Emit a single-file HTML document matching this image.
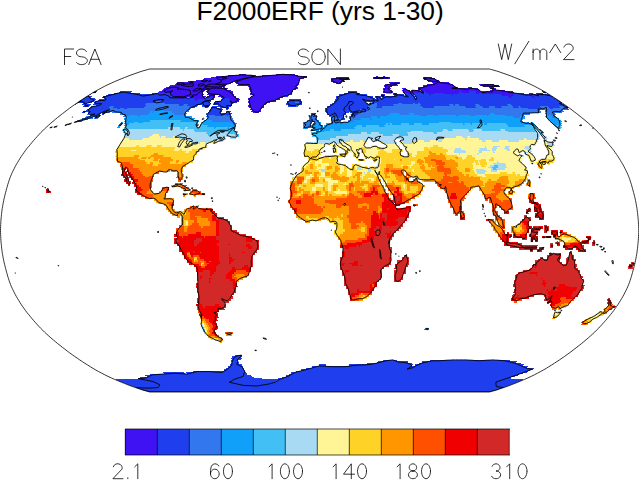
<!DOCTYPE html>
<html><head><meta charset="utf-8"><title>F2000ERF</title><style>html,body{margin:0;padding:0;background:#fff}body{width:639px;height:480px;overflow:hidden}svg{display:block}text{font-family:"Liberation Sans",sans-serif}</style></head><body>
<svg width="639" height="480" viewBox="0 0 639 480">
<rect width="639" height="480" fill="#fff"/>
<defs><clipPath id="g"><path d="M489.4,392L491.7,391.4L494.1,390.7L496.7,390L499.4,389.1L502.2,388.1L505.1,387.1L508.2,386L511.3,384.8L514.6,383.5L517.9,382.2L521.2,380.8L524.6,379.4L527.9,377.9L531.2,376.4L534.4,374.8L537.5,373.2L540.5,371.6L543.4,370L546.2,368.4L548.9,366.7L551.6,365L554.3,363.3L556.9,361.6L559.5,359.9L562,358.1L564.6,356.4L567.1,354.6L569.6,352.8L572,351L574.4,349.1L576.8,347.3L579.2,345.4L581.5,343.6L583.8,341.7L586,339.8L588.3,337.9L590.4,336L592.5,334.1L594.6,332.2L596.5,330.2L598.5,328.3L600.3,326.4L602.1,324.4L603.9,322.4L605.6,320.5L607.3,318.5L608.9,316.5L610.6,314.5L612.2,312.6L613.7,310.6L615.1,308.6L616.5,306.6L617.9,304.6L619.2,302.6L620.4,300.6L621.6,298.6L622.8,296.6L623.9,294.6L624.9,292.6L625.9,290.6L626.9,288.6L627.8,286.6L628.6,284.6L629.4,282.6L630.1,280.6L630.7,278.6L631.4,276.6L631.9,274.6L632.5,272.6L633,270.6L633.6,268.5L634.1,266.5L634.6,264.5L635.1,262.5L635.5,260.5L635.9,258.5L636.3,256.5L636.6,254.5L637,252.5L637.2,250.5L637.5,248.5L637.7,246.5L637.9,244.5L638.1,242.5L638.3,240.5L638.4,238.5L638.5,236.5L638.6,234.5L638.7,232.5L638.7,230.5L638.7,228.5L638.6,226.5L638.5,224.5L638.4,222.5L638.3,220.5L638.1,218.5L637.9,216.5L637.7,214.5L637.5,212.5L637.2,210.5L637,208.5L636.6,206.5L636.3,204.5L635.9,202.5L635.5,200.5L635.1,198.5L634.6,196.5L634.1,194.5L633.6,192.5L633,190.4L632.5,188.4L631.9,186.4L631.4,184.4L630.7,182.4L630.1,180.4L629.4,178.4L628.6,176.4L627.8,174.4L626.9,172.4L625.9,170.4L624.9,168.4L623.9,166.4L622.8,164.4L621.6,162.4L620.4,160.4L619.2,158.4L617.9,156.4L616.5,154.4L615.1,152.4L613.7,150.4L612.2,148.4L610.6,146.5L608.9,144.5L607.3,142.5L605.6,140.5L603.9,138.6L602.1,136.6L600.3,134.6L598.5,132.7L596.5,130.8L594.6,128.8L592.5,126.9L590.4,125L588.3,123.1L586,121.2L583.8,119.3L581.5,117.4L579.2,115.6L576.8,113.7L574.4,111.9L572,110L569.6,108.2L567.1,106.4L564.6,104.6L562,102.9L559.5,101.1L556.9,99.4L554.3,97.7L551.6,96L548.9,94.3L546.2,92.6L543.4,91L540.5,89.4L537.5,87.8L534.4,86.2L531.2,84.6L527.9,83.1L524.6,81.6L521.2,80.2L517.9,78.8L514.6,77.5L511.3,76.2L508.2,75L505.1,73.9L502.2,72.9L499.4,71.9L496.7,71L494.1,70.3L491.7,69.6L489.4,69L149.8,69L147.5,69.6L145.1,70.3L142.5,71L139.8,71.9L137,72.9L134.1,73.9L131,75L127.9,76.2L124.6,77.5L121.3,78.8L118,80.2L114.6,81.6L111.3,83.1L108,84.6L104.8,86.2L101.7,87.8L98.7,89.4L95.8,91L93,92.6L90.3,94.3L87.6,96L84.9,97.7L82.3,99.4L79.7,101.1L77.2,102.9L74.6,104.6L72.1,106.4L69.6,108.2L67.2,110L64.8,111.9L62.4,113.7L60,115.6L57.7,117.4L55.4,119.3L53.2,121.2L50.9,123.1L48.8,125L46.7,126.9L44.6,128.8L42.7,130.8L40.7,132.7L38.9,134.6L37.1,136.6L35.3,138.6L33.6,140.5L31.9,142.5L30.3,144.5L28.6,146.5L27,148.4L25.5,150.4L24.1,152.4L22.7,154.4L21.3,156.4L20,158.4L18.8,160.4L17.6,162.4L16.4,164.4L15.3,166.4L14.3,168.4L13.3,170.4L12.3,172.4L11.4,174.4L10.6,176.4L9.8,178.4L9.1,180.4L8.5,182.4L7.8,184.4L7.3,186.4L6.7,188.4L6.2,190.4L5.6,192.5L5.1,194.5L4.6,196.5L4.1,198.5L3.7,200.5L3.3,202.5L2.9,204.5L2.6,206.5L2.2,208.5L2,210.5L1.7,212.5L1.5,214.5L1.3,216.5L1.1,218.5L0.9,220.5L0.8,222.5L0.7,224.5L0.6,226.5L0.5,228.5L0.5,230.5L0.5,232.5L0.6,234.5L0.7,236.5L0.8,238.5L0.9,240.5L1.1,242.5L1.3,244.5L1.5,246.5L1.7,248.5L2,250.5L2.2,252.5L2.6,254.5L2.9,256.5L3.3,258.5L3.7,260.5L4.1,262.5L4.6,264.5L5.1,266.5L5.6,268.5L6.2,270.6L6.7,272.6L7.3,274.6L7.8,276.6L8.5,278.6L9.1,280.6L9.8,282.6L10.6,284.6L11.4,286.6L12.3,288.6L13.3,290.6L14.3,292.6L15.3,294.6L16.4,296.6L17.6,298.6L18.8,300.6L20,302.6L21.3,304.6L22.7,306.6L24.1,308.6L25.5,310.6L27,312.6L28.6,314.5L30.3,316.5L31.9,318.5L33.6,320.5L35.3,322.4L37.1,324.4L38.9,326.4L40.7,328.3L42.7,330.2L44.6,332.2L46.7,334.1L48.8,336L50.9,337.9L53.2,339.8L55.4,341.7L57.7,343.6L60,345.4L62.4,347.3L64.8,349.1L67.2,351L69.6,352.8L72.1,354.6L74.6,356.4L77.2,358.1L79.7,359.9L82.3,361.6L84.9,363.3L87.6,365L90.3,366.7L93,368.4L95.8,370L98.7,371.6L101.7,373.2L104.8,374.8L108,376.4L111.3,377.9L114.6,379.4L118,380.8L121.3,382.2L124.6,383.5L127.9,384.8L131,386L134.1,387.1L137,388.1L139.8,389.1L142.5,390L145.1,390.7L147.5,391.4L149.8,392Z"/></clipPath></defs>
<g clip-path="url(#g)" shape-rendering="crispEdges">
<path fill="#3f12f4" d="M252.5,113.3L258.5,113.3L259,111L253.1,111ZM251.4,111.6L260.8,111.6L261.3,109.3L252,109.3ZM250.2,109.9L261.3,109.9L261.9,107.6L250.9,107.6ZM249.1,108.2L263.6,108.2L264.1,105.9L249.8,105.9ZM248.1,106.5L264.1,106.5L264.7,104.2L248.8,104.2ZM230.1,104.8L232.4,104.8L233.2,102.5L230.9,102.5ZM248.8,104.8L266.4,104.8L266.9,102.5L249.5,102.5ZM215.8,103.1L219.8,103.1L220.8,100.9L216.8,100.9ZM229.3,103.1L236.6,103.1L237.4,100.9L230.2,100.9ZM247.8,103.1L270.3,103.1L270.7,100.9L248.5,100.9ZM193.5,101.5L197.4,101.5L198.7,99.2L194.8,99.2ZM228.5,101.5L239.1,101.5L239.9,99.2L229.4,99.2ZM248.5,101.5L275.7,101.5L276.2,99.2L249.2,99.2ZM176.6,99.8L183.8,99.8L185.2,97.6L178.1,97.6ZM193.1,99.8L205.3,99.8L206.5,97.6L194.4,97.6ZM211.3,99.8L213.5,99.8L214.6,97.6L212.4,97.6ZM227.8,99.8L238.3,99.8L239.1,97.6L228.7,97.6ZM247.6,99.8L279.5,99.8L279.9,97.6L248.3,97.6ZM173.2,98.2L186.9,98.2L188.3,96L174.8,96ZM189.5,98.2L204.8,98.2L206,96L190.9,96ZM205.9,98.2L214.6,98.2L215.7,96L207.1,96ZM220.6,98.2L235.8,98.2L236.7,96L221.6,96ZM249.9,98.2L283.2,98.2L283.6,96L250.7,96ZM509.5,98.2L513.3,98.2L511.3,96L507.4,96ZM532.3,98.2L536.2,98.2L533.9,96L530,96ZM168.3,96.6L202.8,96.6L204.1,94.4L170,94.4ZM208.7,96.6L214.1,96.6L215.3,94.4L209.9,94.4ZM218.4,96.6L233.5,96.6L234.4,94.4L219.5,94.4ZM252.3,96.6L285.2,96.6L285.6,94.4L253,94.4ZM381.5,96.6L385.3,96.6L384.6,94.4L380.8,94.4ZM429.9,96.6L432.1,96.6L430.9,94.4L428.7,94.4ZM452.5,96.6L454.7,96.6L453.3,94.4L451.1,94.4ZM502.6,96.6L516.1,96.6L514,94.4L500.6,94.4ZM530,96.6L538.7,96.6L536.3,94.4L527.8,94.4ZM541.3,96.6L545.2,96.6L542.7,94.4L538.9,94.4ZM166.8,95L202.5,95L203.8,92.8L168.5,92.8ZM206.7,95L232.8,95L233.8,92.8L207.9,92.8ZM249.8,95L288.8,95L289.1,92.8L250.6,92.8ZM393.6,95L397.4,95L396.5,92.8L392.7,92.8ZM408,95L413.3,95L412.3,92.8L407,92.8ZM428.7,95L435.7,95L434.4,92.8L427.5,92.8ZM444.7,95L459.7,95L458.1,92.8L443.3,92.8ZM476.6,95L480.4,95L478.6,92.8L474.9,92.8ZM483,95L515.6,95L513.4,92.8L481.2,92.8ZM530.9,95L534.7,95L532.3,92.8L528.6,92.8ZM537.3,95L544.3,95L541.8,92.8L534.9,92.8ZM159,93.4L202.2,93.4L203.6,91.3L160.8,91.3ZM206.4,93.4L232.2,93.4L233.2,91.3L207.7,91.3ZM250.6,93.4L292.3,93.4L292.6,91.3L251.4,91.3ZM348.5,93.4L350.7,93.4L350.3,91.3L348.2,91.3ZM383.3,93.4L393.3,93.4L392.5,91.3L382.5,91.3ZM403.8,93.4L420.2,93.4L419,91.3L402.8,91.3ZM425.9,93.4L461.3,93.4L459.6,91.3L424.7,91.3ZM462.2,93.4L470.7,93.4L469,91.3L460.6,91.3ZM476.5,93.4L515,93.4L512.7,91.3L474.6,91.3ZM544.4,93.4L546.6,93.4L543.9,91.3L541.8,91.3ZM160.8,91.9L203.6,91.9L205,89.8L162.7,89.8ZM206.1,91.9L230.1,91.9L231.2,89.8L207.5,89.8ZM249.8,91.9L292.6,91.9L292.9,89.8L250.7,89.8ZM384.1,91.9L392.5,91.9L391.6,89.8L383.3,89.8ZM402.8,91.9L411.2,91.9L410.1,89.8L401.8,89.8ZM412.2,91.9L420.6,91.9L419.4,89.8L411.1,89.8ZM421.6,91.9L481.5,91.9L479.6,89.8L420.3,89.8ZM491.8,91.9L506.5,91.9L504.2,89.8L489.8,89.8ZM162.7,90.4L226.6,90.4L227.7,88.2L164.7,88.2ZM249.1,90.4L296,90.4L296.3,88.2L250,88.2ZM383.3,90.4L390.1,90.4L389.2,88.2L382.5,88.2ZM403.4,90.4L407.1,90.4L406,88.2L402.3,88.2ZM418.8,90.4L479.6,90.4L477.6,88.2L417.6,88.2ZM492.8,90.4L496.5,90.4L494.3,88.2L490.7,88.2ZM164.7,88.8L221.6,88.8L222.9,86.7L166.7,86.7ZM222.6,88.8L224.7,88.8L225.9,86.7L223.8,86.7ZM248.5,88.8L297.8,88.8L298.1,86.7L249.4,86.7ZM385.6,88.8L390.7,88.8L389.8,86.7L384.7,86.7ZM419.1,88.8L459.3,88.8L457.5,86.7L417.8,86.7ZM469.4,88.8L473,88.8L471,86.7L467.4,86.7ZM490.7,88.8L495.9,88.8L493.6,86.7L488.5,86.7ZM168.2,87.3L224.4,87.3L225.7,85.3L170.2,85.3ZM247.9,87.3L296.6,87.3L296.9,85.3L248.9,85.3ZM384.7,87.3L392.8,87.3L391.8,85.3L383.8,85.3ZM423.8,87.3L456,87.3L454.1,85.3L422.4,85.3ZM484,87.3L501.1,87.3L498.6,85.3L481.7,85.3ZM173.2,85.9L225.7,85.9L227.1,83.8L175.3,83.8ZM237,85.9L298.4,85.9L298.7,83.8L238.2,83.8ZM385.3,85.9L397.8,85.9L396.7,83.8L384.4,83.8ZM428.3,85.9L454.1,85.9L452.2,83.8L426.8,83.8ZM480.2,85.9L495.7,85.9L493.1,83.8L477.9,83.8ZM175.3,84.4L230,84.4L231.3,82.4L177.4,82.4ZM235.2,84.4L298.7,84.4L299,82.4L236.5,82.4ZM336.1,84.4L341.1,84.4L340.8,82.4L335.9,82.4ZM390.2,84.4L401,84.4L399.8,82.4L389.2,82.4ZM434.1,84.4L450.7,84.4L448.8,82.4L432.4,82.4ZM186.1,83L232.8,83L234.1,81L188.1,81ZM235,83L299,83L299.3,81L236.3,81ZM333,83L342.2,83L341.9,81L332.8,81ZM433.8,83L441.6,83L439.7,81L432.1,81ZM195.2,81.6L236.9,81.6L238.2,79.6L197.1,79.6ZM237.8,81.6L299.3,81.6L299.7,79.6L239,79.6ZM331.4,81.6L344.7,81.6L344.3,79.6L331.2,79.6ZM427.8,81.6L439.7,81.6L437.9,79.6L426.1,79.6ZM202.7,80.2L299.7,80.2L300,78.3L204.5,78.3ZM331.2,80.2L349.9,80.2L349.4,78.3L331,78.3ZM424.7,80.2L436.5,80.2L434.7,78.3L423.1,78.3ZM210,78.9L304.1,78.9L304.3,77.1L211.7,77.1ZM336.5,78.9L349.4,78.9L349,77.1L336.2,77.1ZM373.6,78.9L390.7,78.9L389.6,77.1L372.7,77.1ZM424.4,78.9L433.3,78.9L431.5,77.1L422.8,77.1ZM214.5,77.7L307,77.7L307.2,75.9L216.1,75.9ZM376.8,77.7L378.7,77.7L377.8,75.9L375.9,75.9ZM383.6,77.7L385.5,77.7L384.5,75.9L382.6,75.9ZM226.7,76.5L255.3,76.5L256.3,74.8L228.2,74.8ZM261.4,76.5L297.9,76.5L298.3,74.8L262.3,74.8ZM238.7,75.4L245.8,75.4L247,73.7L239.9,73.7ZM275.4,75.4L294.3,75.4L294.7,73.7L276,73.7Z"/>
<path fill="#1f3fee" d="M149.5,392.3L489.1,392.3L490.2,391.4L148.4,391.4ZM148.4,392L490.2,392L492.4,390.8L146.2,390.8ZM146.2,391.4L492.4,391.4L494.7,390.2L143.9,390.2ZM143.9,390.8L494.7,390.8L497.1,389.4L141.5,389.4ZM141.5,390L497.1,390L499.7,388.6L138.9,388.6ZM138.9,389.2L499.7,389.2L502.4,387.7L136.2,387.7ZM136.2,388.3L502.4,388.3L505.2,386.7L133.4,386.7ZM134,387.3L505.2,387.3L508,385.6L131.2,385.6ZM131.2,386.2L508,386.2L511,384.5L128.2,384.5ZM128.2,385.1L511,385.1L514,383.3L125.2,383.3ZM125.2,383.9L514,383.9L517.1,382.1L122.1,382.1ZM122.1,382.7L517.1,382.7L520.3,380.8L118.9,380.8ZM118.9,381.4L520.3,381.4L523.4,379.4L115.8,379.4ZM139.9,380L262.5,380L261.6,378L137.1,378ZM278.9,380L509.2,380L512.2,378L278.3,378ZM141.4,378.6L254.4,378.6L253.4,376.6L138.8,376.6ZM282.6,378.6L509.3,378.6L512.1,376.6L282,376.6ZM147.5,377.2L251.9,377.2L250.9,375.1L145,375.1ZM286.4,377.2L513.6,377.2L516.4,375.1L285.9,375.1ZM151,375.7L248,375.7L247,373.7L148.6,373.7ZM288.9,375.7L517.9,375.7L520.6,373.7L288.5,373.7ZM165.2,374.3L185.3,374.3L183.5,372.2L163.1,372.2ZM187.7,374.3L247,374.3L246,372.2L186,372.2ZM291.5,374.3L522.1,374.3L524.8,372.2L291.1,372.2ZM193.6,372.8L246,372.8L245.1,370.6L192,370.6ZM295.7,372.8L526.3,372.8L528.9,370.6L295.4,370.6ZM224.4,371.2L245.1,371.2L244.2,369.1L223.3,369.1ZM301.6,371.2L528.9,371.2L531.5,369.1L301.3,369.1ZM226.4,369.7L244.2,369.7L243.3,367.6L225.3,367.6ZM306,369.7L533,369.7L535.5,367.6L305.9,367.6ZM228.5,368.2L243.3,368.2L242.4,366L227.5,366ZM312.2,368.2L526,368.2L528.4,366L312.1,366ZM230.6,366.6L242.4,366.6L241.6,364.4L229.7,364.4ZM318.5,366.6L325.5,366.6L325.6,364.4L318.5,364.4ZM348.9,366.6L411.7,366.6L412.8,364.4L349.2,364.4ZM414.3,366.6L522,366.6L524.2,364.4L415.4,364.4ZM231.3,365L240,365L239.1,362.8L230.3,362.8ZM366.9,365L411.1,365L412.1,362.8L367.5,362.8ZM418.6,365L519.3,365L521.5,362.8L419.7,362.8ZM232,363.4L239.1,363.4L238.3,361.2L231.1,361.2ZM377.2,363.4L407.2,363.4L408.1,361.2L377.9,361.2ZM421.3,363.4L515,363.4L517,361.2L422.4,361.2ZM231.1,361.8L238.3,361.8L237.4,359.5L230.2,359.5ZM382.8,361.8L396.6,361.8L397.4,359.5L383.5,359.5ZM429,361.8L508.7,361.8L510.7,359.5L430.1,359.5ZM231.8,360.1L240.8,360.1L240,357.9L230.9,357.9ZM232.6,358.5L241.6,358.5L240.9,356.2L231.8,356.2ZM235.2,356.8L242.6,356.8L241.8,354.5L234.4,354.5ZM340.5,120.3L344.8,120.3L344.6,118L340.3,118ZM336.6,118.6L344.6,118.6L344.3,116.2L336.5,116.2ZM88.4,116.8L96.2,116.8L98.1,114.5L90.4,114.5ZM213.4,116.8L223,116.8L223.8,114.5L214.3,114.5ZM226,116.8L228.4,116.8L229.2,114.5L226.8,114.5ZM311.2,116.8L313.6,116.8L313.6,114.5L311.2,114.5ZM331.1,116.8L344.3,116.8L344.1,114.5L331,114.5ZM351,116.8L357,116.8L356.7,114.5L350.7,114.5ZM88.6,115.1L99.9,115.1L101.8,112.7L90.6,112.7ZM101.1,115.1L103.5,115.1L105.4,112.7L103,112.7ZM207.1,115.1L231,115.1L231.8,112.7L208,112.7ZM311.2,115.1L315.4,115.1L315.4,112.7L311.3,112.7ZM327.4,115.1L345.9,115.1L345.7,112.7L327.3,112.7ZM352.5,115.1L358.5,115.1L358.2,112.7L352.2,112.7ZM81.7,113.3L84,113.3L86.1,111L83.8,111ZM87,113.3L105.4,113.3L107.3,111L89,111ZM208,113.3L221.1,113.3L222,111L209,111ZM225.8,113.3L230,113.3L230.8,111L226.7,111ZM325.5,113.3L349.3,113.3L349,111L325.5,111ZM350.5,113.3L360,113.3L359.6,111L350.2,111ZM85.5,111.6L107.3,111.6L109.2,109.3L87.6,109.3ZM209,111.6L222,111.6L222.9,109.3L210,109.3ZM325.5,111.6L361.4,111.6L361,109.3L325.4,109.3ZM362.5,111.6L368.4,111.6L368,109.3L362.1,109.3ZM87.6,109.9L109.2,109.9L111.2,107.6L89.8,107.6ZM115.6,109.9L119.7,109.9L121.5,107.6L117.5,107.6ZM122.6,109.9L126.7,109.9L128.5,107.6L124.4,107.6ZM210,109.9L221.1,109.9L222,107.6L211,107.6ZM225.8,109.9L228.1,109.9L229,107.6L226.6,107.6ZM325.4,109.9L368,109.9L367.5,107.6L325.4,107.6ZM528.2,109.9L541.1,109.9L539,107.6L526.3,107.6ZM551,109.9L555.1,109.9L552.9,107.6L548.8,107.6ZM566.7,109.9L569.1,109.9L566.8,107.6L564.4,107.6ZM89.8,108.2L109.4,108.2L111.4,105.9L91.9,105.9ZM112.3,108.2L144.1,108.2L145.7,105.9L114.2,105.9ZM188.5,108.2L194.3,108.2L195.5,105.9L189.7,105.9ZM211,108.2L216.8,108.2L217.8,105.9L212,105.9ZM219.7,108.2L229,108.2L229.8,105.9L220.6,105.9ZM327.1,108.2L369.3,108.2L368.8,105.9L327,105.9ZM375.6,108.2L383.1,108.2L382.5,105.9L375.1,105.9ZM422.4,108.2L435.1,108.2L434,105.9L421.4,105.9ZM465.7,108.2L476.7,108.2L475.2,105.9L464.3,105.9ZM483,108.2L490.5,108.2L488.9,105.9L481.5,105.9ZM495.1,108.2L502.7,108.2L500.9,105.9L493.5,105.9ZM512.5,108.2L520,108.2L518.1,105.9L510.6,105.9ZM521.1,108.2L542.5,108.2L540.4,105.9L519.2,105.9ZM548.8,108.2L561.6,108.2L559.3,105.9L546.7,105.9ZM564.4,108.2L568.5,108.2L566.2,105.9L562.1,105.9ZM83.3,106.5L89.1,106.5L91.3,104.2L85.6,104.2ZM95.4,106.5L145.7,106.5L147.4,104.2L97.5,104.2ZM177.7,106.5L183.5,106.5L184.8,104.2L179.1,104.2ZM186.3,106.5L197.2,106.5L198.4,104.2L187.6,104.2ZM201.7,106.5L209.2,106.5L210.3,104.2L202.9,104.2ZM217.2,106.5L231.5,106.5L232.4,104.2L218.2,104.2ZM287.6,106.5L296.7,106.5L297,104.2L287.9,104.2ZM330.5,106.5L370.5,106.5L370,104.2L330.3,104.2ZM376.8,106.5L394.5,106.5L393.8,104.2L376.2,104.2ZM419.7,106.5L451.2,106.5L449.9,104.2L418.7,104.2ZM454,106.5L456.3,106.5L455,104.2L452.7,104.2ZM459.2,106.5L476.9,106.5L475.4,104.2L457.8,104.2ZM479.8,106.5L509.5,106.5L507.7,104.2L478.2,104.2ZM512.4,106.5L566.2,106.5L563.8,104.2L510.5,104.2ZM74.6,104.8L76,104.8L78.4,102.5L76.9,102.5ZM82.2,104.8L86.2,104.8L88.5,102.5L84.5,102.5ZM92.4,104.8L145.7,104.8L147.4,102.5L94.6,102.5ZM163.8,104.8L210.3,104.8L211.3,102.5L165.3,102.5ZM213.1,104.8L230.7,104.8L231.5,102.5L214.1,102.5ZM286.2,104.8L302.1,104.8L302.2,102.5L286.5,102.5ZM332,104.8L368.3,104.8L367.9,102.5L331.9,102.5ZM369.4,104.8L371.7,104.8L371.2,102.5L368.9,102.5ZM376.2,104.8L398.9,104.8L398.2,102.5L375.7,102.5ZM401.7,104.8L414.2,104.8L413.3,102.5L400.9,102.5ZM415.3,104.8L419.3,104.8L418.4,102.5L414.4,102.5ZM420.4,104.8L563.8,104.8L561.4,102.5L419.4,102.5ZM76.9,103.1L91.9,103.1L94.1,100.9L79.4,100.9ZM92.9,103.1L155.8,103.1L157.4,100.9L95.2,100.9ZM160.3,103.1L209.7,103.1L210.8,100.9L161.8,100.9ZM214.1,103.1L216.4,103.1L217.4,100.9L215.2,100.9ZM219.2,103.1L229.9,103.1L230.8,100.9L220.2,100.9ZM286.5,103.1L295.5,103.1L295.7,100.9L286.8,100.9ZM298.3,103.1L302.2,103.1L302.4,100.9L298.5,100.9ZM333.6,103.1L366.2,103.1L365.7,100.9L333.5,100.9ZM372.3,103.1L561.4,103.1L559,100.9L371.8,100.9ZM79.4,101.5L94.1,101.5L96.4,99.2L81.8,99.2ZM96.9,101.5L194.1,101.5L195.4,99.2L99.1,99.2ZM196.8,101.5L210.8,101.5L211.9,99.2L198.1,99.2ZM220.2,101.5L229.1,101.5L230,99.2L221.2,99.2ZM288.5,101.5L300.7,101.5L300.9,99.2L288.8,99.2ZM335.1,101.5L559,101.5L556.6,99.2L335,99.2ZM81.8,99.8L93.1,99.8L95.5,97.6L84.3,97.6ZM102.4,99.8L177.2,99.8L178.7,97.6L104.7,97.6ZM183.2,99.8L193.7,99.8L195,97.6L184.6,97.6ZM204.7,99.8L211.9,99.8L213,97.6L205.9,97.6ZM221.2,99.8L228.4,99.8L229.3,97.6L222.2,97.6ZM336.6,99.8L375.2,99.8L374.6,97.6L336.4,97.6ZM376.2,99.8L556.6,99.8L554.1,97.6L375.6,97.6ZM84.3,98.2L90.6,98.2L93,96L86.8,96ZM101.4,98.2L173.8,98.2L175.4,96L103.7,96ZM336.4,98.2L372.9,98.2L372.4,96L336.3,96ZM375.6,98.2L381.1,98.2L380.5,96L375,96ZM382.1,98.2L415.4,98.2L414.4,96L381.5,96ZM416.4,98.2L510.1,98.2L508,96L415.4,96ZM512.7,98.2L532.9,98.2L530.6,96L510.7,96ZM535.6,98.2L554.1,98.2L551.6,96L533.3,96ZM86.8,96.6L88.2,96.6L90.7,94.4L89.3,94.4ZM105.3,96.6L168.9,96.6L170.6,94.4L107.7,94.4ZM284.6,96.6L288.4,96.6L288.8,94.4L285,94.4ZM339.5,96.6L367.5,96.6L367,94.4L339.3,94.4ZM394.4,96.6L404.7,96.6L403.8,94.4L393.6,94.4ZM405.7,96.6L414.4,96.6L413.3,94.4L404.8,94.4ZM415.4,96.6L430.5,96.6L429.3,94.4L414.3,94.4ZM431.5,96.6L453.1,96.6L451.7,94.4L430.3,94.4ZM454.1,96.6L503.2,96.6L501.2,94.4L452.7,94.4ZM515.5,96.6L530.6,96.6L528.4,94.4L513.4,94.4ZM538.1,96.6L541.9,96.6L539.5,94.4L535.7,94.4ZM544.6,96.6L551.6,96.6L549.1,94.4L542.1,94.4ZM112.4,95L138.6,95L140.6,92.8L114.8,92.8ZM150.8,95L167.4,95L169.1,92.8L152.7,92.8ZM288.2,95L291.9,95L292.3,92.8L288.5,92.8ZM344.1,95L360.6,95L360.2,92.8L343.8,92.8ZM404.8,95L408.6,95L407.6,92.8L403.8,92.8ZM412.7,95L429.3,95L428.1,92.8L411.7,92.8ZM435.1,95L445.3,95L443.9,92.8L433.8,92.8ZM459.1,95L477.2,95L475.5,92.8L457.5,92.8ZM479.8,95L483.6,95L481.8,92.8L478,92.8ZM515,95L525.2,95L522.9,92.8L512.8,92.8ZM91.9,93.4L94.8,93.4L97.4,91.3L94.5,91.3ZM117.9,93.4L129.6,93.4L131.8,91.3L120.2,91.3ZM157.4,93.4L159.6,93.4L161.4,91.3L159.3,91.3ZM350.1,93.4L357,93.4L356.6,91.3L349.7,91.3ZM419.6,93.4L426.5,93.4L425.3,91.3L418.4,91.3ZM460.7,93.4L462.8,93.4L461.2,91.3L459,91.3ZM470.1,93.4L477.1,93.4L475.2,91.3L468.4,91.3Z"/>
<path fill="#3277ee" d="M424.2,330.4L426.7,330.4L427.4,328L424.8,328ZM305.1,127.5L311.4,127.5L311.4,125.1L305.2,125.1ZM231.7,125.7L236.1,125.7L236.7,123.3L232.3,123.3ZM303.3,125.7L311.4,125.7L311.5,123.3L303.4,123.3ZM312.7,125.7L315.2,125.7L315.2,123.3L312.8,123.3ZM228.6,123.9L234.8,123.9L235.5,121.5L229.3,121.5ZM303.4,123.9L311.5,123.9L311.5,121.5L303.5,121.5ZM314.6,123.9L317.1,123.9L317.1,121.5L314.7,121.5ZM331.5,123.9L348.9,123.9L348.7,121.5L331.4,121.5ZM75.3,122.1L81.5,122.1L83.3,119.7L77.2,119.7ZM210.7,122.1L233.6,122.1L234.3,119.7L211.6,119.7ZM307.2,122.1L319,122.1L319,119.7L307.3,119.7ZM331.4,122.1L341.2,122.1L341.1,119.7L331.3,119.7ZM348.1,122.1L354.2,122.1L354,119.7L347.8,119.7ZM80.9,120.3L87,120.3L88.9,118L82.8,118ZM206.1,120.3L232.5,120.3L233.2,118L207,118ZM309.2,120.3L317.1,120.3L317.2,118L309.3,118ZM331.3,120.3L341.1,120.3L340.9,118L331.2,118ZM349.7,120.3L361.3,120.3L361,118L349.4,118ZM369.9,120.3L372.4,120.3L371.9,118L369.5,118ZM84.6,118.6L92.5,118.6L94.4,116.2L86.6,116.2ZM93.8,118.6L98,118.6L99.9,116.2L95.6,116.2ZM207,118.6L231.3,118.6L232.1,116.2L207.9,116.2ZM309.3,118.6L317.2,118.6L317.2,116.2L309.3,116.2ZM331.2,118.6L337.2,118.6L337.1,116.2L331.1,116.2ZM349.4,118.6L371.9,118.6L371.5,116.2L349.2,116.2ZM376.8,118.6L381.1,118.6L380.6,116.2L376.3,116.2ZM513.8,118.6L521.7,118.6L520,116.2L512.2,116.2ZM552.1,118.6L556.4,118.6L554.4,116.2L550.2,116.2ZM95.6,116.8L99.9,116.8L101.7,114.5L97.5,114.5ZM122.8,116.8L128.8,116.8L130.5,114.5L124.5,114.5ZM135.5,116.8L139.7,116.8L141.2,114.5L137,114.5ZM182.6,116.8L185,116.8L186.1,114.5L183.7,114.5ZM206.1,116.8L214,116.8L214.9,114.5L207.1,114.5ZM222.4,116.8L226.6,116.8L227.4,114.5L223.2,114.5ZM227.8,116.8L230.3,116.8L231,114.5L228.6,114.5ZM313,116.8L317.2,116.8L317.2,114.5L313,114.5ZM329.3,116.8L331.7,116.8L331.6,114.5L329.2,114.5ZM356.4,116.8L387.8,116.8L387.2,114.5L356.1,114.5ZM419.8,116.8L427.7,116.8L426.7,114.5L419,114.5ZM434.3,116.8L438.5,116.8L437.5,114.5L433.3,114.5ZM456,116.8L460.3,116.8L459.1,114.5L454.9,114.5ZM470.5,116.8L476.6,116.8L475.2,114.5L469.2,114.5ZM486.8,116.8L489.2,116.8L487.8,114.5L485.4,114.5ZM504.9,116.8L525.4,116.8L523.7,114.5L503.4,114.5ZM546.6,116.8L549,116.8L547.1,114.5L544.7,114.5ZM552,116.8L556.2,116.8L554.2,114.5L550,114.5ZM86.8,115.1L89.2,115.1L91.2,112.7L88.8,112.7ZM119.1,115.1L148.4,115.1L149.9,112.7L120.8,112.7ZM173,115.1L186.1,115.1L187.3,112.7L174.2,112.7ZM205.3,115.1L207.7,115.1L208.6,112.7L206.3,112.7ZM357.9,115.1L390.8,115.1L390.2,112.7L357.6,112.7ZM399.2,115.1L410.6,115.1L409.8,112.7L398.5,112.7ZM413.6,115.1L491.4,115.1L489.9,112.7L412.8,112.7ZM494.4,115.1L530.9,115.1L529.1,112.7L492.9,112.7ZM546.5,115.1L556,115.1L554,112.7L544.5,112.7ZM104.8,113.3L109,113.3L110.8,111L106.7,111ZM111.9,113.3L149.9,113.3L151.4,111L113.7,111ZM151.1,113.3L153.5,113.3L154.9,111L152.6,111ZM170.7,113.3L185.5,113.3L186.7,111L172,111ZM359.4,113.3L541.5,113.3L539.6,111L359,111ZM546.3,113.3L562.9,113.3L560.7,111L544.3,111ZM106.7,111.6L156.7,111.6L158.2,109.3L108.6,109.3ZM163.2,111.6L188.5,111.6L189.6,109.3L164.6,109.3ZM360.8,111.6L363.1,111.6L362.7,109.3L360.4,109.3ZM367.8,111.6L541.3,111.6L539.3,109.3L367.4,109.3ZM546,111.6L564.3,111.6L562.1,109.3L544,109.3ZM108.6,109.9L116.2,109.9L118.1,107.6L110.6,107.6ZM119.1,109.9L123.2,109.9L125,107.6L120.9,107.6ZM126.1,109.9L189.6,109.9L190.8,107.6L127.9,107.6ZM367.4,109.9L528.8,109.9L526.9,107.6L366.9,107.6ZM540.5,109.9L551.6,109.9L549.4,107.6L538.4,107.6ZM554.5,109.9L567.3,109.9L565,107.6L552.3,107.6ZM108.8,108.2L112.9,108.2L114.8,105.9L110.8,105.9ZM143.5,108.2L189.1,108.2L190.3,105.9L145.1,105.9ZM368.7,108.2L376.2,108.2L375.7,105.9L368.2,105.9ZM382.5,108.2L423,108.2L422,105.9L381.9,105.9ZM434.5,108.2L466.3,108.2L464.9,105.9L433.4,105.9ZM476.1,108.2L483.6,108.2L482.1,105.9L474.6,105.9ZM489.9,108.2L495.7,108.2L494.1,105.9L488.3,105.9ZM502.1,108.2L513.1,108.2L511.2,105.9L500.3,105.9ZM519.4,108.2L521.7,108.2L519.8,105.9L517.5,105.9ZM541.9,108.2L549.4,108.2L547.3,105.9L539.8,105.9ZM561,108.2L565,108.2L562.7,105.9L558.7,105.9ZM145.1,106.5L178.3,106.5L179.7,104.2L146.8,104.2ZM182.9,106.5L186.9,106.5L188.2,104.2L184.2,104.2ZM296.1,106.5L298.4,106.5L298.7,104.2L296.4,104.2ZM369.9,106.5L377.4,106.5L376.8,104.2L369.4,104.2ZM393.9,106.5L420.3,106.5L419.3,104.2L393.2,104.2ZM450.6,106.5L454.6,106.5L453.3,104.2L449.3,104.2ZM455.7,106.5L459.8,106.5L458.4,104.2L454.4,104.2ZM476.3,106.5L480.4,106.5L478.8,104.2L474.8,104.2ZM508.9,106.5L513,106.5L511.1,104.2L507.1,104.2ZM145.1,104.8L164.4,104.8L165.9,102.5L146.8,102.5ZM371.1,104.8L376.8,104.8L376.3,102.5L370.6,102.5ZM398.3,104.8L402.3,104.8L401.5,102.5L397.6,102.5ZM413.6,104.8L415.9,104.8L415,102.5L412.7,102.5ZM418.7,104.8L421,104.8L420,102.5L417.8,102.5ZM155.2,103.1L160.9,103.1L162.4,100.9L156.8,100.9ZM294.9,103.1L298.9,103.1L299.1,100.9L295.1,100.9Z"/>
<path fill="#10a0fa" d="M426.1,330.4L428.6,330.4L429.3,328L426.8,328ZM316.4,133L324.7,133L324.7,130.6L316.4,130.6ZM310.6,131.2L318.9,131.2L318.9,128.7L310.7,128.7ZM320.3,131.2L330.5,131.2L330.4,128.7L320.3,128.7ZM333.7,131.2L342,131.2L341.9,128.7L333.6,128.7ZM213.2,129.3L215.7,129.3L216.5,126.9L214,126.9ZM226.6,129.3L229.1,129.3L229.8,126.9L227.3,126.9ZM230.4,129.3L234.9,129.3L235.5,126.9L231.1,126.9ZM303.1,129.3L307.5,129.3L307.6,126.9L303.2,126.9ZM312.6,129.3L355.3,129.3L355,126.9L312.7,126.9ZM117.2,127.5L119.7,127.5L121.1,125.1L118.7,125.1ZM206.4,127.5L235.5,127.5L236.1,125.1L207.2,125.1ZM303.2,127.5L305.7,127.5L305.8,125.1L303.3,125.1ZM310.8,127.5L322.7,127.5L322.7,125.1L310.8,125.1ZM324,127.5L356.9,127.5L356.6,125.1L324,125.1ZM362,127.5L366.4,127.5L366.1,125.1L361.7,125.1ZM379.1,127.5L385.4,127.5L384.9,125.1L378.6,125.1ZM508.1,127.5L525.8,127.5L524.3,125.1L506.8,125.1ZM534.7,127.5L537.2,127.5L535.6,125.1L533.1,125.1ZM555.6,127.5L558.1,127.5L556.3,125.1L553.9,125.1ZM118.7,125.7L121.1,125.7L122.6,123.3L120.2,123.3ZM124.3,125.7L128.7,125.7L130.1,123.3L125.8,123.3ZM201.6,125.7L232.3,125.7L232.9,123.3L202.4,123.3ZM314.6,125.7L320.8,125.7L320.8,123.3L314.6,123.3ZM325.9,125.7L386.8,125.7L386.3,123.3L325.8,123.3ZM388.1,125.7L390.5,125.7L390,123.3L387.6,123.3ZM391.8,125.7L401.9,125.7L401.2,123.3L391.3,123.3ZM408.8,125.7L415,125.7L414.3,123.3L408.1,123.3ZM422,125.7L430.1,125.7L429.3,123.3L421.2,123.3ZM463.4,125.7L465.9,125.7L464.8,123.3L462.4,123.3ZM471,125.7L473.4,125.7L472.3,123.3L469.8,123.3ZM484.1,125.7L488.5,125.7L487.3,123.3L482.9,123.3ZM506.8,125.7L535.6,125.7L534,123.3L505.4,123.3ZM553.9,125.7L562,125.7L560.2,123.3L552.1,123.3ZM120.2,123.9L122.6,123.9L124.1,121.5L121.7,121.5ZM123.9,123.9L133.8,123.9L135.3,121.5L125.4,121.5ZM137,123.9L143.2,123.9L144.5,121.5L138.4,121.5ZM194.9,123.9L197.4,123.9L198.4,121.5L195.9,121.5ZM200.6,123.9L229.2,123.9L229.9,121.5L201.5,121.5ZM316.5,123.9L320.8,123.9L320.8,121.5L316.5,121.5ZM348.3,123.9L440.5,123.9L439.6,121.5L348.1,121.5ZM451.1,123.9L530.3,123.9L528.7,121.5L450.1,121.5ZM531.5,123.9L534,123.9L532.4,121.5L529.9,121.5ZM552.1,123.9L562.1,123.9L560.2,121.5L550.3,121.5ZM123.5,122.1L150.1,122.1L151.5,119.7L125.1,119.7ZM179.2,122.1L198.4,122.1L199.3,119.7L180.3,119.7ZM203.3,122.1L211.3,122.1L212.2,119.7L204.2,119.7ZM353.6,122.1L523.1,122.1L521.5,119.7L353.4,119.7ZM550.3,122.1L562.1,122.1L560.1,119.7L548.5,119.7ZM123.2,120.3L193.8,120.3L194.8,118L124.8,118ZM360.7,120.3L370.5,120.3L370.1,118L360.4,118ZM371.8,120.3L523.3,120.3L521.7,118L371.3,118ZM548.5,120.3L560.1,120.3L558.2,118L546.7,118ZM124.8,118.6L191.2,118.6L192.2,116.2L126.4,116.2ZM371.3,118.6L377.4,118.6L376.9,116.2L370.9,116.2ZM380.5,118.6L514.4,118.6L512.8,116.2L380,116.2ZM521.1,118.6L525.3,118.6L523.6,116.2L519.4,116.2ZM546.7,118.6L552.7,118.6L550.8,116.2L544.8,116.2ZM555.8,118.6L558.2,118.6L556.2,116.2L553.8,116.2ZM128.2,116.8L136.1,116.8L137.6,114.5L129.9,114.5ZM139.1,116.8L183.2,116.8L184.3,114.5L140.6,114.5ZM387.2,116.8L420.4,116.8L419.6,114.5L386.6,114.5ZM427.1,116.8L434.9,116.8L433.9,114.5L426.1,114.5ZM437.9,116.8L456.6,116.8L455.5,114.5L436.9,114.5ZM459.7,116.8L471.1,116.8L469.8,114.5L458.5,114.5ZM476,116.8L487.4,116.8L486,114.5L474.6,114.5ZM488.6,116.8L505.5,116.8L504,114.5L487.2,114.5ZM548.4,116.8L552.6,116.8L550.6,114.5L546.5,114.5ZM147.8,115.1L173.6,115.1L174.8,112.7L149.3,112.7ZM390.2,115.1L399.8,115.1L399.1,112.7L389.6,112.7ZM410,115.1L414.2,115.1L413.4,112.7L409.2,112.7ZM490.8,115.1L495,115.1L493.5,112.7L489.3,112.7ZM149.3,113.3L151.7,113.3L153.2,111L150.8,111ZM152.9,113.3L171.3,113.3L172.6,111L154.3,111ZM156.1,111.6L163.8,111.6L165.2,109.3L157.6,109.3Z"/>
<path fill="#42bff4" d="M203.7,332.3L206.2,332.3L205.4,329.8L202.9,329.8ZM202.9,330.4L205.4,330.4L204.7,328L202.1,328ZM202.1,328.6L204.7,328.6L204,326.2L201.4,326.2ZM492.6,170.4L497.4,170.4L496.9,167.9L492.1,167.9ZM492.1,168.5L499,168.5L498.4,166L491.5,166ZM493.6,166.6L498.4,166.6L497.8,164.1L493,164.1ZM316.3,140.4L330.8,140.4L330.7,137.9L316.3,137.9ZM316.3,138.5L336.7,138.5L336.6,136.1L316.4,136.1ZM206.6,136.7L211.1,136.7L211.8,134.2L207.3,134.2ZM234,136.7L238.5,136.7L239,134.2L234.5,134.2ZM312.4,136.7L348.3,136.7L348.2,134.2L312.5,134.2ZM383,136.7L393.4,136.7L393,134.2L382.6,134.2ZM398.7,136.7L409.1,136.7L408.6,134.2L398.2,134.2ZM205.3,134.8L217.6,134.8L218.2,132.4L206,132.4ZM226.7,134.8L237.1,134.8L237.6,132.4L227.3,132.4ZM310.5,134.8L361.8,134.8L361.5,132.4L310.6,132.4ZM367,134.8L371.5,134.8L371.2,132.4L366.7,132.4ZM378.7,134.8L408.6,134.8L408,132.4L378.4,132.4ZM433.3,134.8L437.8,134.8L437.1,132.4L432.6,132.4ZM540.5,134.8L543,134.8L541.6,132.4L539.1,132.4ZM122.8,133L125.3,133L126.5,130.6L124,130.6ZM194.4,133L237.6,133L238.1,130.6L195.2,130.6ZM324.1,133L411.9,133L411.3,130.6L324.1,130.6ZM422.9,133L442.9,133L442.1,130.6L422.2,130.6ZM469.4,133L473.8,133L472.9,130.6L468.4,130.6ZM508.1,133L537.7,133L536.3,130.6L506.9,130.6ZM539.1,133L543.6,133L542.1,130.6L537.7,130.6ZM122.1,131.2L128.5,131.2L129.8,128.7L123.4,128.7ZM181.7,131.2L184.3,131.2L185.2,128.7L182.7,128.7ZM193.3,131.2L234.3,131.2L234.9,128.7L194.1,128.7ZM329.9,131.2L334.3,131.2L334.2,128.7L329.8,128.7ZM341.4,131.2L444,131.2L443.2,128.7L341.3,128.7ZM447.2,131.2L453.6,131.2L452.7,128.7L446.4,128.7ZM468.4,131.2L474.8,131.2L473.7,128.7L467.4,128.7ZM481.9,131.2L501.7,131.2L500.5,128.7L480.8,128.7ZM505,131.2L536.3,131.2L534.9,128.7L503.7,128.7ZM537.7,131.2L542.1,131.2L540.6,128.7L536.2,128.7ZM123.4,129.3L168,129.3L169,126.9L124.8,126.9ZM178.8,129.3L185.2,129.3L186.1,126.9L179.8,126.9ZM186.5,129.3L213.8,129.3L214.6,126.9L187.4,126.9ZM215.1,129.3L227.2,129.3L227.9,126.9L215.9,126.9ZM228.5,129.3L231,129.3L231.7,126.9L229.2,126.9ZM354.7,129.3L538.7,129.3L537.2,126.9L354.4,126.9ZM557.2,129.3L561.6,129.3L560,126.9L555.6,126.9ZM124.8,127.5L197.5,127.5L198.4,125.1L126.2,125.1ZM198.8,127.5L207,127.5L207.8,125.1L199.7,125.1ZM356.3,127.5L362.6,127.5L362.3,125.1L356,125.1ZM365.8,127.5L379.7,127.5L379.2,125.1L365.5,125.1ZM384.8,127.5L508.7,127.5L507.4,125.1L384.3,125.1ZM525.2,127.5L535.3,127.5L533.7,125.1L523.7,125.1ZM557.5,127.5L561.9,127.5L560.1,125.1L555.7,125.1ZM128.1,125.7L196.5,125.7L197.4,123.3L129.5,123.3ZM199.7,125.7L202.2,125.7L203,123.3L200.6,123.3ZM386.2,125.7L388.7,125.7L388.2,123.3L385.7,123.3ZM389.9,125.7L392.4,125.7L391.9,123.3L389.4,123.3ZM401.3,125.7L409.4,125.7L408.7,123.3L400.6,123.3ZM414.4,125.7L422.6,125.7L421.8,123.3L413.7,123.3ZM429.5,125.7L464,125.7L463,123.3L428.7,123.3ZM465.3,125.7L471.6,125.7L470.4,123.3L464.2,123.3ZM472.8,125.7L484.7,125.7L483.5,123.3L471.7,123.3ZM487.9,125.7L507.4,125.7L506,123.3L486.7,123.3ZM133.2,123.9L137.6,123.9L139,121.5L134.7,121.5ZM142.6,123.9L195.5,123.9L196.5,121.5L143.9,121.5ZM439.9,123.9L451.7,123.9L450.7,121.5L439,121.5ZM149.5,122.1L179.8,122.1L180.9,119.7L150.9,119.7Z"/>
<path fill="#a9daf3" d="M215.3,341.3L217.7,341.3L216.9,338.9L214.5,338.9ZM204.5,334.1L207,334.1L206.2,331.7L203.7,331.7ZM204.1,328.6L206.6,328.6L205.9,326.2L203.4,326.2ZM201.4,326.8L204,326.8L203.3,324.3L200.7,324.3ZM200.7,324.9L203.3,324.9L202.6,322.5L200,322.5ZM363.1,174.2L365.9,174.2L365.7,171.7L363,171.7ZM376,174.2L378.7,174.2L378.5,171.7L375.8,171.7ZM476.5,174.2L485.6,174.2L485.2,171.7L476,171.7ZM320.4,172.3L325.2,172.3L325.2,169.8L320.4,169.8ZM367.3,172.3L372.1,172.3L372,169.8L367.1,169.8ZM476,172.3L487.3,172.3L486.8,169.8L475.6,169.8ZM491,172.3L498,172.3L497.4,169.8L490.5,169.8ZM318.2,170.4L325.2,170.4L325.2,167.9L318.2,167.9ZM356.5,170.4L363.5,170.4L363.4,167.9L356.4,167.9ZM367.1,170.4L372,170.4L371.8,167.9L367,167.9ZM475.6,170.4L484.7,170.4L484.2,167.9L475.1,167.9ZM490.5,170.4L493.2,170.4L492.7,167.9L489.9,167.9ZM496.8,170.4L505.9,170.4L505.4,167.9L496.3,167.9ZM356.4,168.5L361.2,168.5L361.1,166L356.3,166ZM375.5,168.5L378.2,168.5L378,166L375.3,166ZM487.8,168.5L492.7,168.5L492.1,166L487.3,166ZM498.4,168.5L507.5,168.5L506.9,166L497.8,166ZM489.4,166.6L494.2,166.6L493.6,164.1L488.8,164.1ZM497.8,166.6L506.9,166.6L506.2,164.1L497.2,164.1ZM493,164.7L506.2,164.7L505.6,162.3L492.4,162.3ZM496.6,162.9L499.3,162.9L498.6,160.4L495.9,160.4ZM521.5,157.2L524.2,157.2L523.3,154.7L520.6,154.7ZM458.7,155.3L461.3,155.3L460.7,152.8L458.1,152.8ZM477.3,155.3L479.9,155.3L479.2,152.8L476.6,152.8ZM524.8,155.3L527.4,155.3L526.5,152.8L523.9,152.8ZM531,155.3L533.6,155.3L532.7,152.8L530,152.8ZM454,153.4L466.9,153.4L466.2,151L453.3,151ZM478.6,153.4L483.3,153.4L482.6,151L477.9,151ZM493,153.4L495.7,153.4L494.9,151L492.2,151ZM523.9,153.4L528.6,153.4L527.6,151L522.9,151ZM453.3,151.6L466.2,151.6L465.5,149.1L452.7,149.1ZM477.9,151.6L490.8,151.6L490,149.1L477.1,149.1ZM492.2,151.6L496.9,151.6L496.1,149.1L491.4,149.1ZM506.6,151.6L511.3,151.6L510.3,149.1L505.7,149.1ZM527,151.6L531.7,151.6L530.7,149.1L526,149.1ZM454.7,149.7L461.5,149.7L460.7,147.2L454.1,147.2ZM479.2,149.7L487.9,149.7L487.1,147.2L478.4,147.2ZM491.4,149.7L498.1,149.7L497.2,147.2L490.5,147.2ZM503.6,149.7L510.3,149.7L509.4,147.2L502.7,147.2ZM524,149.7L530.7,149.7L529.7,147.2L523,147.2ZM484.5,147.8L487.1,147.8L486.2,145.3L483.6,145.3ZM492.6,147.8L501.3,147.8L500.3,145.3L491.7,145.3ZM504.7,147.8L511.4,147.8L510.4,145.3L503.8,145.3ZM525,147.8L531.7,147.8L530.6,145.3L523.9,145.3ZM548.1,145.9L554.8,145.9L553.5,143.5L546.9,143.5ZM190,144.1L200.6,144.1L201.2,141.6L190.7,141.6ZM204,144.1L208.6,144.1L209.2,141.6L204.6,141.6ZM306.3,144.1L332.9,144.1L332.9,141.6L306.3,141.6ZM334.3,144.1L343,144.1L342.8,141.6L334.3,141.6ZM382.5,144.1L397.1,144.1L396.7,141.6L382.1,141.6ZM402.5,144.1L413.1,144.1L412.6,141.6L402.1,141.6ZM546.9,144.1L553.5,144.1L552.2,141.6L545.7,141.6ZM186.7,142.2L213.2,142.2L213.8,139.8L187.4,139.8ZM216.6,142.2L223.2,142.2L223.7,139.8L217.2,139.8ZM316.3,142.2L350.8,142.2L350.6,139.8L316.3,139.8ZM352.2,142.2L360.8,142.2L360.6,139.8L352,139.8ZM362.2,142.2L366.8,142.2L366.5,139.8L361.9,139.8ZM372.1,142.2L376.7,142.2L376.4,139.8L371.9,139.8ZM378.1,142.2L394.7,142.2L394.3,139.8L377.8,139.8ZM400.1,142.2L418.6,142.2L418.1,139.8L399.6,139.8ZM424,142.2L430.6,142.2L430,139.8L423.4,139.8ZM438,142.2L442.6,142.2L441.9,139.8L437.3,139.8ZM481.8,142.2L486.4,142.2L485.5,139.8L480.9,139.8ZM491.8,142.2L500.4,142.2L499.4,139.8L490.8,139.8ZM507.8,142.2L520.3,142.2L519.2,139.8L506.7,139.8ZM535.7,142.2L538.3,142.2L537.1,139.8L534.5,139.8ZM543.7,142.2L548.2,142.2L547,139.8L542.4,139.8ZM127.9,140.4L142.4,140.4L143.4,137.9L129,137.9ZM177.5,140.4L225.7,140.4L226.2,137.9L178.3,137.9ZM330.2,140.4L368.5,140.4L368.2,137.9L330.1,137.9ZM369.9,140.4L396.3,140.4L395.8,137.9L369.6,137.9ZM403.6,140.4L443.8,140.4L443.1,137.9L403.1,137.9ZM465.1,140.4L467.6,140.4L466.8,137.9L464.2,137.9ZM478.9,140.4L525.2,140.4L524,137.9L478,137.9ZM526.5,140.4L539,140.4L537.8,137.9L525.4,137.9ZM544.4,140.4L547,140.4L545.7,137.9L543.1,137.9ZM123.1,138.5L149.3,138.5L150.3,136.1L124.2,136.1ZM158.6,138.5L161.2,138.5L162.1,136.1L159.5,136.1ZM164.5,138.5L173,138.5L173.9,136.1L165.4,136.1ZM176.3,138.5L224.3,138.5L224.8,136.1L177.2,136.1ZM229.6,138.5L236.1,138.5L236.6,136.1L230.1,136.1ZM336.1,138.5L378.1,138.5L377.7,136.1L336,136.1ZM379.4,138.5L456.9,138.5L456.1,136.1L379.1,136.1ZM462.3,138.5L468.8,138.5L467.9,136.1L461.4,136.1ZM470.1,138.5L539.8,138.5L538.5,136.1L469.3,136.1ZM543.1,138.5L547.6,138.5L546.3,136.1L541.8,136.1ZM124.2,136.7L152.3,136.7L153.3,134.2L125.4,134.2ZM157.6,136.7L207.2,136.7L207.9,134.2L158.5,134.2ZM210.5,136.7L234.6,136.7L235.1,134.2L211.2,134.2ZM347.7,136.7L383.6,136.7L383.2,134.2L347.6,134.2ZM392.8,136.7L399.3,136.7L398.8,134.2L392.4,134.2ZM408.5,136.7L540.4,136.7L539.1,134.2L408,134.2ZM541.8,136.7L544.4,136.7L543,134.2L540.5,134.2ZM123.5,134.8L205.9,134.8L206.6,132.4L124.7,132.4ZM217,134.8L227.3,134.8L227.9,132.4L217.6,132.4ZM361.2,134.8L367.6,134.8L367.3,132.4L360.9,132.4ZM370.9,134.8L379.3,134.8L379,132.4L370.6,132.4ZM408,134.8L433.9,134.8L433.2,132.4L407.4,132.4ZM437.2,134.8L539.1,134.8L537.7,132.4L436.5,132.4ZM124.7,133L195,133L195.8,130.6L125.9,130.6ZM411.3,133L423.5,133L422.8,130.6L410.7,130.6ZM442.3,133L470,133L469,130.6L441.5,130.6ZM473.2,133L508.7,133L507.5,130.6L472.3,130.6ZM127.9,131.2L182.3,131.2L183.3,128.7L129.2,128.7ZM183.7,131.2L193.9,131.2L194.7,128.7L184.6,128.7ZM443.4,131.2L447.8,131.2L447,128.7L442.6,128.7ZM453,131.2L469,131.2L468,128.7L452.1,128.7ZM474.2,131.2L482.5,131.2L481.4,128.7L473.1,128.7ZM501.1,131.2L505.6,131.2L504.3,128.7L499.9,128.7ZM167.4,129.3L179.4,129.3L180.4,126.9L168.4,126.9ZM184.6,129.3L187.1,129.3L188,126.9L185.5,126.9Z"/>
<path fill="#fff596" d="M217.1,341.3L219.6,341.3L218.8,338.9L216.3,338.9ZM212.6,339.5L216.9,339.5L216.1,337.1L211.8,337.1ZM205.3,335.9L207.8,335.9L207,333.5L204.5,333.5ZM205.6,332.3L208.1,332.3L207.3,329.8L204.8,329.8ZM204.8,330.4L207.3,330.4L206.6,328L204.1,328ZM203.4,326.8L205.9,326.8L205.2,324.3L202.7,324.3ZM202.7,324.9L205.2,324.9L204.5,322.5L202,322.5ZM200,323.1L202.6,323.1L201.9,320.6L199.3,320.6ZM590,321.2L592.6,321.2L594.1,318.8L591.5,318.8ZM589.5,319.4L596.1,319.4L597.6,316.9L591,316.9ZM591,317.5L599.6,317.5L601.1,315.1L592.5,315.1ZM552.2,315.7L558.8,315.7L560,313.2L553.4,313.2ZM594.5,315.7L599.1,315.7L600.6,313.2L595.9,313.2ZM553.4,313.8L558,313.8L559.2,311.3L554.5,311.3ZM193.2,261L196,261L195.8,258.5L193,258.5ZM563.7,242.1L568.8,242.1L568.9,239.6L563.9,239.6ZM561.6,240.2L571.1,240.2L571.2,237.7L561.7,237.7ZM561.7,238.3L566.8,238.3L566.8,235.9L561.8,235.9ZM185.3,225.1L188.1,225.1L188.2,222.7L185.4,222.7ZM185.4,223.3L188.2,223.3L188.2,220.8L185.4,220.8ZM320.4,196.8L323.2,196.8L323.2,194.3L320.4,194.3ZM322.6,194.9L325.4,194.9L325.4,192.5L322.6,192.5ZM335.7,194.9L347.2,194.9L347.2,192.5L335.7,192.5ZM333.5,193.1L347.2,193.1L347.1,190.6L333.5,190.6ZM311.7,191.2L316.6,191.2L316.6,188.7L311.7,188.7ZM326.9,191.2L331.9,191.2L331.9,188.7L326.9,188.7ZM337.8,191.2L340.6,191.2L340.6,188.7L337.8,188.7ZM311.7,189.3L316.6,189.3L316.6,186.8L311.7,186.8ZM326.9,189.3L331.9,189.3L331.8,186.8L326.9,186.8ZM403,189.3L405.8,189.3L405.6,186.8L402.9,186.8ZM298.7,187.4L301.5,187.4L301.5,184.9L298.7,184.9ZM313.9,187.4L323.2,187.4L323.1,184.9L313.9,184.9ZM326.9,187.4L331.8,187.4L331.8,184.9L326.9,184.9ZM363.8,187.4L366.6,187.4L366.5,184.9L363.7,184.9ZM402.9,187.4L405.6,187.4L405.5,184.9L402.7,184.9ZM313.9,185.5L323.1,185.5L323.1,183L313.9,183ZM326.9,185.5L334,185.5L334,183L326.9,183ZM342,185.5L347,185.5L346.9,183L342,183ZM402.7,185.5L405.5,185.5L405.3,183L402.6,183ZM303.1,183.6L308,183.6L308,181.1L303.1,181.1ZM326.9,183.6L338.3,183.6L338.2,181.1L326.9,181.1ZM344.2,183.6L346.9,183.6L346.9,181.1L344.1,181.1ZM383.1,183.6L388,183.6L387.9,181.1L383,181.1ZM292.3,181.7L295.1,181.7L295.1,179.2L292.4,179.2ZM303.1,181.7L308,181.7L308.1,179.2L303.1,179.2ZM324.7,181.7L338.2,181.7L338.2,179.2L324.7,179.2ZM370,181.7L374.9,181.7L374.8,179.2L369.9,179.2ZM385.1,181.7L387.9,181.7L387.8,179.2L385,179.2ZM305.3,179.8L310.2,179.8L310.2,177.4L305.3,177.4ZM318.2,179.8L321,179.8L321,177.4L318.2,177.4ZM324.7,179.8L331.7,179.8L331.7,177.4L324.7,177.4ZM361.3,179.8L364.1,179.8L364,177.4L361.2,177.4ZM367.8,179.8L374.8,179.8L374.7,177.4L367.7,177.4ZM417.3,179.8L422.2,179.8L422,177.4L417.1,177.4ZM305.3,178L314.5,178L314.5,175.5L305.4,175.5ZM318.2,178L325.3,178L325.3,175.5L318.2,175.5ZM346.2,178L351.1,178L351,175.5L346.1,175.5ZM359.1,178L364,178L363.9,175.5L359,175.5ZM410.6,178L413.4,178L413.2,175.5L410.4,175.5ZM481.6,178L486.5,178L486.1,175.5L481.2,175.5ZM309.7,176.1L312.4,176.1L312.4,173.6L309.7,173.6ZM320.4,176.1L325.3,176.1L325.2,173.6L320.4,173.6ZM346.1,176.1L353.1,176.1L353,173.6L346,173.6ZM361.1,176.1L366,176.1L365.9,173.6L361,173.6ZM374,176.1L381,176.1L380.8,173.6L373.8,173.6ZM476.9,176.1L486.1,176.1L485.6,173.6L476.5,173.6ZM515.5,176.1L518.2,176.1L517.7,173.6L515,173.6ZM519.8,176.1L526.8,176.1L526.3,173.6L519.2,173.6ZM299,174.2L301.7,174.2L301.8,171.7L299,171.7ZM320.4,174.2L325.2,174.2L325.2,171.7L320.4,171.7ZM339.6,174.2L342.4,174.2L342.3,171.7L339.6,171.7ZM346,174.2L353,174.2L353,171.7L346,171.7ZM361,174.2L363.7,174.2L363.6,171.7L360.9,171.7ZM365.3,174.2L368,174.2L367.9,171.7L365.1,171.7ZM369.6,174.2L376.6,174.2L376.4,171.7L369.4,171.7ZM378.1,174.2L380.8,174.2L380.7,171.7L377.9,171.7ZM474.3,174.2L477.1,174.2L476.6,171.7L473.9,171.7ZM485,174.2L500.6,174.2L500.1,171.7L484.6,171.7ZM506.4,174.2L513.4,174.2L512.9,171.7L505.9,171.7ZM515,174.2L526.3,174.2L525.7,171.7L514.4,171.7ZM318.2,172.3L321,172.3L321,169.8L318.2,169.8ZM339.6,172.3L344.4,172.3L344.4,169.8L339.5,169.8ZM346,172.3L353,172.3L352.9,169.8L345.9,169.8ZM356.6,172.3L367.9,172.3L367.7,169.8L356.5,169.8ZM371.5,172.3L374.3,172.3L374.1,169.8L371.4,169.8ZM375.8,172.3L380.7,172.3L380.5,169.8L375.6,169.8ZM412.1,172.3L414.8,172.3L414.5,169.8L411.8,169.8ZM473.9,172.3L476.6,172.3L476.2,169.8L473.5,169.8ZM486.7,172.3L491.6,172.3L491.1,169.8L486.2,169.8ZM497.4,172.3L527.8,172.3L527.2,169.8L496.8,169.8ZM314,170.4L318.8,170.4L318.8,167.9L314,167.9ZM339.5,170.4L344.4,170.4L344.3,167.9L339.4,167.9ZM345.9,170.4L350.7,170.4L350.6,167.9L345.8,167.9ZM354.4,170.4L357.1,170.4L357,167.9L354.3,167.9ZM362.9,170.4L367.7,170.4L367.6,167.9L362.8,167.9ZM375.6,170.4L380.5,170.4L380.3,167.9L375.5,167.9ZM411.8,170.4L414.5,170.4L414.2,167.9L411.5,167.9ZM471.3,170.4L476.2,170.4L475.7,167.9L470.9,167.9ZM484.1,170.4L491.1,170.4L490.5,167.9L483.6,167.9ZM505.3,170.4L527.2,170.4L526.6,167.9L504.8,167.9ZM301.3,168.5L306.1,168.5L306.2,166L301.3,166ZM316.1,168.5L325.2,168.5L325.2,166L316.1,166ZM339.4,168.5L344.3,168.5L344.2,166L339.4,166ZM354.3,168.5L357,168.5L356.9,166L354.2,166ZM360.6,168.5L365.5,168.5L365.3,166L360.5,166ZM369.1,168.5L376.1,168.5L375.9,166L368.9,166ZM377.6,168.5L380.3,168.5L380.1,166L377.4,166ZM409.4,168.5L412.1,168.5L411.8,166L409.1,166ZM473,168.5L488.4,168.5L487.9,166L472.5,166ZM506.9,168.5L526.6,168.5L525.9,166L506.3,166ZM303.5,166.6L308.3,166.6L308.3,164.1L303.5,164.1ZM314,166.6L318.8,166.6L318.8,164.1L314,164.1ZM320.4,166.6L329.4,166.6L329.4,164.1L320.4,164.1ZM339.4,166.6L344.2,166.6L344.1,164.1L339.3,164.1ZM354.2,166.6L361.1,166.6L361,164.1L354,164.1ZM377.4,166.6L380.1,166.6L379.9,164.1L377.2,164.1ZM400.6,166.6L403.4,166.6L403.1,164.1L400.4,164.1ZM407,166.6L413.9,166.6L413.6,164.1L406.7,164.1ZM472.5,166.6L481.5,166.6L481,164.1L471.9,164.1ZM485.1,166.6L490,166.6L489.4,164.1L484.6,164.1ZM506.3,166.6L525.9,166.6L525.2,164.1L505.6,164.1ZM305.6,164.7L310.4,164.7L310.5,162.3L305.7,162.3ZM314,164.7L329.4,164.7L329.3,162.3L314.1,162.3ZM337.2,164.7L339.9,164.7L339.8,162.3L337.1,162.3ZM377.2,164.7L382,164.7L381.8,162.3L377,162.3ZM410.9,164.7L415.7,164.7L415.4,162.3L410.6,162.3ZM471.9,164.7L476.8,164.7L476.2,162.3L471.4,162.3ZM478.3,164.7L481,164.7L480.4,162.3L477.7,162.3ZM486.7,164.7L493.6,164.7L493,162.3L486.1,162.3ZM505.6,164.7L523.1,164.7L522.4,162.3L505,162.3ZM307.8,162.9L312.6,162.9L312.6,160.4L307.8,160.4ZM314.1,162.9L323,162.9L323,160.4L314.1,160.4ZM372.8,162.9L375.5,162.9L375.3,160.4L372.6,160.4ZM379.1,162.9L381.8,162.9L381.6,160.4L378.9,160.4ZM410.6,162.9L415.4,162.9L415,160.4L410.2,160.4ZM473.5,162.9L476.2,162.9L475.6,160.4L472.9,160.4ZM477.7,162.9L480.4,162.9L479.8,160.4L477.1,160.4ZM486.1,162.9L497.2,162.9L496.5,160.4L485.5,160.4ZM498.7,162.9L522.4,162.9L521.6,160.4L498,160.4ZM530.1,162.9L534.9,162.9L534.1,160.4L529.4,160.4ZM307.8,161L310.5,161L310.5,158.5L307.8,158.5ZM318.3,161L323,161L323,158.5L318.3,158.5ZM378.9,161L381.6,161L381.3,158.5L378.6,158.5ZM393.5,161L396.2,161L395.9,158.5L393.2,158.5ZM462.5,161L465.2,161L464.6,158.5L461.9,158.5ZM475,161L481.9,161L481.3,158.5L474.4,158.5ZM485.5,161L490.2,161L489.6,158.5L484.8,158.5ZM493.8,161L521.6,161L520.8,158.5L493.1,158.5ZM529.4,161L536.2,161L535.4,158.5L528.5,158.5ZM539.8,161L542.5,161L541.6,158.5L539,158.5ZM328.7,159.1L331.4,159.1L331.3,156.6L328.6,156.6ZM366.1,159.1L373,159.1L372.8,156.6L366,156.6ZM376.6,159.1L381.3,159.1L381.1,156.6L376.3,156.6ZM461.9,159.1L466.7,159.1L466.1,156.6L461.3,156.6ZM474.4,159.1L491.7,159.1L491,156.6L473.8,156.6ZM493.1,159.1L522.9,159.1L522.1,156.6L492.4,156.6ZM528.5,159.1L535.4,159.1L534.5,156.6L527.7,156.6ZM545.2,159.1L556.2,159.1L555.3,156.6L544.3,156.6ZM355.6,157.2L360.3,157.2L360.2,154.7L355.4,154.7ZM366,157.2L376.9,157.2L376.7,154.7L365.8,154.7ZM411.6,157.2L416.3,157.2L415.9,154.7L411.2,154.7ZM457.2,157.2L468.2,157.2L467.5,154.7L456.6,154.7ZM471.7,157.2L522.1,157.2L521.2,154.7L471.1,154.7ZM527.7,157.2L534.5,157.2L533.6,154.7L526.8,154.7ZM546.4,157.2L555.3,157.2L554.3,154.7L545.4,154.7ZM355.4,155.3L360.2,155.3L360,152.8L355.3,152.8ZM363.7,155.3L378.8,155.3L378.5,152.8L363.5,152.8ZM411.2,155.3L418,155.3L417.6,152.8L410.8,152.8ZM446.3,155.3L459.3,155.3L458.7,152.8L445.7,152.8ZM460.7,155.3L477.9,155.3L477.2,152.8L460.1,152.8ZM479.3,155.3L517.1,155.3L516.2,152.8L478.6,152.8ZM526.8,155.3L531.6,155.3L530.6,152.8L525.9,152.8ZM547.5,155.3L554.3,155.3L553.2,152.8L546.5,152.8ZM184.6,153.4L189.3,153.4L189.9,151L185.3,151ZM310,153.4L312.7,153.4L312.7,151L310.1,151ZM318.3,153.4L320.9,153.4L320.9,151L318.3,151ZM347.1,153.4L349.7,153.4L349.6,151L346.9,151ZM351.2,153.4L357.9,153.4L357.8,151L351,151ZM365.6,153.4L378.5,153.4L378.2,151L365.3,151ZM386.1,153.4L392.9,153.4L392.6,151L385.8,151ZM408.7,153.4L417.6,153.4L417.1,151L408.3,151ZM445.7,153.4L454.6,153.4L453.9,151L445.2,151ZM466.3,153.4L479.2,153.4L478.5,151L465.6,151ZM482.7,153.4L493.6,153.4L492.8,151L482,151ZM495.1,153.4L516.2,153.4L515.3,151L494.3,151ZM517.7,153.4L522.4,153.4L521.5,151L516.8,151ZM528,153.4L530.6,153.4L529.7,151L527,151ZM548.5,153.4L553.2,153.4L552.2,151L547.5,151ZM130,151.6L136.7,151.6L137.6,149.1L130.9,149.1ZM173,151.6L179.7,151.6L180.4,149.1L173.7,149.1ZM181.2,151.6L192,151.6L192.6,149.1L181.8,149.1ZM306,151.6L314.8,151.6L314.8,149.1L306.1,149.1ZM318.3,151.6L320.9,151.6L320.9,149.1L318.3,149.1ZM332.6,151.6L335.2,151.6L335.2,149.1L332.5,149.1ZM342.8,151.6L359.8,151.6L359.6,149.1L342.7,149.1ZM365.3,151.6L380.3,151.6L380,149.1L365.1,149.1ZM383.8,151.6L392.6,151.6L392.2,149.1L383.5,149.1ZM406.3,151.6L425.3,151.6L424.8,149.1L405.9,149.1ZM447.2,151.6L453.9,151.6L453.3,149.1L446.6,149.1ZM465.6,151.6L478.5,151.6L477.7,149.1L464.9,149.1ZM490.2,151.6L492.8,151.6L492,149.1L489.4,149.1ZM496.3,151.6L507.2,151.6L506.3,149.1L495.5,149.1ZM510.7,151.6L517.4,151.6L516.4,149.1L509.7,149.1ZM518.8,151.6L527.6,151.6L526.6,149.1L517.9,149.1ZM547.5,151.6L552.2,151.6L551.1,149.1L546.4,149.1ZM173.7,149.7L204.8,149.7L205.4,147.2L174.4,147.2ZM304,149.7L323,149.7L322.9,147.2L304.1,147.2ZM332.5,149.7L337.2,149.7L337.1,147.2L332.5,147.2ZM340.7,149.7L349.4,149.7L349.3,147.2L340.6,147.2ZM350.9,149.7L361.7,149.7L361.4,147.2L350.7,147.2ZM365.1,149.7L377.9,149.7L377.7,147.2L364.9,147.2ZM379.4,149.7L400.4,149.7L399.9,147.2L379.1,147.2ZM405.9,149.7L424.8,149.7L424.3,147.2L405.4,147.2ZM428.3,149.7L430.9,149.7L430.3,147.2L427.7,147.2ZM442.5,149.7L455.3,149.7L454.7,147.2L441.9,147.2ZM460.9,149.7L479.8,149.7L479,147.2L460.1,147.2ZM487.3,149.7L492,149.7L491.1,147.2L486.5,147.2ZM497.5,149.7L504.2,149.7L503.3,147.2L496.6,147.2ZM509.7,149.7L524.6,149.7L523.6,147.2L508.8,147.2ZM530.1,149.7L532.7,149.7L531.7,147.2L529.1,147.2ZM546.4,149.7L551.1,149.7L549.9,147.2L545.3,147.2ZM117.7,147.8L136.5,147.8L137.4,145.3L118.7,145.3ZM137.9,147.8L146.6,147.8L147.5,145.3L138.9,145.3ZM150.1,147.8L156.8,147.8L157.6,145.3L151,145.3ZM160.2,147.8L207.4,147.8L208,145.3L161,145.3ZM304.1,147.8L325,147.8L324.9,145.3L304.2,145.3ZM332.5,147.8L335.1,147.8L335,145.3L332.4,145.3ZM336.5,147.8L347.3,147.8L347.1,145.3L336.4,145.3ZM348.7,147.8L365.5,147.8L365.3,145.3L348.5,145.3ZM371,147.8L377.7,147.8L377.4,145.3L370.7,145.3ZM387.2,147.8L399.9,147.8L399.5,145.3L386.8,145.3ZM403.4,147.8L434.4,147.8L433.8,145.3L403,145.3ZM437.9,147.8L485.1,147.8L484.2,145.3L437.2,145.3ZM486.5,147.8L493.2,147.8L492.3,145.3L485.6,145.3ZM500.7,147.8L505.3,147.8L504.4,145.3L499.7,145.3ZM510.8,147.8L525.6,147.8L524.5,145.3L509.8,145.3ZM545.3,147.8L554,147.8L552.8,145.3L544.1,145.3ZM118.7,145.9L206,145.9L206.6,143.5L119.8,143.5ZM304.2,145.9L324.9,145.9L324.9,143.5L304.3,143.5ZM328.4,145.9L331,145.9L330.9,143.5L328.3,143.5ZM332.4,145.9L335,145.9L334.9,143.5L332.3,143.5ZM336.4,145.9L343.1,145.9L343,143.5L336.3,143.5ZM346.5,145.9L365.3,145.9L365,143.5L346.4,143.5ZM384.8,145.9L397.5,145.9L397.1,143.5L384.5,143.5ZM403,145.9L536.6,145.9L535.5,143.5L402.5,143.5ZM544.1,145.9L548.7,145.9L547.5,143.5L542.9,143.5ZM119.8,144.1L190.6,144.1L191.3,141.6L120.9,141.6ZM200,144.1L204.6,144.1L205.2,141.6L200.6,141.6ZM208,144.1L210.6,144.1L211.2,141.6L208.6,141.6ZM212,144.1L216.6,144.1L217.2,141.6L212.6,141.6ZM342.4,144.1L367,144.1L366.8,141.6L342.2,141.6ZM380.5,144.1L383.1,144.1L382.7,141.6L380.1,141.6ZM400.5,144.1L403.1,144.1L402.7,141.6L400.1,141.6ZM412.5,144.1L537.5,144.1L536.3,141.6L412,141.6ZM544.9,144.1L547.5,144.1L546.3,141.6L543.7,141.6ZM120.9,142.2L187.3,142.2L188,139.8L122,139.8ZM212.6,142.2L217.2,142.2L217.8,139.8L213.2,139.8ZM350.2,142.2L352.8,142.2L352.6,139.8L350,139.8ZM360.2,142.2L362.8,142.2L362.5,139.8L360,139.8ZM418,142.2L424.6,142.2L424,139.8L417.5,139.8ZM430,142.2L438.6,142.2L437.9,139.8L429.4,139.8ZM442,142.2L482.4,142.2L481.5,139.8L441.3,139.8ZM485.8,142.2L492.4,142.2L491.4,139.8L484.9,139.8ZM499.8,142.2L508.4,142.2L507.3,139.8L498.8,139.8ZM519.7,142.2L536.3,142.2L535.1,139.8L518.6,139.8ZM122,140.4L128.5,140.4L129.6,137.9L123.1,137.9ZM141.8,140.4L178.1,140.4L178.9,137.9L142.8,137.9ZM443.2,140.4L465.7,140.4L464.8,137.9L442.5,137.9ZM467,140.4L479.5,140.4L478.6,137.9L466.2,137.9ZM524.6,140.4L527.1,140.4L526,137.9L523.4,137.9ZM148.7,138.5L159.2,138.5L160.1,136.1L149.7,136.1ZM160.6,138.5L165.1,138.5L166,136.1L161.5,136.1ZM172.4,138.5L176.9,138.5L177.8,136.1L173.3,136.1ZM456.3,138.5L462.9,138.5L462,136.1L455.5,136.1ZM468.2,138.5L470.7,138.5L469.9,136.1L467.3,136.1ZM151.7,136.7L158.2,136.7L159.1,134.2L152.7,134.2Z"/>
<path fill="#ffd228" d="M219,341.3L221.4,341.3L220.6,338.9L218.2,338.9ZM210.7,339.5L213.2,339.5L212.4,337.1L209.9,337.1ZM216.3,339.5L218.8,339.5L218,337.1L215.5,337.1ZM206.4,334.1L208.9,334.1L208.1,331.7L205.6,331.7ZM206.7,330.4L209.3,330.4L208.6,328L206,328ZM206,328.6L208.6,328.6L207.9,326.2L205.3,326.2ZM205.3,326.8L207.9,326.8L207.2,324.3L204.6,324.3ZM204.6,324.9L207.2,324.9L206.5,322.5L203.9,322.5ZM202,323.1L204.5,323.1L203.9,320.6L201.3,320.6ZM586.5,323.1L591,323.1L592.6,320.6L588,320.6ZM586,321.2L590.6,321.2L592.1,318.8L587.5,318.8ZM587.5,319.4L590.1,319.4L591.6,316.9L589,316.9ZM552.9,317.5L557.5,317.5L558.8,315.1L554.2,315.1ZM598.5,315.7L603.2,315.7L604.6,313.2L600,313.2ZM557.4,313.8L560,313.8L561.3,311.3L558.6,311.3ZM598,313.8L602.6,313.8L604,311.3L599.4,311.3ZM562.9,308.2L565.6,308.2L566.7,305.7L564,305.7ZM566.1,306.3L568.7,306.3L569.8,303.8L567.1,303.8ZM360.2,298.7L367.1,298.7L367.3,296.3L360.4,296.3ZM362.5,296.9L365.2,296.9L365.3,294.4L362.6,294.4ZM200.3,266.7L203,266.7L202.9,264.2L200.1,264.2ZM200.1,264.8L205.1,264.8L204.9,262.3L199.9,262.3ZM193.3,262.9L196.1,262.9L196,260.4L193.2,260.4ZM195.4,261L198.2,261L198,258.5L195.2,258.5ZM193,259.1L198,259.1L197.9,256.6L192.9,256.6ZM561.5,242.1L564.3,242.1L564.5,239.6L561.6,239.6ZM568.2,242.1L575.4,242.1L575.5,239.6L568.3,239.6ZM559.4,240.2L562.2,240.2L562.3,237.7L559.5,237.7ZM570.5,240.2L577.7,240.2L577.8,237.7L570.6,237.7ZM559.5,238.3L562.3,238.3L562.4,235.9L559.6,235.9ZM566.2,238.3L575.6,238.3L575.7,235.9L566.2,235.9ZM335.9,236.5L340.9,236.5L340.9,234L335.9,234ZM561.8,236.5L564.6,236.5L564.7,234L561.9,234ZM333.7,234.6L343.2,234.6L343.2,232.1L333.7,232.1ZM333.7,232.7L345.4,232.7L345.4,230.2L333.7,230.2ZM360.3,232.7L365.3,232.7L365.3,230.2L360.3,230.2ZM515.4,232.7L520.4,232.7L520.4,230.2L515.4,230.2ZM335.9,230.8L345.4,230.8L345.4,228.3L335.9,228.3ZM358.1,230.8L365.3,230.8L365.3,228.3L358.1,228.3ZM513.2,230.8L522.7,230.8L522.6,228.3L513.2,228.3ZM335.9,228.9L343.2,228.9L343.2,226.4L335.9,226.4ZM360.3,228.9L365.3,228.9L365.3,226.4L360.3,226.4ZM513.2,228.9L522.6,228.9L522.6,226.4L513.1,226.4ZM183.1,227L188.1,227L188.1,224.5L183.1,224.5ZM335.9,227L343.2,227L343.2,224.5L335.9,224.5ZM515.3,227L520.4,227L520.3,224.5L515.3,224.5ZM183.1,225.1L185.9,225.1L186,222.7L183.1,222.7ZM333.7,225.1L343.2,225.1L343.1,222.7L333.7,222.7ZM183.1,223.3L186,223.3L186,220.8L183.2,220.8ZM329.3,223.3L343.1,223.3L343.1,220.8L329.3,220.8ZM183.2,221.4L188.2,221.4L188.3,218.9L183.3,218.9ZM307.1,221.4L318.8,221.4L318.8,218.9L307.1,218.9ZM327,221.4L332.1,221.4L332.1,218.9L327,218.9ZM333.7,221.4L343.1,221.4L343.1,218.9L333.7,218.9ZM298.3,219.5L301.1,219.5L301.1,217L298.3,217ZM304.9,219.5L318.8,219.5L318.8,217L304.9,217ZM324.8,219.5L332.1,219.5L332.1,217L324.8,217ZM333.7,219.5L340.9,219.5L340.9,217L333.7,217ZM304.9,217.6L310,217.6L310,215.1L304.9,215.1ZM324.8,217.6L329.8,217.6L329.8,215.1L324.8,215.1ZM335.9,217.6L338.7,217.6L338.7,215.1L335.9,215.1ZM340.3,217.6L343.1,217.6L343.1,215.1L340.3,215.1ZM181.2,215.7L186.2,215.7L186.3,213.2L181.3,213.2ZM340.3,215.7L343.1,215.7L343.1,213.2L340.3,213.2ZM176.9,213.8L186.3,213.8L186.4,211.3L177,211.3ZM294.1,196.8L301.3,196.8L301.3,194.3L294.2,194.3ZM318.2,196.8L321,196.8L321,194.3L318.2,194.3ZM322.6,196.8L325.4,196.8L325.4,194.3L322.6,194.3ZM327,196.8L329.7,196.8L329.7,194.3L326.9,194.3ZM331.3,196.8L342.9,196.8L342.8,194.3L331.3,194.3ZM344.5,196.8L347.2,196.8L347.2,194.3L344.4,194.3ZM416.6,196.8L419.4,196.8L419.3,194.3L416.5,194.3ZM296.4,194.9L303.5,194.9L303.5,192.5L296.4,192.5ZM309.5,194.9L312.3,194.9L312.3,192.5L309.5,192.5ZM320.4,194.9L323.2,194.9L323.2,192.5L320.4,192.5ZM326.9,194.9L336.3,194.9L336.3,192.5L326.9,192.5ZM346.6,194.9L349.4,194.9L349.3,192.5L346.6,192.5ZM403.4,194.9L408.4,194.9L408.2,192.5L403.3,192.5ZM300.8,193.1L303.5,193.1L303.6,190.6L300.8,190.6ZM309.5,193.1L316.6,193.1L316.6,190.6L309.5,190.6ZM320.4,193.1L325.4,193.1L325.3,190.6L320.4,190.6ZM326.9,193.1L334.1,193.1L334.1,190.6L326.9,190.6ZM346.6,193.1L349.3,193.1L349.3,190.6L346.5,190.6ZM403.3,193.1L416.9,193.1L416.8,190.6L403.1,190.6ZM296.4,191.2L299.2,191.2L299.2,188.7L296.5,188.7ZM303,191.2L312.3,191.2L312.3,188.7L303,188.7ZM316,191.2L323.2,191.2L323.2,188.7L316,188.7ZM324.7,191.2L327.5,191.2L327.5,188.7L324.7,188.7ZM331.3,191.2L334.1,191.2L334,188.7L331.3,188.7ZM335.6,191.2L338.4,191.2L338.4,188.7L335.6,188.7ZM340,191.2L347.1,191.2L347.1,188.7L340,188.7ZM353,191.2L355.8,191.2L355.8,188.7L353,188.7ZM363.9,191.2L368.9,191.2L368.8,188.7L363.9,188.7ZM400.9,191.2L408.1,191.2L407.9,188.7L400.8,188.7ZM409.7,191.2L419,191.2L418.8,188.7L409.5,188.7ZM296.5,189.3L299.2,189.3L299.3,186.8L296.5,186.8ZM300.8,189.3L312.3,189.3L312.3,186.8L300.9,186.8ZM316,189.3L323.2,189.3L323.2,186.8L316,186.8ZM324.7,189.3L327.5,189.3L327.5,186.8L324.7,186.8ZM331.3,189.3L334,189.3L334,186.8L331.2,186.8ZM335.6,189.3L347.1,189.3L347,186.8L335.6,186.8ZM353,189.3L355.8,189.3L355.7,186.8L352.9,186.8ZM361.7,189.3L368.8,189.3L368.7,186.8L361.6,186.8ZM400.8,189.3L403.6,189.3L403.5,186.8L400.7,186.8ZM405.2,189.3L407.9,189.3L407.8,186.8L405,186.8ZM409.5,189.3L418.8,189.3L418.6,186.8L409.4,186.8ZM509.5,189.3L512.3,189.3L512,186.8L509.2,186.8ZM294.3,187.4L299.3,187.4L299.3,184.9L294.4,184.9ZM300.9,187.4L303.6,187.4L303.7,184.9L300.9,184.9ZM305.2,187.4L314.5,187.4L314.5,184.9L305.2,184.9ZM322.6,187.4L327.5,187.4L327.5,184.9L322.5,184.9ZM331.2,187.4L334,187.4L334,184.9L331.2,184.9ZM337.7,187.4L347,187.4L347,184.9L337.7,184.9ZM359.4,187.4L364.4,187.4L364.3,184.9L359.4,184.9ZM366,187.4L368.7,187.4L368.6,184.9L365.9,184.9ZM400.7,187.4L403.5,187.4L403.3,184.9L400.5,184.9ZM405,187.4L407.8,187.4L407.6,184.9L404.9,184.9ZM409.4,187.4L418.6,187.4L418.5,184.9L409.2,184.9ZM481,187.4L485.9,187.4L485.6,184.9L480.7,184.9ZM507,187.4L514.1,187.4L513.8,184.9L506.7,184.9ZM298.7,185.5L314.5,185.5L314.5,183L298.8,183ZM322.5,185.5L327.5,185.5L327.5,183L322.5,183ZM333.4,185.5L342.6,185.5L342.6,183L333.4,183ZM346.4,185.5L349.1,185.5L349.1,183L346.3,183ZM363.7,185.5L368.6,185.5L368.6,183L363.6,183ZM378.9,185.5L381.6,185.5L381.5,183L378.8,183ZM385.4,185.5L388.1,185.5L388,183L385.3,183ZM394,185.5L403.3,185.5L403.2,183L393.9,183ZM404.9,185.5L407.6,185.5L407.5,183L404.7,183ZM420,185.5L422.8,185.5L422.6,183L419.9,183ZM482.9,185.5L485.6,185.5L485.3,183L482.6,183ZM506.7,185.5L516,185.5L515.6,183L506.4,183ZM300.9,183.6L303.7,183.6L303.7,181.1L301,181.1ZM307.4,183.6L310.2,183.6L310.2,181.1L307.4,181.1ZM313.9,183.6L327.5,183.6L327.5,181.1L313.9,181.1ZM337.7,183.6L344.8,183.6L344.7,181.1L337.6,181.1ZM346.3,183.6L351.3,183.6L351.2,181.1L346.3,181.1ZM352.8,183.6L355.6,183.6L355.5,181.1L352.8,181.1ZM359.3,183.6L362.1,183.6L362,181.1L359.2,181.1ZM368,183.6L375,183.6L374.9,181.1L367.9,181.1ZM376.6,183.6L381.5,183.6L381.4,181.1L376.5,181.1ZM387.4,183.6L392.3,183.6L392.2,181.1L387.3,181.1ZM393.9,183.6L405.3,183.6L405.2,181.1L393.8,181.1ZM482.6,183.6L487.5,183.6L487.2,181.1L482.3,181.1ZM508.5,183.6L515.6,183.6L515.2,181.1L508.2,181.1ZM294.5,181.7L297.2,181.7L297.3,179.2L294.5,179.2ZM307.4,181.7L310.2,181.7L310.2,179.2L307.5,179.2ZM318.2,181.7L323.1,181.7L323.1,179.2L318.2,179.2ZM337.6,181.7L340.4,181.7L340.4,179.2L337.6,179.2ZM346.3,181.7L357.7,181.7L357.6,179.2L346.2,179.2ZM359.2,181.7L370.6,181.7L370.5,179.2L359.1,179.2ZM374.3,181.7L377.1,181.7L377,179.2L374.2,179.2ZM383,181.7L385.7,181.7L385.6,179.2L382.8,179.2ZM387.3,181.7L398.7,181.7L398.5,179.2L387.2,179.2ZM421.8,181.7L424.6,181.7L424.4,179.2L421.6,179.2ZM480.1,181.7L489.3,181.7L489,179.2L479.8,179.2ZM490.9,181.7L498,181.7L497.6,179.2L490.5,179.2ZM508.2,181.7L519.6,181.7L519.1,179.2L507.8,179.2ZM292.4,179.8L297.3,179.8L297.3,177.4L292.4,177.4ZM303.1,179.8L305.9,179.8L305.9,177.4L303.2,177.4ZM309.6,179.8L312.4,179.8L312.4,177.4L309.6,177.4ZM320.4,179.8L325.3,179.8L325.3,177.4L320.4,177.4ZM331.1,179.8L333.9,179.8L333.9,177.4L331.1,177.4ZM348.4,179.8L357.6,179.8L357.5,177.4L348.3,177.4ZM359.1,179.8L361.9,179.8L361.8,177.4L359.1,177.4ZM363.5,179.8L368.4,179.8L368.3,177.4L363.4,177.4ZM374.2,179.8L377,179.8L376.9,177.4L374.1,177.4ZM382.8,179.8L396.4,179.8L396.2,177.4L382.7,177.4ZM421.6,179.8L430.8,179.8L430.6,177.4L421.4,177.4ZM479.8,179.8L499.8,179.8L499.4,177.4L479.4,177.4ZM507.8,179.8L527.8,179.8L527.3,177.4L507.4,177.4ZM303.2,178L305.9,178L306,175.5L303.2,175.5ZM316.1,178L318.8,178L318.8,175.5L316.1,175.5ZM324.7,178L331.7,178L331.7,175.5L324.7,175.5ZM339.7,178L342.5,178L342.4,175.5L339.7,175.5ZM344,178L346.8,178L346.7,175.5L344,175.5ZM350.5,178L353.2,178L353.1,175.5L350.4,175.5ZM354.8,178L357.5,178L357.4,175.5L354.7,175.5ZM363.4,178L379,178L378.9,175.5L363.3,175.5ZM380.6,178L385.4,178L385.3,175.5L380.4,175.5ZM389.1,178L396.2,178L396,175.5L389,175.5ZM412.8,178L430.6,178L430.3,175.5L412.6,175.5ZM468.7,178L471.4,178L471,175.5L468.3,175.5ZM473,178L482.2,178L481.8,175.5L472.6,175.5ZM485.9,178L501.5,178L501.1,175.5L485.5,175.5ZM507.4,178L527.3,178L526.8,175.5L506.9,175.5ZM296.8,176.1L310.3,176.1L310.3,173.6L296.8,173.6ZM311.8,176.1L314.5,176.1L314.6,173.6L311.8,173.6ZM316.1,176.1L321,176.1L321,173.6L316.1,173.6ZM328.9,176.1L331.7,176.1L331.7,173.6L328.9,173.6ZM337.5,176.1L346.7,176.1L346.6,173.6L337.5,173.6ZM352.5,176.1L355.3,176.1L355.2,173.6L352.4,173.6ZM359,176.1L361.7,176.1L361.6,173.6L358.9,173.6ZM365.4,176.1L374.6,176.1L374.4,173.6L365.3,173.6ZM380.4,176.1L385.3,176.1L385.1,173.6L380.2,173.6ZM386.8,176.1L396,176.1L395.8,173.6L386.7,173.6ZM410.4,176.1L428.2,176.1L427.9,173.6L410.2,173.6ZM464,176.1L466.8,176.1L466.4,173.6L463.6,173.6ZM468.3,176.1L477.5,176.1L477.1,173.6L467.9,173.6ZM485.5,176.1L516.1,176.1L515.6,173.6L485,173.6ZM517.6,176.1L520.4,176.1L519.8,173.6L517.1,173.6ZM526.2,176.1L528.9,176.1L528.4,173.6L525.7,173.6ZM301.1,174.2L306,174.2L306,171.7L301.2,171.7ZM311.8,174.2L314.6,174.2L314.6,171.7L311.8,171.7ZM318.2,174.2L321,174.2L321,171.7L318.2,171.7ZM328.9,174.2L333.8,174.2L333.8,171.7L328.9,171.7ZM335.3,174.2L340.2,174.2L340.2,171.7L335.3,171.7ZM341.8,174.2L346.6,174.2L346.6,171.7L341.7,171.7ZM352.4,174.2L357.3,174.2L357.2,171.7L352.4,171.7ZM367.4,174.2L370.2,174.2L370,171.7L367.3,171.7ZM380.2,174.2L385.1,174.2L384.9,171.7L380.1,171.7ZM388.8,174.2L391.5,174.2L391.3,171.7L388.6,171.7ZM410.2,174.2L425.8,174.2L425.5,171.7L409.9,171.7ZM461.5,174.2L474.9,174.2L474.5,171.7L461.1,171.7ZM500,174.2L507,174.2L506.5,171.7L499.5,171.7ZM512.8,174.2L515.6,174.2L515,171.7L512.3,171.7ZM525.7,174.2L528.4,174.2L527.8,171.7L525.1,171.7ZM301.2,172.3L306,172.3L306.1,169.8L301.2,169.8ZM307.6,172.3L318.8,172.3L318.8,169.8L307.6,169.8ZM324.6,172.3L335.9,172.3L335.8,169.8L324.6,169.8ZM337.4,172.3L340.2,172.3L340.1,169.8L337.4,169.8ZM343.8,172.3L346.6,172.3L346.5,169.8L343.8,169.8ZM352.4,172.3L357.2,172.3L357.1,169.8L352.3,169.8ZM373.7,172.3L376.4,172.3L376.2,169.8L373.5,169.8ZM380.1,172.3L384.9,172.3L384.8,169.8L379.9,169.8ZM403.5,172.3L412.7,172.3L412.4,169.8L403.3,169.8ZM414.2,172.3L423.3,172.3L423,169.8L413.9,169.8ZM459,172.3L466,172.3L465.5,169.8L458.6,169.8ZM469.6,172.3L474.5,172.3L474.1,169.8L469.2,169.8ZM301.2,170.4L314.6,170.4L314.6,167.9L301.3,167.9ZM324.6,170.4L327.3,170.4L327.3,167.9L324.6,167.9ZM328.9,170.4L335.8,170.4L335.8,167.9L328.8,167.9ZM343.8,170.4L346.5,170.4L346.4,167.9L343.7,167.9ZM350.1,170.4L355,170.4L354.9,167.9L350,167.9ZM371.4,170.4L376.2,170.4L376.1,167.9L371.2,167.9ZM379.9,170.4L384.8,170.4L384.5,167.9L379.7,167.9ZM401.2,170.4L412.4,170.4L412.1,167.9L400.9,167.9ZM413.9,170.4L423,170.4L422.7,167.9L413.6,167.9ZM424.6,170.4L431.5,170.4L431.2,167.9L424.2,167.9ZM456.4,170.4L465.5,170.4L465.1,167.9L456,167.9ZM469.2,170.4L471.9,170.4L471.5,167.9L468.7,167.9ZM305.5,168.5L310.4,168.5L310.4,166L305.6,166ZM311.9,168.5L316.7,168.5L316.7,166L311.9,166ZM324.6,168.5L327.3,168.5L327.3,166L324.6,166ZM331,168.5L335.8,168.5L335.7,166L330.9,166ZM337.3,168.5L340,168.5L340,166L337.3,166ZM343.7,168.5L348.5,168.5L348.4,166L343.6,166ZM352.2,168.5L354.9,168.5L354.8,166L352,166ZM364.9,168.5L367.6,168.5L367.4,166L364.7,166ZM379.7,168.5L386.7,168.5L386.5,166L379.5,166ZM392.4,168.5L403.6,168.5L403.4,166L392.2,166ZM407.3,168.5L410,168.5L409.7,166L407,166ZM411.5,168.5L420.6,168.5L420.3,166L411.2,166ZM424.2,168.5L435.4,168.5L435,166L423.9,166ZM456,168.5L473.6,168.5L473.1,166L455.6,166ZM538.7,168.5L543.5,168.5L542.8,166L538,166ZM151.3,166.6L158.3,166.6L158.8,164.1L151.9,164.1ZM307.7,166.6L310.4,166.6L310.4,164.1L307.7,164.1ZM311.9,166.6L314.6,166.6L314.6,164.1L311.9,164.1ZM318.2,166.6L321,166.6L321,164.1L318.2,164.1ZM328.8,166.6L340,166.6L339.9,164.1L328.8,164.1ZM343.6,166.6L346.3,166.6L346.2,164.1L343.5,164.1ZM352,166.6L354.8,166.6L354.6,164.1L351.9,164.1ZM379.5,166.6L386.5,166.6L386.2,164.1L379.3,164.1ZM392.2,166.6L401.2,166.6L401,164.1L391.9,164.1ZM402.8,166.6L407.6,166.6L407.3,164.1L402.5,164.1ZM413.3,166.6L422.4,166.6L422,164.1L413,164.1ZM423.9,166.6L428.7,166.6L428.3,164.1L423.5,164.1ZM430.2,166.6L432.9,166.6L432.5,164.1L429.8,164.1ZM457.7,166.6L473.1,166.6L472.5,164.1L457.2,164.1ZM480.9,166.6L485.7,166.6L485.2,164.1L480.4,164.1ZM540.1,166.6L542.8,166.6L542,164.1L539.3,164.1ZM145.6,164.7L150.4,164.7L151,162.3L146.2,162.3ZM151.9,164.7L160.9,164.7L161.5,162.3L152.5,162.3ZM168.8,164.7L182,164.7L182.5,162.3L169.3,162.3ZM185.6,164.7L188.3,164.7L188.8,162.3L186.1,162.3ZM309.8,164.7L314.6,164.7L314.7,162.3L309.9,162.3ZM328.8,164.7L337.8,164.7L337.7,162.3L328.7,162.3ZM381.4,164.7L411.5,164.7L411.2,162.3L381.2,162.3ZM415.1,164.7L419.9,164.7L419.6,162.3L414.8,162.3ZM421.4,164.7L428.3,164.7L427.9,162.3L421,162.3ZM457.2,164.7L472.5,164.7L472,162.3L456.7,162.3ZM476.2,164.7L478.9,164.7L478.3,162.3L475.6,162.3ZM480.4,164.7L487.3,164.7L486.7,162.3L479.8,162.3ZM537.2,164.7L546.2,164.7L545.4,162.3L536.4,162.3ZM547.7,164.7L550.4,164.7L549.6,162.3L546.9,162.3ZM144.1,162.9L159.4,162.9L160,160.4L144.8,160.4ZM169.3,162.9L176.2,162.9L176.7,160.4L169.9,160.4ZM177.7,162.9L193,162.9L193.4,160.4L178.2,160.4ZM312,162.9L314.7,162.9L314.7,160.4L312,160.4ZM322.4,162.9L337.7,162.9L337.7,160.4L322.4,160.4ZM381.2,162.9L411.2,162.9L410.8,160.4L381,160.4ZM414.8,162.9L417.5,162.9L417.1,160.4L414.4,160.4ZM423.1,162.9L425.8,162.9L425.5,160.4L422.8,160.4ZM454.6,162.9L474.1,162.9L473.5,160.4L454.1,160.4ZM475.6,162.9L478.3,162.9L477.7,160.4L475,160.4ZM479.8,162.9L486.7,162.9L486.1,160.4L479.2,160.4ZM538.5,162.9L553.8,162.9L552.9,160.4L537.7,160.4ZM138.5,161L153.7,161L154.4,158.5L139.2,158.5ZM157.3,161L160,161L160.6,158.5L157.9,158.5ZM171.9,161L193.4,161L193.9,158.5L172.5,158.5ZM309.9,161L318.9,161L318.9,158.5L309.9,158.5ZM322.4,161L337.7,161L337.6,158.5L322.4,158.5ZM358,161L364.8,161L364.7,158.5L357.8,158.5ZM372.6,161L377.4,161L377.2,158.5L372.4,158.5ZM381,161L394.1,161L393.8,158.5L380.7,158.5ZM395.6,161L400.4,161L400.1,158.5L395.3,158.5ZM401.9,161L419.2,161L418.8,158.5L401.5,158.5ZM420.7,161L425.5,161L425,158.5L420.3,158.5ZM445.8,161L450.5,161L450,158.5L445.3,158.5ZM452,161L463.1,161L462.5,158.5L451.5,158.5ZM464.6,161L475.6,161L475,158.5L464,158.5ZM481.3,161L486.1,161L485.4,158.5L480.7,158.5ZM489.6,161L494.4,161L493.7,158.5L489,158.5ZM541.9,161L555,161L554.1,158.5L541,158.5ZM137.1,159.1L141.9,159.1L142.6,156.6L137.9,156.6ZM145.5,159.1L148.1,159.1L148.8,156.6L146.2,156.6ZM149.6,159.1L154.4,159.1L155,156.6L150.3,156.6ZM170.4,159.1L193.9,159.1L194.4,156.6L171,156.6ZM307.8,159.1L316.8,159.1L316.8,156.6L307.9,156.6ZM318.3,159.1L329.3,159.1L329.2,156.6L318.3,156.6ZM330.8,159.1L337.6,159.1L337.5,156.6L330.7,156.6ZM355.7,159.1L358.4,159.1L358.3,156.6L355.6,156.6ZM372.4,159.1L377.2,159.1L376.9,156.6L372.2,156.6ZM380.7,159.1L425,159.1L424.6,156.6L380.5,156.6ZM445.3,159.1L456.3,159.1L455.7,156.6L444.8,156.6ZM457.8,159.1L462.5,159.1L461.9,156.6L457.2,156.6ZM466.1,159.1L475,159.1L474.4,156.6L465.5,156.6ZM491.1,159.1L493.7,159.1L493,156.6L490.4,156.6ZM115,157.2L134.3,157.2L135.1,154.7L115.9,154.7ZM137.9,157.2L150.9,157.2L151.6,154.7L138.6,154.7ZM162.7,157.2L194.4,157.2L195,154.7L163.4,154.7ZM303.7,157.2L318.9,157.2L318.9,154.7L303.8,154.7ZM324.5,157.2L345.8,157.2L345.7,154.7L324.5,154.7ZM353.5,157.2L356.2,157.2L356,154.7L353.4,154.7ZM363.9,157.2L366.6,157.2L366.4,154.7L363.7,154.7ZM376.3,157.2L403.9,157.2L403.5,154.7L376.1,154.7ZM407.4,157.2L412.2,157.2L411.8,154.7L407.1,154.7ZM415.7,157.2L428.8,157.2L428.3,154.7L415.3,154.7ZM444.8,157.2L457.8,157.2L457.2,154.7L444.2,154.7ZM467.6,157.2L472.3,157.2L471.7,154.7L466.9,154.7ZM115.9,155.3L153.7,155.3L154.4,152.8L116.8,152.8ZM157.2,155.3L197,155.3L197.6,152.8L157.9,152.8ZM303.8,155.3L320.9,155.3L320.9,152.8L303.9,152.8ZM338.9,155.3L347.8,155.3L347.7,152.8L338.8,152.8ZM353.4,155.3L356,155.3L355.9,152.8L353.2,152.8ZM378.2,155.3L401.5,155.3L401.1,152.8L377.9,152.8ZM407.1,155.3L411.8,155.3L411.4,152.8L406.7,152.8ZM417.4,155.3L430.4,155.3L429.9,152.8L417,152.8ZM436,155.3L440.7,155.3L440.2,152.8L435.5,152.8ZM442.2,155.3L446.9,155.3L446.3,152.8L441.6,152.8ZM114.7,153.4L185.2,153.4L185.9,151L115.7,151ZM188.7,153.4L197.6,153.4L198.1,151L189.3,151ZM303.9,153.4L310.6,153.4L310.7,151L304,151ZM312.1,153.4L318.9,153.4L318.9,151L312.1,151ZM332.7,153.4L337.4,153.4L337.3,151L332.6,151ZM345,153.4L347.7,153.4L347.5,151L344.9,151ZM361.4,153.4L366.2,153.4L365.9,151L361.3,151ZM377.9,153.4L386.7,153.4L386.4,151L377.6,151ZM392.3,153.4L401.1,153.4L400.7,151L392,151ZM406.7,153.4L409.3,153.4L408.9,151L406.3,151ZM417,153.4L429.9,153.4L429.4,151L416.5,151ZM431.3,153.4L446.3,153.4L445.8,151L430.8,151ZM115.7,151.6L130.6,151.6L131.5,149.1L116.6,149.1ZM136.1,151.6L173.6,151.6L174.3,149.1L137,149.1ZM179.1,151.6L181.8,151.6L182.4,149.1L179.8,149.1ZM191.4,151.6L200.2,151.6L200.8,149.1L192,149.1ZM304,151.6L306.6,151.6L306.7,149.1L304,149.1ZM314.2,151.6L318.9,151.6L318.9,149.1L314.2,149.1ZM334.6,151.6L337.3,151.6L337.2,149.1L334.6,149.1ZM361.3,151.6L365.9,151.6L365.7,149.1L361.1,149.1ZM379.7,151.6L384.4,151.6L384.1,149.1L379.4,149.1ZM392,151.6L402.8,151.6L402.4,149.1L391.6,149.1ZM424.7,151.6L447.8,151.6L447.2,149.1L424.2,149.1ZM116.6,149.7L174.3,149.7L175,147.2L117.7,147.2ZM361.1,149.7L365.7,149.7L365.5,147.2L360.8,147.2ZM377.3,149.7L380,149.7L379.7,147.2L377.1,147.2ZM424.2,149.7L428.9,149.7L428.3,147.2L423.7,147.2ZM430.3,149.7L443.1,149.7L442.5,147.2L429.7,147.2ZM135.9,147.8L138.5,147.8L139.5,145.3L136.8,145.3ZM146,147.8L150.7,147.8L151.6,145.3L146.9,145.3ZM156.2,147.8L160.8,147.8L161.6,145.3L157,145.3ZM433.8,147.8L438.5,147.8L437.8,145.3L433.2,145.3Z"/>
<path fill="#ff9600" d="M219.8,343L222.2,343L221.4,340.7L219,340.7ZM220.8,341.3L223.2,341.3L222.5,338.9L220,338.9ZM218.2,339.5L222.5,339.5L221.7,337.1L217.4,337.1ZM208,337.7L216.1,337.7L215.3,335.3L207.2,335.3ZM207.2,335.9L209.7,335.9L208.9,333.5L206.4,333.5ZM226,335.9L232.3,335.9L231.7,333.5L225.4,333.5ZM208.3,334.1L210.8,334.1L210,331.7L207.5,331.7ZM227.3,334.1L229.8,334.1L229.1,331.7L226.6,331.7ZM207.5,332.3L210,332.3L209.3,329.8L206.7,329.8ZM208.7,330.4L211.2,330.4L210.5,328L208,328ZM208,328.6L210.5,328.6L209.8,326.2L207.3,326.2ZM207.3,326.8L209.8,326.8L209.1,324.3L206.6,324.3ZM206.6,324.9L209.1,324.9L208.5,322.5L205.9,322.5ZM584.9,324.9L587.5,324.9L589.1,322.5L586.5,322.5ZM203.9,323.1L206.5,323.1L205.9,320.6L203.3,320.6ZM582.5,323.1L587.1,323.1L588.6,320.6L584.1,320.6ZM201.3,321.2L205.9,321.2L205.2,318.8L200.6,318.8ZM584.1,321.2L586.6,321.2L588.1,318.8L585.5,318.8ZM200.6,319.4L203.2,319.4L202.6,316.9L200,316.9ZM551.6,319.4L554.2,319.4L555.5,316.9L552.9,316.9ZM602,313.8L606.7,313.8L608.1,311.3L603.4,311.3ZM603.4,311.9L608.1,311.9L609.5,309.4L604.8,309.4ZM553.6,310L556.3,310L557.4,307.6L554.7,307.6ZM557.7,310L560.4,310L561.5,307.6L558.8,307.6ZM602.7,310L607.4,310L608.8,307.6L604,307.6ZM556.8,308.2L563.5,308.2L564.6,305.7L557.8,305.7ZM606.1,308.2L608.8,308.2L610,305.7L607.4,305.7ZM559.9,306.3L566.7,306.3L567.7,303.8L560.9,303.8ZM563,304.4L569.8,304.4L570.8,301.9L563.9,301.9ZM358,300.6L362.7,300.6L362.9,298.1L358.1,298.1ZM356,298.7L360.8,298.7L361,296.3L356.1,296.3ZM358.3,296.9L363.1,296.9L363.2,294.4L358.4,294.4ZM364.6,296.9L369.4,296.9L369.5,294.4L364.7,294.4ZM360.5,295L363.2,295L363.4,292.5L360.6,292.5ZM236.4,281.8L239.1,281.8L239,279.3L236.2,279.3ZM236.2,279.9L243.3,279.9L243.1,277.4L236,277.4ZM233.9,278L247.5,278L247.3,275.5L233.7,275.5ZM235.9,276.1L245.2,276.1L245,273.6L235.7,273.6ZM202.4,266.7L205.2,266.7L205.1,264.2L202.3,264.2ZM195.5,262.9L198.3,262.9L198.2,260.4L195.4,260.4ZM199.9,262.9L204.9,262.9L204.7,260.4L199.8,260.4ZM188.5,257.2L191.3,257.2L191.1,254.7L188.3,254.7ZM186.1,255.3L191.1,255.3L191,252.8L186,252.8ZM340.3,244L343.1,244L343.1,241.5L340.3,241.5ZM563.6,244L573.1,244L573.2,241.5L563.7,241.5ZM340.3,242.1L345.3,242.1L345.4,239.6L340.3,239.6ZM559.3,242.1L562.1,242.1L562.2,239.6L559.4,239.6ZM574.8,242.1L579.8,242.1L579.9,239.6L574.9,239.6ZM338.1,240.2L358.6,240.2L358.6,237.7L338.1,237.7ZM555,240.2L560,240.2L560.1,237.7L555.1,237.7ZM338.1,238.3L365.3,238.3L365.3,235.9L338.1,235.9ZM555.1,238.3L560.1,238.3L560.2,235.9L555.2,235.9ZM340.3,236.5L365.3,236.5L365.3,234L340.3,234ZM559.6,236.5L562.4,236.5L562.5,234L559.7,234ZM564,236.5L571.3,236.5L571.3,234L564.1,234ZM342.6,234.6L367.5,234.6L367.5,232.1L342.6,232.1ZM497.6,234.6L500.4,234.6L500.5,232.1L497.7,232.1ZM515.3,234.6L522.6,234.6L522.6,232.1L515.4,232.1ZM183,232.7L188.1,232.7L188,230.2L183,230.2ZM344.8,232.7L360.9,232.7L360.9,230.2L344.8,230.2ZM364.7,232.7L367.5,232.7L367.5,230.2L364.7,230.2ZM495.4,232.7L502.7,232.7L502.7,230.2L495.5,230.2ZM511,232.7L516,232.7L516,230.2L511,230.2ZM519.8,232.7L524.8,232.7L524.9,230.2L519.8,230.2ZM183,230.8L188,230.8L188.1,228.3L183,228.3ZM344.8,230.8L358.7,230.8L358.7,228.3L344.8,228.3ZM364.7,230.8L367.5,230.8L367.5,228.3L364.7,228.3ZM493.3,230.8L502.7,230.8L502.7,228.3L493.2,228.3ZM511,230.8L513.8,230.8L513.8,228.3L511,228.3ZM522.1,230.8L524.9,230.8L524.8,228.3L522,228.3ZM183,228.9L188.1,228.9L188.1,226.4L183.1,226.4ZM200.8,228.9L203.6,228.9L203.6,226.4L200.8,226.4ZM342.6,228.9L352,228.9L352,226.4L342.6,226.4ZM355.9,228.9L360.9,228.9L360.9,226.4L355.9,226.4ZM364.7,228.9L367.5,228.9L367.5,226.4L364.7,226.4ZM493.2,228.9L502.7,228.9L502.7,226.4L493.2,226.4ZM511,228.9L513.8,228.9L513.7,226.4L510.9,226.4ZM180.8,227L183.7,227L183.7,224.5L180.9,224.5ZM187.5,227L190.3,227L190.3,224.5L187.5,224.5ZM198.6,227L210.2,227L210.3,224.5L198.6,224.5ZM342.6,227L352,227L352,224.5L342.6,224.5ZM358.1,227L367.5,227L367.5,224.5L358.1,224.5ZM491,227L502.7,227L502.6,224.5L490.9,224.5ZM519.8,227L522.6,227L522.5,224.5L519.7,224.5ZM180.9,225.1L183.7,225.1L183.7,222.7L180.9,222.7ZM187.5,225.1L192.6,225.1L192.6,222.7L187.6,222.7ZM198.6,225.1L210.3,225.1L210.3,222.7L198.6,222.7ZM342.6,225.1L352,225.1L352,222.7L342.5,222.7ZM355.8,225.1L365.3,225.1L365.3,222.7L355.8,222.7ZM490.9,225.1L496,225.1L495.9,222.7L490.9,222.7ZM497.6,225.1L502.6,225.1L502.6,222.7L497.5,222.7ZM517.5,225.1L522.5,225.1L522.5,222.7L517.5,222.7ZM180.9,223.3L183.7,223.3L183.8,220.8L181,220.8ZM187.6,223.3L194.8,223.3L194.9,220.8L187.6,220.8ZM196.4,223.3L210.3,223.3L210.3,220.8L196.5,220.8ZM304.9,223.3L309.9,223.3L309.9,220.8L304.9,220.8ZM342.5,223.3L349.8,223.3L349.8,220.8L342.5,220.8ZM360.3,223.3L363.1,223.3L363.1,220.8L360.2,220.8ZM490.9,223.3L495.9,223.3L495.8,220.8L490.8,220.8ZM497.5,223.3L502.6,223.3L502.5,220.8L497.5,220.8ZM181,221.4L183.8,221.4L183.9,218.9L181,218.9ZM187.6,221.4L194.9,221.4L194.9,218.9L187.7,218.9ZM196.5,221.4L208.1,221.4L208.2,218.9L196.5,218.9ZM302.7,221.4L307.7,221.4L307.7,218.9L302.7,218.9ZM318.2,221.4L321,221.4L321,218.9L318.2,218.9ZM331.5,221.4L334.3,221.4L334.3,218.9L331.5,218.9ZM342.5,221.4L349.8,221.4L349.8,218.9L342.5,218.9ZM495.2,221.4L500.3,221.4L500.2,218.9L495.2,218.9ZM181,219.5L190.5,219.5L190.6,217L181.1,217ZM196.5,219.5L208.2,219.5L208.2,217L196.6,217ZM300.5,219.5L305.5,219.5L305.5,217L300.5,217ZM318.2,219.5L325.4,219.5L325.4,217L318.2,217ZM331.5,219.5L334.3,219.5L334.3,217L331.5,217ZM340.3,219.5L349.8,219.5L349.7,217L340.3,217ZM176.7,217.6L179.5,217.6L179.6,215.1L176.8,215.1ZM181.1,217.6L190.6,217.6L190.6,215.1L181.2,215.1ZM194.4,217.6L201.6,217.6L201.7,215.1L194.4,215.1ZM296.1,217.6L305.5,217.6L305.5,215.1L296.1,215.1ZM309.4,217.6L325.4,217.6L325.4,215.1L309.4,215.1ZM329.2,217.6L336.5,217.6L336.5,215.1L329.2,215.1ZM338.1,217.6L340.9,217.6L340.9,215.1L338.1,215.1ZM342.5,217.6L347.5,217.6L347.5,215.1L342.5,215.1ZM172.3,215.7L181.8,215.7L181.9,213.2L172.4,213.2ZM185.6,215.7L190.6,215.7L190.7,213.2L185.7,213.2ZM296.1,215.7L340.9,215.7L340.9,213.2L296.1,213.2ZM342.5,215.7L349.7,215.7L349.7,213.2L342.5,213.2ZM170.2,213.8L177.5,213.8L177.6,211.3L170.3,211.3ZM185.7,213.8L190.7,213.8L190.8,211.3L185.8,211.3ZM320.4,213.8L349.7,213.8L349.7,211.3L320.4,211.3ZM377.8,213.8L380.6,213.8L380.6,211.3L377.8,211.3ZM168.1,211.9L175.4,211.9L175.5,209.4L168.3,209.4ZM183.6,211.9L188.6,211.9L188.7,209.4L183.7,209.4ZM322.6,211.9L349.7,211.9L349.7,209.4L322.6,209.4ZM364.5,211.9L367.3,211.9L367.3,209.4L364.5,209.4ZM377.8,211.9L382.8,211.9L382.7,209.4L377.7,209.4ZM166,210L173.3,210L173.4,207.6L166.2,207.6ZM185.9,210L190.9,210L191,207.6L186,207.6ZM322.6,210L349.7,210L349.6,207.6L322.6,207.6ZM366.7,210L369.5,210L369.5,207.6L366.7,207.6ZM377.7,210L382.7,210L382.7,207.6L377.7,207.6ZM166.2,208.2L171.2,208.2L171.3,205.7L166.3,205.7ZM320.4,208.2L323.2,208.2L323.2,205.7L320.4,205.7ZM324.8,208.2L336.4,208.2L336.4,205.7L324.8,205.7ZM340.2,208.2L349.6,208.2L349.6,205.7L340.2,205.7ZM357.9,208.2L362.9,208.2L362.8,205.7L357.8,205.7ZM366.7,208.2L369.5,208.2L369.4,205.7L366.6,205.7ZM377.7,208.2L380.5,208.2L380.4,205.7L377.6,205.7ZM164.1,206.3L169.1,206.3L169.3,203.8L164.3,203.8ZM316,206.3L336.4,206.3L336.4,203.8L316,203.8ZM342.4,206.3L345.2,206.3L345.2,203.8L342.4,203.8ZM357.8,206.3L369.4,206.3L369.4,203.8L357.8,203.8ZM157.7,204.4L167.1,204.4L167.3,201.9L157.9,201.9ZM313.8,204.4L329.8,204.4L329.8,201.9L313.8,201.9ZM362.2,204.4L367.2,204.4L367.1,201.9L362.1,201.9ZM155.7,202.5L173.8,202.5L174,200L155.9,200ZM313.8,202.5L325.4,202.5L325.4,200L313.8,200ZM500.5,202.5L503.3,202.5L503.1,200L500.3,200ZM153.7,200.6L174,200.6L174.2,198.1L153.9,198.1ZM313.8,200.6L336.4,200.6L336.3,198.1L313.8,198.1ZM408.1,200.6L410.9,200.6L410.8,198.1L408,198.1ZM498.1,200.6L509.6,200.6L509.4,198.1L497.8,198.1ZM151.7,198.7L165.5,198.7L165.7,196.2L152,196.2ZM289.7,198.7L299.1,198.7L299.1,196.2L289.8,196.2ZM300.7,198.7L303.5,198.7L303.5,196.2L300.7,196.2ZM311.6,198.7L347.3,198.7L347.2,196.2L311.6,196.2ZM357.6,198.7L362.6,198.7L362.6,196.2L357.6,196.2ZM405.8,198.7L413,198.7L412.9,196.2L405.7,196.2ZM495.6,198.7L509.4,198.7L509.1,196.2L495.4,196.2ZM152,196.8L165.7,196.8L165.9,194.3L152.2,194.3ZM182.6,196.8L185.4,196.8L185.6,194.3L182.8,194.3ZM193.5,196.8L196.3,196.8L196.5,194.3L193.7,194.3ZM292,196.8L294.7,196.8L294.8,194.3L292,194.3ZM300.7,196.8L303.5,196.8L303.5,194.3L300.7,194.3ZM307.3,196.8L312.2,196.8L312.3,194.3L307.3,194.3ZM313.8,196.8L318.8,196.8L318.8,194.3L313.8,194.3ZM324.8,196.8L327.6,196.8L327.5,194.3L324.8,194.3ZM329.1,196.8L331.9,196.8L331.9,194.3L329.1,194.3ZM342.3,196.8L345.1,196.8L345,194.3L342.2,194.3ZM346.6,196.8L349.4,196.8L349.4,194.3L346.6,194.3ZM353.2,196.8L362.6,196.8L362.5,194.3L353.2,194.3ZM370.7,196.8L373.5,196.8L373.4,194.3L370.6,194.3ZM403.5,196.8L412.9,196.8L412.7,194.3L403.4,194.3ZM414.5,196.8L417.2,196.8L417.1,194.3L414.3,194.3ZM495.4,196.8L506.9,196.8L506.6,194.3L495.1,194.3ZM528.2,196.8L531,196.8L530.7,194.3L527.9,194.3ZM145.7,194.9L165.9,194.9L166.2,192.5L145.9,192.5ZM182.8,194.9L187.8,194.9L188,192.5L183,192.5ZM189.3,194.9L194.3,194.9L194.5,192.5L189.5,192.5ZM292,194.9L297,194.9L297,192.5L292,192.5ZM302.9,194.9L310.1,194.9L310.1,192.5L302.9,192.5ZM311.7,194.9L316.6,194.9L316.6,192.5L311.7,192.5ZM318.2,194.9L321,194.9L321,192.5L318.2,192.5ZM324.8,194.9L327.5,194.9L327.5,192.5L324.8,192.5ZM351,194.9L360.3,194.9L360.2,192.5L350.9,192.5ZM379.4,194.9L382.1,194.9L382.1,192.5L379.3,192.5ZM390.3,194.9L393.1,194.9L393,192.5L390.2,192.5ZM407.8,194.9L421.5,194.9L421.3,192.5L407.6,192.5ZM482,194.9L491.4,194.9L491.1,192.5L481.8,192.5ZM497.3,194.9L506.6,194.9L506.4,192.5L497,192.5ZM508.2,194.9L513.2,194.9L512.9,192.5L507.9,192.5ZM530.1,194.9L532.9,194.9L532.5,192.5L529.7,192.5ZM145.9,193.1L153.1,193.1L153.3,190.6L146.2,190.6ZM159,193.1L166.2,193.1L166.4,190.6L159.3,190.6ZM189.5,193.1L192.3,193.1L192.5,190.6L189.8,190.6ZM296.4,193.1L301.4,193.1L301.4,190.6L296.4,190.6ZM302.9,193.1L310.1,193.1L310.1,190.6L303,190.6ZM318.2,193.1L321,193.1L321,190.6L318.2,190.6ZM324.8,193.1L327.5,193.1L327.5,190.6L324.7,190.6ZM348.7,193.1L358.1,193.1L358,190.6L348.7,190.6ZM364,193.1L366.8,193.1L366.7,190.6L363.9,190.6ZM377.1,193.1L386.4,193.1L386.3,190.6L377,190.6ZM390.2,193.1L395.1,193.1L395,190.6L390.1,190.6ZM401.1,193.1L403.9,193.1L403.7,190.6L400.9,190.6ZM416.3,193.1L419.1,193.1L419,190.6L416.2,190.6ZM481.8,193.1L495.5,193.1L495.2,190.6L481.5,190.6ZM499.2,193.1L504.2,193.1L503.9,190.6L498.9,190.6ZM507.9,193.1L515.1,193.1L514.8,190.6L507.6,190.6ZM148.4,191.2L151.2,191.2L151.4,188.7L148.7,188.7ZM183.2,191.2L190.4,191.2L190.6,188.7L183.4,188.7ZM294.3,191.2L297,191.2L297.1,188.7L294.3,188.7ZM298.6,191.2L303.6,191.2L303.6,188.7L298.6,188.7ZM322.6,191.2L325.3,191.2L325.3,188.7L322.6,188.7ZM333.5,191.2L336.2,191.2L336.2,188.7L333.4,188.7ZM346.5,191.2L349.3,191.2L349.2,188.7L346.5,188.7ZM350.9,191.2L353.6,191.2L353.6,188.7L350.8,188.7ZM355.2,191.2L364.5,191.2L364.5,188.7L355.2,188.7ZM368.3,191.2L371.1,191.2L371,188.7L368.2,188.7ZM377,191.2L386.3,191.2L386.2,188.7L376.9,188.7ZM398.8,191.2L401.5,191.2L401.4,188.7L398.6,188.7ZM407.5,191.2L410.3,191.2L410.1,188.7L407.3,188.7ZM418.4,191.2L423.3,191.2L423.2,188.7L418.2,188.7ZM468.4,191.2L471.2,191.2L471,188.7L468.2,188.7ZM479.3,191.2L493,191.2L492.7,188.7L479.1,188.7ZM503.3,191.2L506.1,191.2L505.8,188.7L503,188.7ZM509.8,191.2L512.6,191.2L512.3,188.7L509.5,188.7ZM181.3,189.3L184,189.3L184.3,186.8L181.5,186.8ZM294.3,189.3L297.1,189.3L297.1,186.8L294.3,186.8ZM298.6,189.3L301.4,189.3L301.5,186.8L298.7,186.8ZM322.6,189.3L325.3,189.3L325.3,186.8L322.6,186.8ZM333.4,189.3L336.2,189.3L336.2,186.8L333.4,186.8ZM346.5,189.3L349.2,189.3L349.2,186.8L346.4,186.8ZM350.8,189.3L353.6,189.3L353.5,186.8L350.8,186.8ZM355.2,189.3L362.3,189.3L362.2,186.8L355.1,186.8ZM368.2,189.3L371,189.3L370.9,186.8L368.1,186.8ZM376.9,189.3L384,189.3L383.9,186.8L376.8,186.8ZM407.3,189.3L410.1,189.3L410,186.8L407.2,186.8ZM418.2,189.3L423.2,189.3L423,186.8L418,186.8ZM468.2,189.3L473.2,189.3L472.9,186.8L468,186.8ZM479.1,189.3L494.9,189.3L494.6,186.8L478.8,186.8ZM500.8,189.3L510.1,189.3L509.8,186.8L500.5,186.8ZM511.7,189.3L514.5,189.3L514.1,186.8L511.4,186.8ZM170.6,187.4L182.1,187.4L182.3,184.9L170.9,184.9ZM303,187.4L305.8,187.4L305.8,184.9L303.1,184.9ZM333.4,187.4L338.3,187.4L338.3,184.9L333.4,184.9ZM346.4,187.4L349.2,187.4L349.1,184.9L346.4,184.9ZM352.9,187.4L360,187.4L360,184.9L352.9,184.9ZM368.1,187.4L373.1,187.4L373,184.9L368,184.9ZM379,187.4L383.9,187.4L383.8,184.9L378.9,184.9ZM385.5,187.4L388.3,187.4L388.1,184.9L385.4,184.9ZM392,187.4L401.3,187.4L401.1,184.9L391.9,184.9ZM407.2,187.4L410,187.4L409.8,184.9L407,184.9ZM418,187.4L425.2,187.4L425,184.9L417.9,184.9ZM465.8,187.4L481.6,187.4L481.3,184.9L465.5,184.9ZM485.3,187.4L494.6,187.4L494.3,184.9L485,184.9ZM504.9,187.4L507.6,187.4L507.3,184.9L504.5,184.9ZM513.5,187.4L520.6,187.4L520.3,184.9L513.2,184.9ZM528.7,187.4L531.5,187.4L531.1,184.9L528.4,184.9ZM177.4,185.5L180.2,185.5L180.4,183L177.6,183ZM290.1,185.5L292.8,185.5L292.9,183L290.1,183ZM294.4,185.5L299.3,185.5L299.4,183L294.4,183ZM352.9,185.5L364.3,185.5L364.2,183L352.8,183ZM368,185.5L379.5,185.5L379.4,183L368,183ZM387.5,185.5L394.6,185.5L394.5,183L387.4,183ZM407,185.5L420.6,185.5L420.5,183L406.9,183ZM463.4,185.5L483.5,185.5L483.2,183L463.1,183ZM485,185.5L496.5,185.5L496.2,183L484.7,183ZM500.2,185.5L507.3,185.5L507,183L499.9,183ZM515.4,185.5L522.5,185.5L522.1,183L515,183ZM526.2,185.5L531.1,185.5L530.8,183L525.8,183ZM290.1,183.6L297.2,183.6L297.2,181.1L290.2,181.1ZM309.6,183.6L314.5,183.6L314.5,181.1L309.6,181.1ZM350.7,183.6L353.4,183.6L353.4,181.1L350.6,181.1ZM355,183.6L359.9,183.6L359.8,181.1L354.9,181.1ZM361.5,183.6L368.6,183.6L368.5,181.1L361.4,181.1ZM374.4,183.6L377.2,183.6L377.1,181.1L374.3,181.1ZM391.7,183.6L394.5,183.6L394.4,181.1L391.6,181.1ZM404.7,183.6L411.8,183.6L411.6,181.1L404.6,181.1ZM417.7,183.6L420.5,183.6L420.3,181.1L417.5,181.1ZM448,183.6L452.9,183.6L452.6,181.1L447.7,181.1ZM458.8,183.6L461.6,183.6L461.3,181.1L458.5,181.1ZM463.1,183.6L483.2,183.6L482.9,181.1L462.8,181.1ZM486.9,183.6L509.1,183.6L508.8,181.1L486.6,181.1ZM515,183.6L524.3,183.6L523.9,181.1L514.6,181.1ZM528,183.6L530.8,183.6L530.3,181.1L527.6,181.1ZM301,181.7L303.7,181.7L303.7,179.2L301,179.2ZM309.6,181.7L312.3,181.7L312.4,179.2L309.6,179.2ZM313.9,181.7L318.8,181.7L318.8,179.2L313.9,179.2ZM322.5,181.7L325.3,181.7L325.3,179.2L322.5,179.2ZM339.8,181.7L346.9,181.7L346.8,179.2L339.8,179.2ZM357.1,181.7L359.8,181.7L359.7,179.2L357,179.2ZM376.5,181.7L381.4,181.7L381.3,179.2L376.4,179.2ZM398.1,181.7L405.2,181.7L405,179.2L397.9,179.2ZM406.7,181.7L409.5,181.7L409.3,179.2L406.5,179.2ZM415.4,181.7L418.1,181.7L417.9,179.2L415.2,179.2ZM424,181.7L441.9,181.7L441.6,179.2L423.8,179.2ZM456.4,181.7L480.7,181.7L480.4,179.2L456.1,179.2ZM488.7,181.7L491.5,181.7L491.1,179.2L488.4,179.2ZM497.4,181.7L508.8,181.7L508.4,179.2L497,179.2ZM519,181.7L526,181.7L525.6,179.2L518.5,179.2ZM527.6,181.7L530.3,181.7L529.9,179.2L527.2,179.2ZM180.4,179.8L183.1,179.8L183.4,177.4L180.7,177.4ZM311.8,179.8L318.8,179.8L318.8,177.4L311.8,177.4ZM333.3,179.8L349,179.8L348.9,177.4L333.3,177.4ZM357,179.8L359.7,179.8L359.7,177.4L356.9,177.4ZM376.4,179.8L379.1,179.8L379,177.4L376.3,177.4ZM395.8,179.8L405,179.8L404.8,177.4L395.6,177.4ZM415.2,179.8L417.9,179.8L417.7,177.4L414.9,177.4ZM430.2,179.8L443.8,179.8L443.5,177.4L430,177.4ZM458.2,179.8L480.4,179.8L480,177.4L457.9,177.4ZM499.2,179.8L508.4,179.8L508,177.4L498.8,177.4ZM144.1,178L149,178L149.5,175.5L144.6,175.5ZM178.5,178L183.4,178L183.8,175.5L178.9,175.5ZM294.6,178L303.8,178L303.8,175.5L294.6,175.5ZM313.9,178L316.7,178L316.7,175.5L313.9,175.5ZM331.1,178L340.3,178L340.3,175.5L331.1,175.5ZM341.9,178L344.6,178L344.6,175.5L341.8,175.5ZM352.6,178L355.4,178L355.3,175.5L352.5,175.5ZM356.9,178L359.7,178L359.6,175.5L356.8,175.5ZM384.8,178L389.7,178L389.6,175.5L384.7,175.5ZM395.6,178L404.8,178L404.6,175.5L395.4,175.5ZM408.5,178L411.2,178L411,175.5L408.3,175.5ZM430,178L443.5,178L443.2,175.5L429.7,175.5ZM449.3,178L454.2,178L453.9,175.5L449,175.5ZM457.9,178L469.3,178L468.9,175.5L457.6,175.5ZM470.8,178L473.6,178L473.2,175.5L470.4,175.5ZM500.9,178L508,178L507.5,175.5L500.5,175.5ZM142.4,176.1L153.7,176.1L154.2,173.6L142.9,173.6ZM176.7,176.1L183.8,176.1L184.1,173.6L177.1,173.6ZM313.9,176.1L316.7,176.1L316.7,173.6L314,173.6ZM324.7,176.1L329.5,176.1L329.5,173.6L324.6,173.6ZM331.1,176.1L338.1,176.1L338.1,173.6L331.1,173.6ZM354.7,176.1L359.6,176.1L359.5,173.6L354.6,173.6ZM384.7,176.1L387.4,176.1L387.3,173.6L384.5,173.6ZM395.4,176.1L398.2,176.1L398,173.6L395.2,173.6ZM401.8,176.1L404.6,176.1L404.4,173.6L401.6,173.6ZM408.3,176.1L411,176.1L410.8,173.6L408,173.6ZM427.6,176.1L445.3,176.1L445,173.6L427.3,173.6ZM446.9,176.1L464.6,176.1L464.2,173.6L446.5,173.6ZM466.2,176.1L468.9,176.1L468.5,173.6L465.8,173.6ZM140.7,174.2L156.3,174.2L156.8,171.7L141.2,171.7ZM177.1,174.2L182,174.2L182.4,171.7L177.5,171.7ZM305.4,174.2L312.4,174.2L312.4,171.7L305.4,171.7ZM314,174.2L318.8,174.2L318.8,171.7L314,171.7ZM324.6,174.2L329.5,174.2L329.5,171.7L324.6,171.7ZM333.2,174.2L335.9,174.2L335.9,171.7L333.2,171.7ZM356.7,174.2L361.6,174.2L361.5,171.7L356.6,171.7ZM384.5,174.2L389.4,174.2L389.2,171.7L384.3,171.7ZM390.9,174.2L393.7,174.2L393.5,171.7L390.7,171.7ZM401.6,174.2L404.4,174.2L404.1,171.7L401.4,171.7ZM405.9,174.2L410.8,174.2L410.5,171.7L405.7,171.7ZM425.2,174.2L445,174.2L444.7,171.7L424.9,171.7ZM450.8,174.2L462.1,174.2L461.7,171.7L450.4,171.7ZM139.1,172.3L169.6,172.3L170,169.8L139.6,169.8ZM171.1,172.3L182.4,172.3L182.8,169.8L171.5,169.8ZM305.4,172.3L308.2,172.3L308.2,169.8L305.5,169.8ZM335.3,172.3L338,172.3L338,169.8L335.2,169.8ZM384.3,172.3L387.1,172.3L386.9,169.8L384.2,169.8ZM388.6,172.3L391.3,172.3L391.1,169.8L388.4,169.8ZM401.4,172.3L404.1,172.3L403.9,169.8L401.2,169.8ZM422.7,172.3L438.3,172.3L437.9,169.8L422.4,169.8ZM450.4,172.3L459.6,172.3L459.2,169.8L450.1,169.8ZM465.4,172.3L470.2,172.3L469.8,169.8L464.9,169.8ZM137.5,170.4L182.8,170.4L183.2,167.9L138.1,167.9ZM326.7,170.4L329.5,170.4L329.4,167.9L326.7,167.9ZM335.2,170.4L340.1,170.4L340,167.9L335.2,167.9ZM384.2,170.4L386.9,170.4L386.7,167.9L383.9,167.9ZM388.4,170.4L401.8,170.4L401.5,167.9L388.2,167.9ZM422.4,170.4L425.2,170.4L424.8,167.9L422.1,167.9ZM430.9,170.4L437.9,170.4L437.5,167.9L430.6,167.9ZM450.1,170.4L457,170.4L456.6,167.9L449.7,167.9ZM464.9,170.4L469.8,170.4L469.3,167.9L464.5,167.9ZM131.7,168.5L183.2,168.5L183.6,166L132.3,166ZM309.8,168.5L312.5,168.5L312.5,166L309.8,166ZM326.7,168.5L331.6,168.5L331.5,166L326.7,166ZM335.2,168.5L337.9,168.5L337.9,166L335.1,166ZM386.1,168.5L393,168.5L392.8,166L385.9,166ZM403,168.5L407.9,168.5L407.6,166L402.8,166ZM420,168.5L424.8,168.5L424.5,166L419.7,166ZM434.8,168.5L437.5,168.5L437.2,166L434.4,166ZM443.3,168.5L456.6,168.5L456.2,166L442.9,166ZM132.3,166.6L151.9,166.6L152.5,164.1L133,164.1ZM157.7,166.6L185.7,166.6L186.2,164.1L158.2,164.1ZM309.8,166.6L312.5,166.6L312.5,164.1L309.8,164.1ZM385.9,166.6L392.8,166.6L392.5,164.1L385.6,164.1ZM421.8,166.6L424.5,166.6L424.1,164.1L421.4,164.1ZM428.1,166.6L430.8,166.6L430.4,164.1L427.7,164.1ZM432.3,166.6L439.3,166.6L438.9,164.1L431.9,164.1ZM442.9,166.6L458.3,166.6L457.8,164.1L442.5,164.1ZM538,166.6L540.7,166.6L539.9,164.1L537.2,164.1ZM128.8,164.7L146.2,164.7L146.8,162.3L129.4,162.3ZM149.8,164.7L152.5,164.7L153.1,162.3L150.4,162.3ZM160.3,164.7L169.4,164.7L169.9,162.3L160.9,162.3ZM181.4,164.7L186.2,164.7L186.7,162.3L181.9,162.3ZM419.3,164.7L422,164.7L421.6,162.3L419,162.3ZM427.7,164.7L436.8,164.7L436.3,162.3L427.3,162.3ZM444.6,164.7L457.8,164.7L457.3,162.3L444.1,162.3ZM116.8,162.9L144.7,162.9L145.4,160.4L117.6,160.4ZM158.8,162.9L169.9,162.9L170.5,160.4L159.4,160.4ZM175.6,162.9L178.3,162.9L178.8,160.4L176.1,160.4ZM416.9,162.9L423.7,162.9L423.4,160.4L416.5,160.4ZM425.2,162.9L436.3,162.9L435.9,160.4L424.9,160.4ZM442,162.9L455.2,162.9L454.7,160.4L441.6,160.4ZM115.5,161L139.1,161L139.8,158.5L116.3,158.5ZM153.1,161L157.9,161L158.5,158.5L153.8,158.5ZM159.4,161L172.5,161L173.1,158.5L160,158.5ZM399.8,161L402.5,161L402.1,158.5L399.5,158.5ZM418.6,161L421.3,161L420.9,158.5L418.2,158.5ZM424.9,161L431.7,161L431.3,158.5L424.4,158.5ZM435.3,161L446.4,161L445.9,158.5L434.9,158.5ZM449.9,161L452.6,161L452.1,158.5L449.4,158.5ZM116.3,159.1L137.7,159.1L138.5,156.6L117.1,156.6ZM141.3,159.1L146.1,159.1L146.8,156.6L142,156.6ZM147.5,159.1L150.2,159.1L150.9,156.6L148.2,156.6ZM153.8,159.1L171,159.1L171.6,156.6L154.4,156.6ZM424.4,159.1L445.9,159.1L445.4,156.6L424,156.6ZM455.7,159.1L458.4,159.1L457.8,156.6L455.1,156.6ZM133.7,157.2L138.5,157.2L139.2,154.7L134.5,154.7ZM150.3,157.2L163.3,157.2L164,154.7L151,154.7ZM428.2,157.2L445.4,157.2L444.8,154.7L427.7,154.7ZM153.1,155.3L157.8,155.3L158.5,152.8L153.8,152.8ZM429.8,155.3L436.6,155.3L436.1,152.8L429.3,152.8ZM440.1,155.3L442.8,155.3L442.2,152.8L439.6,152.8ZM429.3,153.4L431.9,153.4L431.4,151L428.8,151Z"/>
<path fill="#ff5000" d="M215.5,337.7L219.9,337.7L219.1,335.3L214.7,335.3ZM209.1,335.9L215.3,335.9L214.6,333.5L208.3,333.5ZM210.2,334.1L212.7,334.1L211.9,331.7L209.4,331.7ZM225.4,334.1L227.9,334.1L227.2,331.7L224.7,331.7ZM229.2,334.1L233.6,334.1L232.9,331.7L228.5,331.7ZM209.4,332.3L213.8,332.3L213.1,329.8L208.7,329.8ZM210.6,330.4L213.1,330.4L212.4,328L209.9,328ZM209.9,328.6L214.4,328.6L213.7,326.2L209.2,326.2ZM209.2,326.8L213.7,326.8L213.1,324.3L208.5,324.3ZM208.5,324.9L213.1,324.9L212.4,322.5L207.9,322.5ZM581,324.9L585.5,324.9L587.1,322.5L582.5,322.5ZM205.9,323.1L210.5,323.1L209.8,320.6L205.3,320.6ZM580.6,323.1L583.1,323.1L584.7,320.6L582.1,320.6ZM205.3,321.2L209.8,321.2L209.2,318.8L204.6,318.8ZM202.6,319.4L207.2,319.4L206.6,316.9L202,316.9ZM200,317.5L204.6,317.5L204,315.1L199.3,315.1ZM199.3,315.7L202,315.7L201.3,313.2L198.7,313.2ZM198.7,313.8L201.3,313.8L200.8,311.3L198.1,311.3ZM198.1,311.9L200.8,311.9L200.2,309.4L197.5,309.4ZM197.5,310L200.2,310L199.6,307.6L197,307.6ZM551.6,310L554.2,310L555.3,307.6L552.6,307.6ZM606.8,310L611.5,310L612.9,307.6L608.2,307.6ZM197,308.2L199.6,308.2L199.1,305.7L196.4,305.7ZM550.6,308.2L557.4,308.2L558.4,305.7L551.6,305.7ZM608.2,308.2L612.9,308.2L614.2,305.7L609.4,305.7ZM553.7,306.3L560.5,306.3L561.5,303.8L554.7,303.8ZM607.4,306.3L612.1,306.3L613.3,303.8L608.6,303.8ZM556.7,304.4L563.6,304.4L564.5,301.9L557.7,301.9ZM514,302.5L516.7,302.5L517.4,300L514.7,300ZM559.8,302.5L570.8,302.5L571.8,300L560.7,300ZM351.7,300.6L358.6,300.6L358.7,298.1L351.8,298.1ZM514.7,300.6L521.6,300.6L522.4,298.1L515.5,298.1ZM558.6,300.6L573.8,300.6L574.8,298.1L559.5,298.1ZM351.8,298.7L356.6,298.7L356.7,296.3L351.9,296.3ZM559.5,298.7L566.4,298.7L567.3,296.3L560.4,296.3ZM354,296.9L358.9,296.9L359,294.4L354.2,294.4ZM358.4,295L361.1,295L361.2,292.5L358.5,292.5ZM362.6,295L371.7,295L371.8,292.5L362.8,292.5ZM371.7,287.4L374.4,287.4L374.6,284.9L371.8,284.9ZM371.8,285.5L374.6,285.5L374.7,283L372,283ZM234.4,283.6L237.2,283.6L237,281.2L234.2,281.2ZM234.2,281.8L237,281.8L236.8,279.3L234,279.3ZM231.9,279.9L236.8,279.9L236.6,277.4L231.7,277.4ZM231.7,278L234.5,278L234.3,275.5L231.6,275.5ZM231.6,276.1L236.5,276.1L236.3,273.6L231.4,273.6ZM244.6,276.1L249.5,276.1L249.4,273.6L244.4,273.6ZM233.6,274.2L249.4,274.2L249.3,271.7L233.4,271.7ZM235.6,272.3L247.1,272.3L247,269.8L235.5,269.8ZM200.4,268.5L205.4,268.5L205.2,266.1L200.3,266.1ZM198.1,266.7L200.9,266.7L200.7,264.2L197.9,264.2ZM204.6,266.7L207.4,266.7L207.2,264.2L204.5,264.2ZM191.3,264.8L200.7,264.8L200.5,262.3L191.1,262.3ZM204.5,264.8L209.4,264.8L209.3,262.3L204.3,262.3ZM191.1,262.9L193.9,262.9L193.8,260.4L191,260.4ZM197.7,262.9L200.5,262.9L200.4,260.4L197.6,260.4ZM204.3,262.9L207.1,262.9L206.9,260.4L204.1,260.4ZM208.7,262.9L211.5,262.9L211.3,260.4L208.5,260.4ZM191,261L193.8,261L193.6,258.5L190.8,258.5ZM197.6,261L204.7,261L204.6,258.5L197.4,258.5ZM188.6,259.1L193.6,259.1L193.5,256.6L188.5,256.6ZM197.4,259.1L200.2,259.1L200.1,256.6L197.3,256.6ZM186.3,257.2L189.1,257.2L188.9,254.7L186.1,254.7ZM192.9,257.2L200.1,257.2L199.9,254.7L192.7,254.7ZM186,253.4L191,253.4L190.9,251L185.9,251ZM199.2,253.4L202,253.4L201.9,251L199.1,251ZM340.3,245.9L347.5,245.9L347.5,243.4L340.3,243.4ZM563.5,245.9L570.7,245.9L570.9,243.4L563.6,243.4ZM342.5,244L356.4,244L356.4,241.5L342.5,241.5ZM554.8,244L559.8,244L559.9,241.5L554.9,241.5ZM572.5,244L581.9,244L582,241.5L572.6,241.5ZM344.7,242.1L363,242.1L363.1,239.6L344.8,239.6ZM581.4,242.1L584.3,242.1L584.4,239.6L581.6,239.6ZM358,240.2L367.5,240.2L367.5,237.7L358,237.7ZM499.7,240.2L502.5,240.2L502.6,237.7L499.7,237.7ZM180.9,238.3L183.7,238.3L183.7,235.9L180.9,235.9ZM203.1,238.3L205.9,238.3L205.8,235.9L203,235.9ZM364.7,238.3L367.5,238.3L367.5,235.9L364.7,235.9ZM499.7,238.3L502.6,238.3L502.6,235.9L499.8,235.9ZM552.9,238.3L555.7,238.3L555.8,235.9L552.9,235.9ZM178.7,236.5L188.1,236.5L188.1,234L178.6,234ZM200.8,236.5L216.9,236.5L216.9,234L200.8,234ZM364.7,236.5L369.7,236.5L369.7,234L364.7,234ZM497.6,236.5L502.6,236.5L502.7,234L497.6,234ZM515.3,236.5L520.3,236.5L520.4,234L515.3,234ZM555.2,236.5L558,236.5L558,234L555.2,234ZM178.6,234.6L197,234.6L196.9,232.1L178.6,232.1ZM200.8,234.6L216.9,234.6L216.9,232.1L200.8,232.1ZM366.9,234.6L369.7,234.6L369.8,232.1L366.9,232.1ZM499.8,234.6L504.9,234.6L504.9,232.1L499.9,232.1ZM513.1,234.6L515.9,234.6L516,232.1L513.2,232.1ZM522,234.6L527,234.6L527.1,232.1L522,232.1ZM559.7,234.6L566.9,234.6L566.9,232.1L559.7,232.1ZM176.4,232.7L183.6,232.7L183.6,230.2L176.4,230.2ZM187.5,232.7L216.9,232.7L216.9,230.2L187.4,230.2ZM366.9,232.7L369.8,232.7L369.8,230.2L366.9,230.2ZM502.1,232.7L504.9,232.7L504.9,230.2L502.1,230.2ZM524.2,232.7L527.1,232.7L527.1,230.2L524.3,230.2ZM176.4,230.8L183.6,230.8L183.6,228.3L176.4,228.3ZM187.4,230.8L216.9,230.8L216.9,228.3L187.5,228.3ZM366.9,230.8L369.8,230.8L369.8,228.3L366.9,228.3ZM524.3,230.8L527.1,230.8L527.1,228.3L524.2,228.3ZM178.6,228.9L183.6,228.9L183.7,226.4L178.6,226.4ZM187.5,228.9L201.4,228.9L201.4,226.4L187.5,226.4ZM203,228.9L216.9,228.9L216.9,226.4L203,226.4ZM351.4,228.9L356.5,228.9L356.5,226.4L351.4,226.4ZM366.9,228.9L372,228.9L372,226.4L366.9,226.4ZM502.1,228.9L504.9,228.9L504.9,226.4L502.1,226.4ZM522,228.9L527.1,228.9L527,226.4L522,226.4ZM178.6,227L181.4,227L181.5,224.5L178.7,224.5ZM189.7,227L199.2,227L199.2,224.5L189.7,224.5ZM209.6,227L216.9,227L216.9,224.5L209.7,224.5ZM351.4,227L358.7,227L358.7,224.5L351.4,224.5ZM366.9,227L372,227L371.9,224.5L366.9,224.5ZM502.1,227L504.9,227L504.8,224.5L502,224.5ZM522,227L527,227L527,224.5L521.9,224.5ZM192,225.1L199.2,225.1L199.2,222.7L192,222.7ZM209.7,225.1L216.9,225.1L217,222.7L209.7,222.7ZM351.4,225.1L356.4,225.1L356.4,222.7L351.4,222.7ZM364.7,225.1L371.9,225.1L371.9,222.7L364.7,222.7ZM502,225.1L504.8,225.1L504.8,222.7L502,222.7ZM521.9,225.1L524.8,225.1L524.7,222.7L521.9,222.7ZM194.2,223.3L197,223.3L197.1,220.8L194.3,220.8ZM209.7,223.3L217,223.3L217,220.8L209.7,220.8ZM349.2,223.3L360.9,223.3L360.8,220.8L349.2,220.8ZM362.5,223.3L371.9,223.3L371.9,220.8L362.5,220.8ZM488.7,223.3L491.5,223.3L491.4,220.8L488.6,220.8ZM502,223.3L504.8,223.3L504.7,220.8L501.9,220.8ZM519.7,223.3L522.5,223.3L522.4,220.8L519.6,220.8ZM194.3,221.4L197.1,221.4L197.1,218.9L194.3,218.9ZM207.5,221.4L212.6,221.4L212.6,218.9L207.6,218.9ZM349.2,221.4L371.9,221.4L371.9,218.9L349.2,218.9ZM488.6,221.4L493.6,221.4L493.6,218.9L488.5,218.9ZM499.7,221.4L504.7,221.4L504.6,218.9L499.6,218.9ZM189.9,219.5L197.1,219.5L197.2,217L190,217ZM207.6,219.5L212.6,219.5L212.7,217L207.6,217ZM349.2,219.5L371.9,219.5L371.9,217L349.1,217ZM377.9,219.5L380.7,219.5L380.7,217L377.9,217ZM495.2,219.5L502.4,219.5L502.3,217L495.1,217ZM190,217.6L195,217.6L195,215.1L190,215.1ZM201,217.6L212.7,217.6L212.7,215.1L201.1,215.1ZM346.9,217.6L371.9,217.6L371.8,215.1L346.9,215.1ZM377.9,217.6L380.7,217.6L380.7,215.1L377.9,215.1ZM461.9,217.6L464.7,217.6L464.6,215.1L461.8,215.1ZM495.1,217.6L500.1,217.6L500,215.1L495,215.1ZM190,215.7L214.9,215.7L215,213.2L190.1,213.2ZM349.1,215.7L374,215.7L374,213.2L349.1,213.2ZM377.9,215.7L380.7,215.7L380.6,213.2L377.8,213.2ZM455.2,215.7L458,215.7L457.9,213.2L455.1,213.2ZM459.6,215.7L464.6,215.7L464.5,213.2L459.5,213.2ZM492.8,215.7L497.8,215.7L497.7,213.2L492.7,213.2ZM190.1,213.8L212.8,213.8L212.9,211.3L190.2,211.3ZM293.9,213.8L321,213.8L321,211.3L293.9,211.3ZM349.1,213.8L374,213.8L374,211.3L349.1,211.3ZM375.6,213.8L378.4,213.8L378.4,211.3L375.6,211.3ZM380,213.8L382.8,213.8L382.8,211.3L380,211.3ZM452.9,213.8L464.5,213.8L464.4,211.3L452.8,211.3ZM492.7,213.8L497.7,213.8L497.5,211.3L492.5,211.3ZM503.7,213.8L506.5,213.8L506.4,211.3L503.6,211.3ZM188,211.9L204,211.9L204.1,209.4L188.1,209.4ZM205.6,211.9L210.7,211.9L210.7,209.4L205.7,209.4ZM296.1,211.9L323.2,211.9L323.2,209.4L296.1,209.4ZM349.1,211.9L365.1,211.9L365.1,209.4L349.1,209.4ZM366.7,211.9L378.4,211.9L378.3,209.4L366.7,209.4ZM452.8,211.9L462.2,211.9L462.1,209.4L452.7,209.4ZM492.5,211.9L495.3,211.9L495.2,209.4L492.4,209.4ZM503.6,211.9L508.6,211.9L508.4,209.4L503.4,209.4ZM190.3,210L210.7,210L210.8,207.6L190.4,207.6ZM291.7,210L294.5,210L294.6,207.6L291.8,207.6ZM296.1,210L323.2,210L323.2,207.6L296.2,207.6ZM349.1,210L367.3,210L367.3,207.6L349,207.6ZM368.9,210L378.3,210L378.3,207.6L368.9,207.6ZM452.7,210L459.9,210L459.8,207.6L452.6,207.6ZM492.4,210L495.2,210L495.1,207.6L492.2,207.6ZM501.2,210L512.8,210L512.7,207.6L501.1,207.6ZM170.6,208.2L173.4,208.2L173.5,205.7L170.7,205.7ZM190.4,208.2L197.6,208.2L197.7,205.7L190.5,205.7ZM289.6,208.2L321,208.2L321,205.7L289.6,205.7ZM322.6,208.2L325.4,208.2L325.4,205.7L322.6,205.7ZM335.8,208.2L340.8,208.2L340.8,205.7L335.8,205.7ZM349,208.2L358.5,208.2L358.4,205.7L349,205.7ZM362.3,208.2L367.3,208.2L367.2,205.7L362.2,205.7ZM368.9,208.2L378.3,208.2L378.2,205.7L368.8,205.7ZM379.9,208.2L382.7,208.2L382.6,205.7L379.8,205.7ZM450.4,208.2L459.8,208.2L459.7,205.7L450.3,205.7ZM492.2,208.2L497.3,208.2L497.1,205.7L492.1,205.7ZM498.9,208.2L512.7,208.2L512.5,205.7L498.7,205.7ZM168.5,206.3L171.3,206.3L171.5,203.8L168.7,203.8ZM289.6,206.3L316.6,206.3L316.6,203.8L289.6,203.8ZM335.8,206.3L343,206.3L343,203.8L335.8,203.8ZM344.6,206.3L358.4,206.3L358.4,203.8L344.6,203.8ZM368.8,206.3L382.6,206.3L382.6,203.8L368.8,203.8ZM412.8,206.3L417.8,206.3L417.7,203.8L412.7,203.8ZM450.3,206.3L461.9,206.3L461.7,203.8L450.1,203.8ZM492.1,206.3L512.5,206.3L512.3,203.8L491.9,203.8ZM166.5,204.4L173.7,204.4L173.8,201.9L166.7,201.9ZM289.6,204.4L296.8,204.4L296.8,201.9L289.6,201.9ZM300.6,204.4L314.4,204.4L314.4,201.9L300.6,201.9ZM329.2,204.4L362.8,204.4L362.7,201.9L329.2,201.9ZM366.6,204.4L382.6,204.4L382.5,201.9L366.5,201.9ZM450.1,204.4L461.7,204.4L461.6,201.9L450,201.9ZM491.9,204.4L512.3,204.4L512.1,201.9L491.7,201.9ZM287.5,202.5L296.8,202.5L296.9,200L287.5,200ZM300.6,202.5L314.4,202.5L314.4,200L300.7,200ZM324.8,202.5L384.7,202.5L384.6,200L324.8,200ZM401.7,202.5L408.9,202.5L408.7,200L401.6,200ZM447.8,202.5L461.6,202.5L461.4,200L447.6,200ZM489.5,202.5L501.1,202.5L500.9,200L489.3,200ZM502.7,202.5L512.1,202.5L511.8,200L502.5,200ZM531.2,202.5L534,202.5L533.8,200L531,200ZM289.7,200.6L314.4,200.6L314.4,198.1L289.7,198.1ZM335.8,200.6L384.6,200.6L384.5,198.1L335.7,198.1ZM388.4,200.6L391.2,200.6L391.1,198.1L388.3,198.1ZM401.6,200.6L408.7,200.6L408.6,198.1L401.4,198.1ZM447.6,200.6L463.6,200.6L463.4,198.1L447.5,198.1ZM484.9,200.6L487.7,200.6L487.5,198.1L484.7,198.1ZM489.3,200.6L498.7,200.6L498.4,198.1L489.1,198.1ZM509,200.6L511.8,200.6L511.6,198.1L508.8,198.1ZM531,200.6L533.8,200.6L533.5,198.1L530.7,198.1ZM145.1,198.7L152.3,198.7L152.6,196.2L145.4,196.2ZM298.5,198.7L301.3,198.7L301.3,196.2L298.5,196.2ZM302.9,198.7L312.2,198.7L312.2,196.2L302.9,196.2ZM346.7,198.7L358.2,198.7L358.2,196.2L346.6,196.2ZM362,198.7L384.5,198.7L384.4,196.2L362,196.2ZM386.1,198.7L388.9,198.7L388.8,196.2L386,196.2ZM401.4,198.7L406.4,198.7L406.3,196.2L401.3,196.2ZM412.4,198.7L415.2,198.7L415.1,196.2L412.3,196.2ZM447.5,198.7L450.2,198.7L450.1,196.2L447.3,196.2ZM456.2,198.7L465.6,198.7L465.4,196.2L456,196.2ZM484.7,198.7L496.2,198.7L496,196.2L484.5,196.2ZM528.5,198.7L535.7,198.7L535.4,196.2L528.2,196.2ZM141,196.8L152.6,196.8L152.8,194.3L141.3,194.3ZM289.8,196.8L292.6,196.8L292.6,194.3L289.8,194.3ZM302.9,196.8L307.9,196.8L307.9,194.3L302.9,194.3ZM311.6,196.8L314.4,196.8L314.4,194.3L311.7,194.3ZM348.8,196.8L353.8,196.8L353.8,194.3L348.8,194.3ZM362,196.8L364.7,196.8L364.7,194.3L361.9,194.3ZM372.9,196.8L382.2,196.8L382.1,194.3L372.8,194.3ZM386,196.8L388.8,196.8L388.7,194.3L385.9,194.3ZM394.8,196.8L397.6,196.8L397.4,194.3L394.7,194.3ZM401.3,196.8L404.1,196.8L404,194.3L401.2,194.3ZM412.3,196.8L415.1,196.8L414.9,194.3L412.1,194.3ZM447.3,196.8L452.2,196.8L452,194.3L447.1,194.3ZM456,196.8L465.4,196.8L465.1,194.3L455.8,194.3ZM484.5,196.8L496,196.8L495.7,194.3L484.2,194.3ZM530.4,196.8L535.4,196.8L535,194.3L530.1,194.3ZM141.3,194.9L146.3,194.9L146.5,192.5L141.6,192.5ZM193.7,194.9L205.2,194.9L205.4,192.5L193.9,192.5ZM289.8,194.9L292.6,194.9L292.6,192.5L289.9,192.5ZM316,194.9L318.8,194.9L318.8,192.5L316,192.5ZM348.8,194.9L351.6,194.9L351.5,192.5L348.7,192.5ZM359.7,194.9L364.7,194.9L364.6,192.5L359.6,192.5ZM372.8,194.9L375.6,194.9L375.5,192.5L372.7,192.5ZM377.2,194.9L380,194.9L379.9,192.5L377.1,192.5ZM381.5,194.9L388.7,194.9L388.6,192.5L381.5,192.5ZM392.5,194.9L397.4,194.9L397.3,192.5L392.4,192.5ZM401.2,194.9L404,194.9L403.9,192.5L401.1,192.5ZM447.1,194.9L452,194.9L451.8,192.5L446.9,192.5ZM455.8,194.9L467.3,194.9L467.1,192.5L455.6,192.5ZM490.8,194.9L497.9,194.9L497.6,192.5L490.5,192.5ZM532.3,194.9L535,194.9L534.7,192.5L531.9,192.5ZM139.4,193.1L146.5,193.1L146.8,190.6L139.7,190.6ZM165.6,193.1L168.3,193.1L168.6,190.6L165.8,190.6ZM191.7,193.1L201,193.1L201.2,190.6L191.9,190.6ZM289.9,193.1L297,193.1L297,190.6L289.9,190.6ZM316,193.1L318.8,193.1L318.8,190.6L316,190.6ZM357.5,193.1L364.6,193.1L364.5,190.6L357.4,190.6ZM366.2,193.1L371.1,193.1L371.1,190.6L366.1,190.6ZM398.9,193.1L401.7,193.1L401.5,190.6L398.8,190.6ZM418.5,193.1L421.3,193.1L421.1,190.6L418.4,190.6ZM444.7,193.1L469.3,193.1L469,190.6L444.5,190.6ZM494.9,193.1L499.8,193.1L499.5,190.6L494.6,190.6ZM141.8,191.2L149,191.2L149.3,188.7L142.1,188.7ZM161.4,191.2L168.6,191.2L168.8,188.7L161.7,188.7ZM191.9,191.2L196.9,191.2L197.1,188.7L192.1,188.7ZM289.9,191.2L294.9,191.2L294.9,188.7L290,188.7ZM348.7,191.2L351.5,191.2L351.4,188.7L348.6,188.7ZM370.5,191.2L373.2,191.2L373.2,188.7L370.4,188.7ZM374.8,191.2L377.6,191.2L377.5,188.7L374.7,188.7ZM387.9,191.2L397.2,191.2L397.1,188.7L387.8,188.7ZM444.5,191.2L469,191.2L468.8,188.7L444.3,188.7ZM492.4,191.2L503.9,191.2L503.6,188.7L492.1,188.7ZM140,189.3L151.4,189.3L151.7,186.8L140.3,186.8ZM161.7,189.3L168.8,189.3L169.1,186.8L162,186.8ZM183.4,189.3L188.4,189.3L188.6,186.8L183.7,186.8ZM290,189.3L294.9,189.3L294.9,186.8L290,186.8ZM348.6,189.3L351.4,189.3L351.4,186.8L348.6,186.8ZM370.4,189.3L373.2,189.3L373.1,186.8L370.3,186.8ZM374.7,189.3L377.5,189.3L377.4,186.8L374.6,186.8ZM387.8,189.3L397.1,189.3L396.9,186.8L387.7,186.8ZM398.6,189.3L401.4,189.3L401.3,186.8L398.5,186.8ZM439.9,189.3L468.8,189.3L468.6,186.8L439.7,186.8ZM494.3,189.3L501.4,189.3L501.1,186.8L494,186.8ZM138.1,187.4L151.7,187.4L152,184.9L138.4,184.9ZM181.5,187.4L186.4,187.4L186.7,184.9L181.7,184.9ZM290,187.4L294.9,187.4L295,184.9L290.1,184.9ZM348.6,187.4L353.5,187.4L353.5,184.9L348.5,184.9ZM372.5,187.4L379.6,187.4L379.5,184.9L372.4,184.9ZM387.7,187.4L392.6,187.4L392.5,184.9L387.5,184.9ZM437.6,187.4L466.4,187.4L466.1,184.9L437.4,184.9ZM494,187.4L505.5,187.4L505.1,184.9L493.7,184.9ZM136.2,185.5L152,185.5L152.3,183L136.6,183ZM175.2,185.5L178,185.5L178.2,183L175.5,183ZM179.6,185.5L182.3,185.5L182.6,183L179.8,183ZM292.2,185.5L295,185.5L295,183L292.3,183ZM348.5,185.5L353.5,185.5L353.4,183L348.5,183ZM437.4,185.5L464,185.5L463.7,183L437.2,183ZM495.9,185.5L500.8,185.5L500.5,183L495.6,183ZM134.4,183.6L152.3,183.6L152.6,181.1L134.8,181.1ZM296.6,183.6L301.5,183.6L301.6,181.1L296.6,181.1ZM411.2,183.6L418.3,183.6L418.1,181.1L411,181.1ZM435,183.6L448.6,183.6L448.3,181.1L434.8,181.1ZM452.3,183.6L459.4,183.6L459.1,181.1L452,181.1ZM461,183.6L463.7,183.6L463.4,181.1L460.7,181.1ZM136.9,181.7L152.6,181.7L153,179.2L137.3,179.2ZM177.9,181.7L180.7,181.7L181,179.2L178.2,179.2ZM296.6,181.7L301.6,181.7L301.6,179.2L296.7,179.2ZM311.7,181.7L314.5,181.7L314.5,179.2L311.8,179.2ZM404.6,181.7L407.3,181.7L407.1,179.2L404.4,179.2ZM413.2,181.7L416,181.7L415.8,179.2L413,179.2ZM441.3,181.7L457,181.7L456.7,179.2L441,179.2ZM133,179.8L153,179.8L153.3,177.4L133.4,177.4ZM178.2,179.8L181,179.8L181.3,177.4L178.5,177.4ZM296.7,179.8L303.7,179.8L303.8,177.4L296.7,177.4ZM404.4,179.8L409.3,179.8L409.1,177.4L404.2,177.4ZM443.2,179.8L458.8,179.8L458.5,177.4L442.9,177.4ZM133.4,178L144.7,178L145.2,175.5L133.8,175.5ZM148.4,178L153.3,178L153.7,175.5L148.9,175.5ZM176.4,178L179.1,178L179.5,175.5L176.7,175.5ZM404.2,178L406.9,178L406.7,175.5L404,175.5ZM442.9,178L449.9,178L449.6,175.5L442.6,175.5ZM453.6,178L458.5,178L458.2,175.5L453.3,175.5ZM131.7,176.1L143,176.1L143.5,173.6L132.2,173.6ZM397.6,176.1L402.4,176.1L402.2,173.6L397.4,173.6ZM406.1,176.1L408.9,176.1L408.6,173.6L405.9,173.6ZM444.7,176.1L447.5,176.1L447.1,173.6L444.4,173.6ZM130,174.2L141.3,174.2L141.8,171.7L130.6,171.7ZM155.7,174.2L158.4,174.2L158.9,171.7L156.2,171.7ZM393.1,174.2L402.2,174.2L402,171.7L392.9,171.7ZM444.4,174.2L451.4,174.2L451,171.7L444.1,171.7ZM128.4,172.3L139.7,172.3L140.2,169.8L129,169.8ZM386.5,172.3L389.2,172.3L389,169.8L386.3,169.8ZM390.7,172.3L402,172.3L401.8,169.8L390.5,169.8ZM437.7,172.3L451,172.3L450.7,169.8L437.3,169.8ZM120.5,170.4L123.2,170.4L123.8,167.9L121.1,167.9ZM126.9,170.4L138.1,170.4L138.7,167.9L127.5,167.9ZM386.3,170.4L389,170.4L388.8,167.9L386.1,167.9ZM437.3,170.4L450.7,170.4L450.3,167.9L436.9,167.9ZM121.1,168.5L132.3,168.5L132.9,166L121.8,166ZM436.9,168.5L443.9,168.5L443.5,166L436.6,166ZM119.6,166.6L132.9,166.6L133.6,164.1L120.3,164.1ZM438.7,166.6L443.5,166.6L443.1,164.1L438.3,164.1ZM120.3,164.7L129.4,164.7L130,162.3L121,162.3ZM436.2,164.7L445.2,164.7L444.7,162.3L435.7,162.3ZM435.7,162.9L442.6,162.9L442.2,160.4L435.3,160.4ZM431.1,161L435.9,161L435.5,158.5L430.7,158.5Z"/>
<path fill="#f00000" d="M214.7,335.9L217.2,335.9L216.5,333.5L214,333.5ZM212.1,334.1L216.5,334.1L215.7,331.7L211.3,331.7ZM213.2,332.3L215.7,332.3L215,329.8L212.5,329.8ZM212.5,330.4L217,330.4L216.3,328L211.8,328ZM213.8,328.6L218.2,328.6L217.6,326.2L213.1,326.2ZM213.1,326.8L217.6,326.8L217,324.3L212.5,324.3ZM212.5,324.9L217,324.9L216.4,322.5L211.8,322.5ZM209.9,323.1L216.4,323.1L215.8,320.6L209.2,320.6ZM209.2,321.2L217.8,321.2L217.2,318.8L208.6,318.8ZM206.6,319.4L217.2,319.4L216.6,316.9L206,316.9ZM204,317.5L218.6,317.5L218.1,315.1L203.4,315.1ZM201.4,315.7L218.1,315.7L217.6,313.2L200.7,313.2ZM200.7,313.8L217.6,313.8L217,311.3L200.2,311.3ZM200.2,311.9L219.1,311.9L218.6,309.4L199.6,309.4ZM199.6,310L222.7,310L222.2,307.6L199,307.6ZM199,308.2L203.7,308.2L203.2,305.7L198.5,305.7ZM205.2,308.2L222.2,308.2L221.8,305.7L204.7,305.7ZM612.3,308.2L614.9,308.2L616.2,305.7L613.6,305.7ZM196.4,306.3L203.2,306.3L202.7,303.8L195.9,303.8ZM215,306.3L219.7,306.3L219.3,303.8L214.6,303.8ZM549.5,306.3L554.3,306.3L555.3,303.8L550.5,303.8ZM198,304.4L200.7,304.4L200.2,301.9L197.5,301.9ZM546.4,304.4L549,304.4L550,301.9L547.3,301.9ZM550.5,304.4L557.3,304.4L558.3,301.9L551.4,301.9ZM608.6,304.4L611.2,304.4L612.4,301.9L609.7,301.9ZM197.5,302.5L200.2,302.5L199.7,300L197,300ZM547.3,302.5L560.4,302.5L561.3,300L548.2,300ZM349.6,300.6L352.3,300.6L352.4,298.1L349.7,298.1ZM510.5,300.6L515.3,300.6L516.1,298.1L511.3,298.1ZM548.2,300.6L559.2,300.6L560.1,298.1L549,298.1ZM349.7,298.7L352.4,298.7L352.5,296.3L349.8,296.3ZM511.3,298.7L528.6,298.7L529.4,296.3L512,296.3ZM546.9,298.7L560.1,298.7L561,296.3L547.7,296.3ZM565.8,298.7L574.8,298.7L575.7,296.3L566.7,296.3ZM349.8,296.9L354.6,296.9L354.8,294.4L349.9,294.4ZM516.2,296.9L518.9,296.9L519.6,294.4L516.8,294.4ZM547.7,296.9L571.5,296.9L572.4,294.4L548.5,294.4ZM575.1,296.9L577.8,296.9L578.7,294.4L576,294.4ZM349.9,295L359,295L359.1,292.5L350,292.5ZM546.4,295L572.4,295L573.2,292.5L547.2,292.5ZM356.4,293.1L371.8,293.1L372,290.6L356.5,290.6ZM547.2,293.1L573.2,293.1L574,290.6L547.9,290.6ZM356.5,291.2L359.2,291.2L359.4,288.7L356.6,288.7ZM369.3,291.2L374.1,291.2L374.3,288.7L369.4,288.7ZM545.7,291.2L548.5,291.2L549.1,288.7L546.4,288.7ZM550,291.2L554.9,291.2L555.5,288.7L550.7,288.7ZM556.4,291.2L576.1,291.2L576.9,288.7L557.1,288.7ZM196.7,289.3L199.4,289.3L199.1,286.8L196.3,286.8ZM232.9,289.3L235.7,289.3L235.4,286.8L232.7,286.8ZM369.4,289.3L374.3,289.3L374.4,286.8L369.6,286.8ZM554.9,289.3L576.9,289.3L577.6,286.8L555.6,286.8ZM196.3,287.4L199.1,287.4L198.8,284.9L196,284.9ZM232.7,287.4L237.6,287.4L237.4,284.9L232.5,284.9ZM369.6,287.4L372.3,287.4L372.4,284.9L369.7,284.9ZM373.8,287.4L376.6,287.4L376.7,284.9L374,284.9ZM542.8,287.4L545.5,287.4L546.1,284.9L543.3,284.9ZM557.7,287.4L569,287.4L569.7,284.9L558.4,284.9ZM232.5,285.5L237.4,285.5L237.2,283L232.3,283ZM369.7,285.5L372.4,285.5L372.6,283L369.8,283ZM374,285.5L376.7,285.5L376.9,283L374.1,283ZM541.2,285.5L546.1,285.5L546.6,283L541.7,283ZM558.4,285.5L565.4,285.5L566,283L558.9,283ZM208.6,283.6L211.4,283.6L211.1,281.2L208.4,281.2ZM232.3,283.6L235,283.6L234.8,281.2L232.1,281.2ZM372,283.6L376.9,283.6L377,281.2L372.1,281.2ZM541.7,283.6L546.6,283.6L547.1,281.2L542.2,281.2ZM208.4,281.8L211.1,281.8L210.9,279.3L208.1,279.3ZM229.9,281.8L234.8,281.8L234.6,279.3L229.7,279.3ZM542.2,281.8L545,281.8L545.5,279.3L542.7,279.3ZM199.5,279.9L202.3,279.9L202,277.4L199.3,277.4ZM208.1,279.9L213.1,279.9L212.9,277.4L207.9,277.4ZM225.4,279.9L232.5,279.9L232.3,277.4L225.2,277.4ZM540.5,279.9L543.3,279.9L543.7,277.4L541,277.4ZM199.3,278L204.2,278L204,275.5L199.1,275.5ZM225.2,278L232.3,278L232.2,275.5L225.1,275.5ZM209.9,276.1L212.7,276.1L212.5,273.6L209.7,273.6ZM225.1,276.1L232.2,276.1L232,273.6L224.9,273.6ZM534.9,276.1L537.6,276.1L538,273.6L535.2,273.6ZM196.7,274.2L199.5,274.2L199.3,271.7L196.5,271.7ZM209.7,274.2L214.6,274.2L214.5,271.7L209.5,271.7ZM227.1,274.2L234.2,274.2L234,271.7L226.9,271.7ZM344.3,274.2L347,274.2L347.1,271.7L344.3,271.7ZM528.7,274.2L538,274.2L538.4,271.7L529.1,271.7ZM196.5,272.3L203.6,272.3L203.4,269.8L196.3,269.8ZM209.5,272.3L216.6,272.3L216.5,269.8L209.3,269.8ZM229.1,272.3L236.2,272.3L236.1,269.8L228.9,269.8ZM246.5,272.3L251.4,272.3L251.3,269.8L246.4,269.8ZM344.3,272.3L349.2,272.3L349.3,269.8L344.3,269.8ZM196.3,270.4L216.5,270.4L216.3,267.9L196.1,267.9ZM231.1,270.4L251.3,270.4L251.2,267.9L231,267.9ZM196.1,268.5L201,268.5L200.9,266.1L195.9,266.1ZM204.8,268.5L216.3,268.5L216.2,266.1L204.6,266.1ZM231,268.5L235.9,268.5L235.8,266.1L230.8,266.1ZM241.9,268.5L251.2,268.5L251.1,266.1L241.8,266.1ZM381.5,268.5L384.2,268.5L384.3,266.1L381.5,266.1ZM394.5,268.5L397.3,268.5L397.4,266.1L394.7,266.1ZM534.1,268.5L536.9,268.5L537.2,266.1L534.4,266.1ZM193.7,266.7L198.7,266.7L198.5,264.2L193.5,264.2ZM206.8,266.7L218.3,266.7L218.2,264.2L206.6,264.2ZM243.9,266.7L248.9,266.7L248.8,264.2L243.8,264.2ZM340,266.7L345,266.7L345.1,264.2L340.1,264.2ZM351,266.7L358.1,266.7L358.2,264.2L351,264.2ZM359.7,266.7L362.5,266.7L362.6,264.2L359.8,264.2ZM394.7,266.7L397.4,266.7L397.6,264.2L394.8,264.2ZM534.4,266.7L537.2,266.7L537.6,264.2L534.8,264.2ZM189.1,264.8L191.9,264.8L191.7,262.3L189,262.3ZM208.8,264.8L220.4,264.8L220.2,262.3L208.7,262.3ZM228.5,264.8L231.3,264.8L231.2,262.3L228.4,262.3ZM340.1,264.8L345.1,264.8L345.1,262.3L340.1,262.3ZM348.8,264.8L358.2,264.8L358.2,262.3L348.9,262.3ZM186.8,262.9L191.7,262.9L191.6,260.4L186.6,260.4ZM206.5,262.9L209.3,262.9L209.1,260.4L206.3,260.4ZM210.9,262.9L220.2,262.9L220.1,260.4L210.7,260.4ZM228.4,262.9L233.4,262.9L233.3,260.4L228.3,260.4ZM353.3,262.9L358.2,262.9L358.3,260.4L353.3,260.4ZM388.3,262.9L391.1,262.9L391.2,260.4L388.4,260.4ZM186.6,261L191.6,261L191.4,258.5L186.4,258.5ZM204.1,261L220.1,261L220,258.5L204,258.5ZM228.3,261L235.4,261L235.3,258.5L228.2,258.5ZM388.4,261L391.2,261L391.3,258.5L388.5,258.5ZM184.2,259.1L189.2,259.1L189.1,256.6L184.1,256.6ZM199.6,259.1L220,259.1L219.9,256.6L199.5,256.6ZM228.2,259.1L233.1,259.1L233,256.6L228,256.6ZM388.5,259.1L391.3,259.1L391.4,256.6L388.6,256.6ZM184.1,257.2L186.9,257.2L186.7,254.7L183.9,254.7ZM190.7,257.2L193.5,257.2L193.3,254.7L190.5,254.7ZM199.5,257.2L219.9,257.2L219.8,254.7L199.3,254.7ZM228,257.2L230.8,257.2L230.8,254.7L228,254.7ZM342.4,257.2L345.2,257.2L345.2,254.7L342.4,254.7ZM557.9,257.2L560.7,257.2L560.9,254.7L558.1,254.7ZM183.9,255.3L186.7,255.3L186.6,252.8L183.8,252.8ZM190.5,255.3L219.8,255.3L219.7,252.8L190.4,252.8ZM228,255.3L230.8,255.3L230.7,252.8L227.9,252.8ZM342.4,255.3L345.2,255.3L345.2,252.8L342.4,252.8ZM558.1,255.3L560.9,255.3L561.1,252.8L558.3,252.8ZM181.6,253.4L186.6,253.4L186.5,251L181.5,251ZM190.4,253.4L193.2,253.4L193.1,251L190.3,251ZM194.8,253.4L199.8,253.4L199.7,251L194.7,251ZM201.4,253.4L219.7,253.4L219.6,251L201.3,251ZM241.1,253.4L246.1,253.4L246,251L241,251ZM342.4,253.4L345.2,253.4L345.3,251L342.5,251ZM179.3,251.6L219.6,251.6L219.5,249.1L179.2,249.1ZM578.4,251.6L581.2,251.6L581.4,249.1L578.6,249.1ZM179.2,249.7L219.5,249.7L219.4,247.2L179.1,247.2ZM247.6,249.7L252.6,249.7L252.5,247.2L247.5,247.2ZM344.7,249.7L349.7,249.7L349.7,247.2L344.7,247.2ZM565.4,249.7L568.2,249.7L568.3,247.2L565.5,247.2ZM576.4,249.7L583.6,249.7L583.8,247.2L576.6,247.2ZM179.1,247.8L219.4,247.8L219.4,245.3L179,245.3ZM245.3,247.8L252.5,247.8L252.5,245.3L245.3,245.3ZM340.3,247.8L356.3,247.8L356.4,245.3L340.3,245.3ZM357.9,247.8L360.8,247.8L360.8,245.3L358,245.3ZM563.3,247.8L581.6,247.8L581.8,245.3L563.5,245.3ZM176.8,245.9L195,245.9L195,243.4L176.7,243.4ZM196.7,245.9L217.1,245.9L217.1,243.4L196.6,243.4ZM227.6,245.9L230.4,245.9L230.4,243.4L227.5,243.4ZM245.3,245.9L250.3,245.9L250.3,243.4L245.2,243.4ZM346.9,245.9L363,245.9L363,243.4L346.9,243.4ZM503.8,245.9L511,245.9L511.2,243.4L503.9,243.4ZM556.9,245.9L559.7,245.9L559.8,243.4L557,243.4ZM570.1,245.9L581.8,245.9L581.9,243.4L570.3,243.4ZM174.5,244L195,244L194.9,241.5L174.4,241.5ZM198.8,244L219.3,244L219.2,241.5L198.7,241.5ZM355.8,244L367.4,244L367.5,241.5L355.8,241.5ZM503.9,244L508.9,244L509,241.5L504,241.5ZM510.6,244L517.8,244L517.9,241.5L510.7,241.5ZM581.3,244L588.5,244L588.7,241.5L581.4,241.5ZM178.8,242.1L194.9,242.1L194.9,239.6L178.8,239.6ZM200.9,242.1L219.2,242.1L219.2,239.6L200.9,239.6ZM245.2,242.1L252.4,242.1L252.4,239.6L245.2,239.6ZM256.3,242.1L259.1,242.1L259,239.6L256.2,239.6ZM362.4,242.1L371.9,242.1L371.9,239.6L362.5,239.6ZM501.8,242.1L509,242.1L509.1,239.6L501.9,239.6ZM530.6,242.1L533.4,242.1L533.5,239.6L530.7,239.6ZM535,242.1L537.8,242.1L537.9,239.6L535.1,239.6ZM583.7,242.1L588.7,242.1L588.8,239.6L583.8,239.6ZM174.3,240.2L197.1,240.2L197,237.7L174.3,237.7ZM200.9,240.2L217,240.2L217,237.7L200.9,237.7ZM245.2,240.2L254.6,240.2L254.6,237.7L245.1,237.7ZM366.9,240.2L374.1,240.2L374.1,237.7L366.9,237.7ZM501.9,240.2L509.1,240.2L509.2,237.7L502,237.7ZM530.7,240.2L537.9,240.2L538,237.7L530.7,237.7ZM588.2,240.2L591,240.2L591.1,237.7L588.3,237.7ZM176.5,238.3L181.5,238.3L181.5,235.9L176.5,235.9ZM183.1,238.3L203.7,238.3L203.6,235.9L183.1,235.9ZM205.3,238.3L217,238.3L216.9,235.9L205.2,235.9ZM245.1,238.3L252.4,238.3L252.4,235.9L245.1,235.9ZM366.9,238.3L374.1,238.3L374.2,235.9L366.9,235.9ZM386.8,238.3L391.9,238.3L391.9,235.9L386.8,235.9ZM502,238.3L511.4,238.3L511.5,235.9L502,235.9ZM513,238.3L526.9,238.3L527,235.9L513.1,235.9ZM530.7,238.3L538,238.3L538,235.9L530.8,235.9ZM541.8,238.3L544.6,238.3L544.7,235.9L541.9,235.9ZM546.2,238.3L551.3,238.3L551.3,235.9L546.3,235.9ZM586.1,238.3L591.1,238.3L591.2,235.9L586.2,235.9ZM174.2,236.5L179.3,236.5L179.2,234L174.2,234ZM187.5,236.5L201.4,236.5L201.4,234L187.5,234ZM216.3,236.5L219.1,236.5L219.1,234L216.3,234ZM369.1,236.5L376.4,236.5L376.4,234L369.1,234ZM386.8,236.5L391.9,236.5L391.9,234L386.9,234ZM502,236.5L511.5,236.5L511.5,234L502.1,234ZM513.1,236.5L515.9,236.5L515.9,234L513.1,234ZM519.7,236.5L527,236.5L527,234L519.8,234ZM528.6,236.5L535.8,236.5L535.9,234L528.6,234ZM552.9,236.5L555.8,236.5L555.8,234L553,234ZM176.4,234.6L179.2,234.6L179.2,232.1L176.4,232.1ZM196.4,234.6L201.4,234.6L201.4,232.1L196.3,232.1ZM216.3,234.6L219.1,234.6L219.1,232.1L216.3,232.1ZM369.1,234.6L376.4,234.6L376.4,232.1L369.2,232.1ZM384.6,234.6L391.9,234.6L391.9,232.1L384.7,232.1ZM506.5,234.6L509.3,234.6L509.3,232.1L506.5,232.1ZM550.8,234.6L558,234.6L558.1,232.1L550.8,232.1ZM216.3,232.7L219.1,232.7L219.1,230.2L216.3,230.2ZM369.2,232.7L376.4,232.7L376.4,230.2L369.2,230.2ZM389.1,232.7L391.9,232.7L391.9,230.2L389.1,230.2ZM526.5,232.7L529.3,232.7L529.3,230.2L526.5,230.2ZM550.8,232.7L558.1,232.7L558.1,230.2L550.9,230.2ZM559.7,232.7L562.5,232.7L562.5,230.2L559.7,230.2ZM216.3,230.8L219.1,230.8L219.1,228.3L216.3,228.3ZM369.2,230.8L374.2,230.8L374.2,228.3L369.2,228.3ZM378,230.8L383.1,230.8L383,228.3L378,228.3ZM526.5,230.8L529.3,230.8L529.3,228.3L526.5,228.3ZM216.3,228.9L219.1,228.9L219.1,226.4L216.3,226.4ZM371.4,228.9L376.4,228.9L376.4,226.4L371.4,226.4ZM378,228.9L383,228.9L383,226.4L378,226.4ZM389.1,228.9L391.9,228.9L391.9,226.4L389.1,226.4ZM526.5,228.9L531.5,228.9L531.5,226.4L526.4,226.4ZM539.8,228.9L542.6,228.9L542.5,226.4L539.7,226.4ZM216.3,227L219.1,227L219.1,224.5L216.3,224.5ZM371.4,227L383,227L383,224.5L371.3,224.5ZM384.6,227L396.3,227L396.3,224.5L384.6,224.5ZM526.4,227L529.2,227L529.2,224.5L526.4,224.5ZM216.3,225.1L219.1,225.1L219.2,222.7L216.4,222.7ZM371.3,225.1L383,225.1L383,222.7L371.3,222.7ZM384.6,225.1L398.5,225.1L398.5,222.7L384.6,222.7ZM524.2,225.1L529.2,225.1L529.1,222.7L524.1,222.7ZM216.4,223.3L219.2,223.3L219.2,220.8L216.4,220.8ZM371.3,223.3L383,223.3L383,220.8L371.3,220.8ZM384.6,223.3L398.5,223.3L398.5,220.8L384.6,220.8ZM521.9,223.3L529.1,223.3L529,220.8L521.8,220.8ZM212,221.4L219.2,221.4L219.2,218.9L212,218.9ZM371.3,221.4L385.2,221.4L385.2,218.9L371.3,218.9ZM386.8,221.4L396.3,221.4L396.2,218.9L386.8,218.9ZM404.5,221.4L407.3,221.4L407.3,218.9L404.5,218.9ZM486.4,221.4L489.2,221.4L489.1,218.9L486.3,218.9ZM521.8,221.4L526.8,221.4L526.7,218.9L521.7,218.9ZM212,219.5L217,219.5L217.1,217L212.1,217ZM371.3,219.5L378.5,219.5L378.5,217L371.3,217ZM380.1,219.5L385.2,219.5L385.1,217L380.1,217ZM386.8,219.5L398.4,219.5L398.4,217L386.7,217ZM404.5,219.5L407.3,219.5L407.2,217L404.4,217ZM459.8,219.5L464.8,219.5L464.7,217L459.7,217ZM539.4,219.5L544.4,219.5L544.3,217L539.3,217ZM212.1,217.6L217.1,217.6L217.1,215.1L212.1,215.1ZM371.3,217.6L378.5,217.6L378.5,215.1L371.2,215.1ZM380.1,217.6L382.9,217.6L382.9,215.1L380.1,215.1ZM386.7,217.6L407.2,217.6L407.2,215.1L386.7,215.1ZM459.7,217.6L462.5,217.6L462.4,215.1L459.6,215.1ZM534.9,217.6L544.3,217.6L544.2,215.1L534.8,215.1ZM214.3,215.7L217.1,215.7L217.2,213.2L214.4,213.2ZM373.4,215.7L378.5,215.7L378.4,213.2L373.4,213.2ZM380.1,215.7L382.9,215.7L382.8,213.2L380,213.2ZM386.7,215.7L407.2,215.7L407.1,213.2L386.7,213.2ZM534.8,215.7L544.2,215.7L544.1,213.2L534.6,213.2ZM212.2,213.8L215,213.8L215.1,211.3L212.3,211.3ZM373.4,213.8L376.2,213.8L376.2,211.3L373.4,211.3ZM382.2,213.8L407.1,213.8L407.1,211.3L382.2,211.3ZM505.9,213.8L508.7,213.8L508.6,211.3L505.8,211.3ZM536.8,213.8L539.6,213.8L539.5,211.3L536.7,211.3ZM203.4,211.9L206.2,211.9L206.3,209.4L203.5,209.4ZM210.1,211.9L212.9,211.9L213,209.4L210.1,209.4ZM293.9,211.9L296.7,211.9L296.7,209.4L293.9,209.4ZM382.2,211.9L409.3,211.9L409.2,209.4L382.1,209.4ZM534.5,211.9L537.3,211.9L537.1,209.4L534.3,209.4ZM538.9,211.9L541.7,211.9L541.5,209.4L538.7,209.4ZM293.9,210L296.7,210L296.8,207.6L294,207.6ZM382.1,210L387.2,210L387.1,207.6L382.1,207.6ZM388.8,210L411.4,210L411.3,207.6L388.7,207.6ZM459.3,210L462.1,210L462,207.6L459.2,207.6ZM534.3,210L541.5,210L541.3,207.6L534.1,207.6ZM382.1,208.2L395.9,208.2L395.8,205.7L382,205.7ZM406.3,208.2L411.3,208.2L411.2,205.7L406.2,205.7ZM459.2,208.2L462,208.2L461.9,205.7L459.1,205.7ZM534.1,208.2L541.3,208.2L541.1,205.7L533.9,205.7ZM170.7,206.3L173.5,206.3L173.7,203.8L170.9,203.8ZM382,206.3L400.2,206.3L400.2,203.8L382,203.8ZM533.9,206.3L541.1,206.3L540.9,203.8L533.7,203.8ZM296.2,204.4L301.2,204.4L301.2,201.9L296.2,201.9ZM382,204.4L393.6,204.4L393.5,201.9L381.9,201.9ZM395.2,204.4L404.6,204.4L404.5,201.9L395.1,201.9ZM531.5,204.4L538.7,204.4L538.4,201.9L531.2,201.9ZM296.2,202.5L301.2,202.5L301.3,200L296.3,200ZM384.1,202.5L393.5,202.5L393.4,200L384,200ZM397.3,202.5L402.3,202.5L402.2,200L397.2,200ZM529,202.5L531.8,202.5L531.6,200L528.8,200ZM384,200.6L389,200.6L388.9,198.1L383.9,198.1ZM399.4,200.6L402.2,200.6L402,198.1L399.3,198.1ZM528.8,200.6L531.6,200.6L531.3,198.1L528.5,198.1ZM383.9,198.7L386.7,198.7L386.6,196.2L383.8,196.2ZM392.7,198.7L397.7,198.7L397.6,196.2L392.6,196.2ZM399.3,198.7L402,198.7L401.9,196.2L399.1,196.2ZM449.6,198.7L456.8,198.7L456.6,196.2L449.5,196.2ZM364.1,196.8L371.3,196.8L371.2,194.3L364.1,194.3ZM381.6,196.8L386.6,196.8L386.5,194.3L381.5,194.3ZM392.6,196.8L395.4,196.8L395.3,194.3L392.5,194.3ZM397,196.8L401.9,196.8L401.8,194.3L396.8,194.3ZM451.6,196.8L456.6,196.8L456.4,194.3L451.4,194.3ZM136.9,194.9L141.9,194.9L142.2,192.5L137.2,192.5ZM364.1,194.9L373.4,194.9L373.3,192.5L364,192.5ZM375,194.9L377.8,194.9L377.7,192.5L374.9,192.5ZM396.8,194.9L401.8,194.9L401.7,192.5L396.7,192.5ZM451.4,194.9L456.4,194.9L456.2,192.5L451.2,192.5ZM45.6,193.1L50.6,193.1L51,190.6L46,190.6ZM135,193.1L140,193.1L140.3,190.6L135.3,190.6ZM370.5,193.1L377.7,193.1L377.6,190.6L370.5,190.6ZM394.5,193.1L399.5,193.1L399.4,190.6L394.4,190.6ZM46,191.2L48.8,191.2L49.3,188.7L46.5,188.7ZM135.3,191.2L142.4,191.2L142.7,188.7L135.6,188.7ZM372.6,191.2L375.4,191.2L375.3,188.7L372.6,188.7ZM396.6,191.2L399.4,191.2L399.2,188.7L396.5,188.7ZM135.6,189.3L140.6,189.3L140.9,186.8L135.9,186.8ZM372.6,189.3L375.3,189.3L375.2,186.8L372.5,186.8ZM396.5,189.3L399.2,189.3L399.1,186.8L396.3,186.8ZM133.7,187.4L138.7,187.4L139,184.9L134.1,184.9ZM127.6,185.5L130.3,185.5L130.7,183L127.9,183ZM134.1,185.5L136.8,185.5L137.2,183L134.4,183ZM125.7,183.6L128.5,183.6L128.9,181.1L126.1,181.1ZM132.2,183.6L135,183.6L135.4,181.1L132.6,181.1ZM124,181.7L128.9,181.7L129.3,179.2L124.4,179.2ZM132.6,181.7L137.5,181.7L137.9,179.2L133,179.2ZM124.4,179.8L127.1,179.8L127.6,177.4L124.8,177.4ZM130.8,179.8L133.6,179.8L134,177.4L131.2,177.4ZM129.1,178L134,178L134.4,175.5L129.6,175.5ZM121,176.1L132.3,176.1L132.8,173.6L121.5,173.6ZM121.5,174.2L126.4,174.2L126.9,171.7L122,171.7ZM127.9,174.2L130.6,174.2L131.2,171.7L128.4,171.7ZM122,172.3L124.8,172.3L125.3,169.8L122.6,169.8ZM126.3,172.3L129,172.3L129.6,169.8L126.9,169.8ZM122.6,170.4L125.3,170.4L126,167.9L123.2,167.9Z"/>
<path fill="#d22828" d="M222.1,310L224.7,310L224.3,307.6L221.6,307.6ZM203.1,308.2L205.8,308.2L205.3,305.7L202.6,305.7ZM221.6,308.2L226.4,308.2L225.9,305.7L221.2,305.7ZM202.6,306.3L215.6,306.3L215.2,303.8L202.1,303.8ZM219.1,306.3L225.9,306.3L225.5,303.8L218.7,303.8ZM200.1,304.4L225.5,304.4L225.2,301.9L199.6,301.9ZM606.5,304.4L609.2,304.4L610.3,301.9L607.7,301.9ZM199.6,302.5L229.3,302.5L229,300L199.1,300ZM607.7,302.5L610.3,302.5L611.5,300L608.8,300ZM197,300.6L231.1,300.6L230.7,298.1L196.6,298.1ZM544,300.6L548.8,300.6L549.6,298.1L544.8,298.1ZM606.7,300.6L609.4,300.6L610.5,298.1L607.8,298.1ZM198.7,298.7L232.8,298.7L232.5,296.3L198.2,296.3ZM544.8,298.7L547.5,298.7L548.3,296.3L545.6,296.3ZM198.2,296.9L232.5,296.9L232.2,294.4L197.8,294.4ZM512,296.9L516.8,296.9L517.4,294.4L512.6,294.4ZM518.3,296.9L533.6,296.9L534.3,294.4L519,294.4ZM543.5,296.9L548.3,296.9L549.1,294.4L544.3,294.4ZM570.9,296.9L575.7,296.9L576.6,294.4L571.8,294.4ZM197.8,295L234.3,295L234.1,292.5L197.4,292.5ZM347.8,295L350.5,295L350.6,292.5L347.9,292.5ZM514.7,295L547,295L547.8,292.5L515.4,292.5ZM571.8,295L578.7,295L579.6,292.5L572.6,292.5ZM197.4,293.1L236.2,293.1L235.9,290.6L197,290.6ZM347.9,293.1L357,293.1L357.1,290.6L348,290.6ZM513.2,293.1L547.8,293.1L548.5,290.6L513.9,290.6ZM572.6,293.1L579.6,293.1L580.4,290.6L573.4,290.6ZM197,291.2L235.9,291.2L235.7,288.7L196.7,288.7ZM348,291.2L357.1,291.2L357.2,288.7L348.1,288.7ZM358.6,291.2L369.9,291.2L370,288.7L358.8,288.7ZM513.9,291.2L546.3,291.2L547,288.7L514.4,288.7ZM547.9,291.2L550.6,291.2L551.3,288.7L548.5,288.7ZM554.3,291.2L557,291.2L557.7,288.7L554.9,288.7ZM575.5,291.2L582.5,291.2L583.3,288.7L576.3,288.7ZM198.8,289.3L233.5,289.3L233.3,286.8L198.5,286.8ZM346,289.3L370,289.3L370.2,286.8L346,286.8ZM514.4,289.3L555.5,289.3L556.2,286.8L515,286.8ZM576.3,289.3L583.3,289.3L584,286.8L577,286.8ZM198.5,287.4L233.3,287.4L233.1,284.9L198.2,284.9ZM346,287.4L370.2,287.4L370.3,284.9L346.1,284.9ZM512.8,287.4L543.4,287.4L543.9,284.9L513.3,284.9ZM544.9,287.4L558.3,287.4L559,284.9L545.5,284.9ZM568.4,287.4L584,287.4L584.7,284.9L569.1,284.9ZM196,285.5L233.1,285.5L232.9,283L195.7,283ZM344,285.5L370.3,285.5L370.4,283L344,283ZM513.3,285.5L541.8,285.5L542.3,283L513.8,283ZM545.5,285.5L559,285.5L559.5,283L546,283ZM564.8,285.5L582.5,285.5L583.2,283L565.4,283ZM197.9,283.6L209.2,283.6L209,281.2L197.6,281.2ZM210.8,283.6L232.9,283.6L232.7,281.2L210.5,281.2ZM344,283.6L372.6,283.6L372.7,281.2L344.1,281.2ZM513.8,283.6L542.3,283.6L542.8,281.2L514.2,281.2ZM546,283.6L583.2,283.6L583.8,281.2L546.5,281.2ZM197.6,281.8L209,281.8L208.7,279.3L197.3,279.3ZM210.5,281.8L230.5,281.8L230.3,279.3L210.3,279.3ZM344.1,281.8L379.1,281.8L379.3,279.3L344.1,279.3ZM393.6,281.8L400.7,281.8L400.8,279.3L393.8,279.3ZM514.2,281.8L542.8,281.8L543.3,279.3L514.6,279.3ZM544.4,281.8L583.8,281.8L584.3,279.3L544.9,279.3ZM197.3,279.9L200.1,279.9L199.9,277.4L197.1,277.4ZM201.7,279.9L208.7,279.9L208.5,277.4L201.4,277.4ZM212.5,279.9L226,279.9L225.8,277.4L212.3,277.4ZM344.1,279.9L381.4,279.9L381.5,277.4L344.2,277.4ZM393.8,279.9L403,279.9L403.2,277.4L393.9,277.4ZM514.6,279.9L541.1,279.9L541.6,277.4L515,277.4ZM542.7,279.9L582.2,279.9L582.7,277.4L543.1,277.4ZM197.1,278L199.9,278L199.7,275.5L196.9,275.5ZM203.6,278L225.8,278L225.7,275.5L203.4,275.5ZM344.2,278L381.5,278L381.6,275.5L344.2,275.5ZM393.9,278L403.2,278L403.3,275.5L394,275.5ZM515,278L582.7,278L583.1,275.5L515.4,275.5ZM196.9,276.1L210.5,276.1L210.3,273.6L196.7,273.6ZM212.1,276.1L225.7,276.1L225.5,273.6L211.9,273.6ZM342,276.1L381.6,276.1L381.8,273.6L342.1,273.6ZM394,276.1L403.3,276.1L403.5,273.6L394.2,273.6ZM515.4,276.1L535.5,276.1L535.8,273.6L515.7,273.6ZM537,276.1L581,276.1L581.4,273.6L537.4,273.6ZM198.9,274.2L210.3,274.2L210.1,271.7L198.7,271.7ZM214,274.2L227.7,274.2L227.5,271.7L213.9,271.7ZM342.1,274.2L344.9,274.2L344.9,271.7L342.1,271.7ZM346.4,274.2L381.8,274.2L381.9,271.7L346.5,271.7ZM394.2,274.2L405.6,274.2L405.8,271.7L394.3,271.7ZM517.9,274.2L529.3,274.2L529.7,271.7L518.2,271.7ZM537.4,274.2L579.2,274.2L579.7,271.7L537.8,271.7ZM203,272.3L210.1,272.3L209.9,269.8L202.8,269.8ZM216,272.3L229.7,272.3L229.5,269.8L215.9,269.8ZM342.1,272.3L344.9,272.3L344.9,269.8L342.2,269.8ZM348.6,272.3L381.9,272.3L382,269.8L348.7,269.8ZM394.3,272.3L405.8,272.3L405.9,269.8L394.4,269.8ZM522.6,272.3L579.7,272.3L580.1,269.8L522.9,269.8ZM215.9,270.4L231.7,270.4L231.6,267.9L215.7,267.9ZM340,270.4L382,270.4L382.1,267.9L340,267.9ZM396.6,270.4L405.9,270.4L406,267.9L396.7,267.9ZM529.4,270.4L577.9,270.4L578.3,267.9L529.7,267.9ZM215.7,268.5L231.6,268.5L231.4,266.1L215.6,266.1ZM235.3,268.5L242.5,268.5L242.4,266.1L235.2,266.1ZM340,268.5L382.1,268.5L382.1,266.1L340,266.1ZM396.7,268.5L406,268.5L406.2,266.1L396.8,266.1ZM531.9,268.5L534.7,268.5L535,266.1L532.3,266.1ZM536.3,268.5L576.1,268.5L576.5,266.1L536.6,266.1ZM627.9,268.5L632.8,268.5L633.3,266.1L628.4,266.1ZM217.7,266.7L244.5,266.7L244.4,264.2L217.6,264.2ZM248.3,266.7L253.3,266.7L253.2,264.2L248.2,264.2ZM344.4,266.7L351.6,266.7L351.6,264.2L344.5,264.2ZM357.5,266.7L360.3,266.7L360.4,264.2L357.6,264.2ZM361.9,266.7L388.7,266.7L388.8,264.2L362,264.2ZM396.8,266.7L408.4,266.7L408.5,264.2L397,264.2ZM532.3,266.7L535,266.7L535.4,264.2L532.6,264.2ZM536.6,266.7L576.5,266.7L576.9,264.2L537,264.2ZM628.4,266.7L633.3,266.7L633.8,264.2L628.8,264.2ZM219.8,264.8L229.1,264.8L229,262.3L219.6,262.3ZM230.7,264.8L253.2,264.8L253.1,262.3L230.6,262.3ZM344.5,264.8L349.4,264.8L349.5,262.3L344.5,262.3ZM357.6,264.8L391,264.8L391.1,262.3L357.6,262.3ZM397,264.8L408.5,264.8L408.6,262.3L397.1,262.3ZM534.8,264.8L561.6,264.8L562,262.3L535.1,262.3ZM565.4,264.8L574.7,264.8L575.1,262.3L565.7,262.3ZM631,264.8L633.8,264.8L634.3,262.3L631.5,262.3ZM219.6,262.9L229,262.9L228.9,260.4L219.5,260.4ZM232.8,262.9L253.1,262.9L253,260.4L232.7,260.4ZM340.1,262.9L353.9,262.9L353.9,260.4L340.1,260.4ZM357.6,262.9L388.9,262.9L389,260.4L357.7,260.4ZM397.1,262.9L408.6,262.9L408.7,260.4L397.2,260.4ZM535.1,262.9L559.8,262.9L560.1,260.4L535.4,260.4ZM565.7,262.9L575.1,262.9L575.5,260.4L566.1,260.4ZM219.5,261L228.9,261L228.8,258.5L219.4,258.5ZM234.8,261L253,261L252.9,258.5L234.7,258.5ZM340.1,261L389,261L389.1,258.5L340.2,258.5ZM401.6,261L408.7,261L408.9,258.5L401.7,258.5ZM537.6,261L560.1,261L560.4,258.5L537.8,258.5ZM566.1,261L575.5,261L575.8,258.5L566.4,258.5ZM219.4,259.1L228.8,259.1L228.6,256.6L219.3,256.6ZM232.5,259.1L252.9,259.1L252.8,256.6L232.4,256.6ZM340.2,259.1L389.1,259.1L389.2,256.6L340.2,256.6ZM401.7,259.1L408.9,259.1L409,256.6L401.8,256.6ZM540,259.1L542.8,259.1L543.1,256.6L540.3,256.6ZM546.6,259.1L560.4,259.1L560.7,256.6L546.9,256.6ZM566.4,259.1L573.6,259.1L573.9,256.6L566.7,256.6ZM219.3,257.2L228.6,257.2L228.6,254.7L219.2,254.7ZM230.2,257.2L252.8,257.2L252.8,254.7L230.2,254.7ZM344.6,257.2L391.4,257.2L391.4,254.7L344.6,254.7ZM404,257.2L406.8,257.2L406.8,254.7L404,254.7ZM546.9,257.2L558.5,257.2L558.7,254.7L547.1,254.7ZM568.9,257.2L573.9,257.2L574.1,254.7L569.1,254.7ZM181.7,255.3L184.5,255.3L184.4,252.8L181.6,252.8ZM219.2,255.3L228.6,255.3L228.5,252.8L219.1,252.8ZM230.2,255.3L255,255.3L254.9,252.8L230.1,252.8ZM344.6,255.3L391.4,255.3L391.5,252.8L344.6,252.8ZM549.3,255.3L558.7,255.3L558.9,252.8L549.5,252.8ZM569.1,255.3L571.9,255.3L572.2,252.8L569.4,252.8ZM192.6,253.4L195.4,253.4L195.3,251L192.5,251ZM219.1,253.4L241.7,253.4L241.6,251L219,251ZM245.5,253.4L257.1,253.4L257.1,251L245.4,251ZM344.6,253.4L391.5,253.4L391.6,251L344.7,251ZM569.4,253.4L572.2,253.4L572.4,251L569.6,251ZM219,251.6L257.1,251.6L257,249.1L218.9,249.1ZM342.5,251.6L391.6,251.6L391.6,249.1L342.5,249.1ZM529.9,251.6L532.7,251.6L532.9,249.1L530.1,249.1ZM536.5,251.6L541.5,251.6L541.7,249.1L536.7,249.1ZM580.6,251.6L585.6,251.6L585.8,249.1L580.8,249.1ZM218.9,249.7L248.2,249.7L248.1,247.2L218.8,247.2ZM252,249.7L259.2,249.7L259.2,247.2L251.9,247.2ZM342.5,249.7L345.3,249.7L345.3,247.2L342.5,247.2ZM349.1,249.7L391.6,249.7L391.7,247.2L349.1,247.2ZM519,249.7L537.3,249.7L537.4,247.2L519.2,247.2ZM538.9,249.7L543.9,249.7L544.1,247.2L539,247.2ZM567.6,249.7L572.6,249.7L572.8,247.2L567.7,247.2ZM218.8,247.8L245.9,247.8L245.9,245.3L218.8,245.3ZM251.9,247.8L259.2,247.8L259.1,245.3L251.9,245.3ZM355.7,247.8L358.5,247.8L358.6,245.3L355.8,245.3ZM360.2,247.8L389.5,247.8L389.5,245.3L360.2,245.3ZM510.3,247.8L537.4,247.8L537.6,245.3L510.4,245.3ZM550.1,247.8L552.9,247.8L553,245.3L550.2,245.3ZM581,247.8L583.8,247.8L584,245.3L581.2,245.3ZM194.4,245.9L197.3,245.9L197.2,243.4L194.4,243.4ZM216.5,245.9L228.2,245.9L228.1,243.4L216.5,243.4ZM229.8,245.9L245.9,245.9L245.8,243.4L229.8,243.4ZM249.7,245.9L259.1,245.9L259.1,243.4L249.7,243.4ZM362.4,245.9L389.5,245.9L389.5,243.4L362.4,243.4ZM510.4,245.9L522.1,245.9L522.2,243.4L510.6,243.4ZM550.2,245.9L553,245.9L553.2,243.4L550.4,243.4ZM592.2,245.9L595,245.9L595.2,243.4L592.4,243.4ZM194.4,244L199.4,244L199.3,241.5L194.3,241.5ZM218.7,244L259.1,244L259.1,241.5L218.6,241.5ZM366.8,244L389.5,244L389.6,241.5L366.9,241.5ZM508.3,244L511.2,244L511.3,241.5L508.4,241.5ZM592.4,244L595.2,244L595.3,241.5L592.5,241.5ZM174.4,242.1L179.4,242.1L179.4,239.6L174.3,239.6ZM194.3,242.1L201.5,242.1L201.5,239.6L194.3,239.6ZM218.6,242.1L245.8,242.1L245.8,239.6L218.6,239.6ZM251.8,242.1L256.9,242.1L256.8,239.6L251.8,239.6ZM371.3,242.1L389.6,242.1L389.6,239.6L371.3,239.6ZM592.5,242.1L595.3,242.1L595.4,239.6L592.6,239.6ZM196.5,240.2L201.5,240.2L201.5,237.7L196.4,237.7ZM216.4,240.2L245.8,240.2L245.7,237.7L216.4,237.7ZM373.5,240.2L391.8,240.2L391.9,237.7L373.5,237.7ZM521.8,240.2L526.8,240.2L526.9,237.7L521.9,237.7ZM216.4,238.3L245.7,238.3L245.7,235.9L216.3,235.9ZM373.5,238.3L387.4,238.3L387.4,235.9L373.6,235.9ZM544,238.3L546.8,238.3L546.9,235.9L544.1,235.9ZM218.5,236.5L245.7,236.5L245.7,234L218.5,234ZM375.8,236.5L387.4,236.5L387.5,234L375.8,234ZM391.3,236.5L394.1,236.5L394.1,234L391.3,234ZM218.5,234.6L239,234.6L239,232.1L218.5,232.1ZM375.8,234.6L385.2,234.6L385.3,232.1L375.8,232.1ZM391.3,234.6L394.1,234.6L394.1,232.1L391.3,232.1ZM530.9,234.6L538.1,234.6L538.1,232.1L530.9,232.1ZM218.5,232.7L236.8,232.7L236.8,230.2L218.5,230.2ZM375.8,232.7L389.7,232.7L389.7,230.2L375.8,230.2ZM391.3,232.7L396.3,232.7L396.4,230.2L391.3,230.2ZM530.9,232.7L538.1,232.7L538.2,230.2L530.9,230.2ZM544.2,232.7L547,232.7L547,230.2L544.2,230.2ZM218.5,230.8L232.4,230.8L232.4,228.3L218.5,228.3ZM373.6,230.8L378.6,230.8L378.6,228.3L373.6,228.3ZM382.5,230.8L398.6,230.8L398.6,228.3L382.4,228.3ZM530.9,230.8L540.4,230.8L540.4,228.3L530.9,228.3ZM544.2,230.8L549.3,230.8L549.2,228.3L544.2,228.3ZM218.5,228.9L232.4,228.9L232.4,226.4L218.5,226.4ZM375.8,228.9L378.6,228.9L378.6,226.4L375.8,226.4ZM382.4,228.9L389.7,228.9L389.7,226.4L382.4,226.4ZM391.3,228.9L400.8,228.9L400.8,226.4L391.3,226.4ZM533.1,228.9L540.4,228.9L540.3,226.4L533.1,226.4ZM544.2,228.9L549.2,228.9L549.2,226.4L544.1,226.4ZM218.5,227L232.4,227L232.4,224.5L218.5,224.5ZM382.4,227L385.2,227L385.2,224.5L382.4,224.5ZM395.7,227L403,227L403,224.5L395.7,224.5ZM544.1,227L547,227L546.9,224.5L544.1,224.5ZM218.5,225.1L230.2,225.1L230.2,222.7L218.6,222.7ZM382.4,225.1L385.2,225.1L385.2,222.7L382.4,222.7ZM397.9,225.1L403,225.1L402.9,222.7L397.9,222.7ZM218.6,223.3L230.2,223.3L230.3,220.8L218.6,220.8ZM382.4,223.3L385.2,223.3L385.2,220.8L382.4,220.8ZM397.9,223.3L405.1,223.3L405.1,220.8L397.9,220.8ZM218.6,221.4L228.1,221.4L228.1,218.9L218.6,218.9ZM384.6,221.4L387.4,221.4L387.4,218.9L384.6,218.9ZM395.7,221.4L405.1,221.4L405.1,218.9L395.6,218.9ZM526.2,221.4L531.3,221.4L531.2,218.9L526.1,218.9ZM216.4,219.5L223.7,219.5L223.7,217L216.5,217ZM384.6,219.5L387.4,219.5L387.3,217L384.5,217ZM397.8,219.5L405.1,219.5L405,217L397.8,217ZM523.9,219.5L531.2,219.5L531.1,217L523.8,217ZM382.3,217.6L387.3,217.6L387.3,215.1L382.3,215.1ZM406.6,217.6L409.4,217.6L409.4,215.1L406.6,215.1ZM523.8,217.6L526.6,217.6L526.5,215.1L523.7,215.1ZM382.3,215.7L387.3,215.7L387.3,213.2L382.2,213.2ZM406.6,215.7L409.4,215.7L409.3,213.2L406.5,213.2ZM406.5,213.8L409.3,213.8L409.3,211.3L406.5,211.3ZM525.8,213.8L528.6,213.8L528.4,211.3L525.6,211.3ZM539,213.8L544.1,213.8L543.9,211.3L538.9,211.3ZM408.7,211.9L411.5,211.9L411.4,209.4L408.6,209.4ZM525.6,211.9L530.7,211.9L530.5,209.4L525.5,209.4ZM536.7,211.9L539.5,211.9L539.3,209.4L536.5,209.4ZM386.6,210L389.4,210L389.3,207.6L386.5,207.6ZM527.7,210L530.5,210L530.3,207.6L527.5,207.6ZM392.9,202.5L397.9,202.5L397.8,200L392.8,200ZM392.8,200.6L400,200.6L399.9,198.1L392.7,198.1ZM397.1,198.7L399.9,198.7L399.7,196.2L397,196.2ZM127.9,183.6L130.7,183.6L131,181.1L128.3,181.1ZM126.5,179.8L129.3,179.8L129.7,177.4L127,177.4ZM122.7,178L127.6,178L128,175.5L123.1,175.5Z"/>
</g>
<g clip-path="url(#g)"><path d="M15.3,273.2L15,273.1L14.9,272.9L15,272.8L15.4,272.9ZM58.2,266L58,265.6L58.2,265.4L58.8,265.7L58.7,266ZM17.5,258.5L17.3,258.3L17.6,258.1L18.3,258.3L18.1,258.5ZM16.8,258L16,257.9L15.8,257.6L16.2,257.4L17.2,257.6ZM158.5,231.3L158.5,232.5L157.6,232.5L157.4,231.7ZM49.6,191L48.2,192.5L47.7,191.4L48.1,190ZM168.4,190L168.3,189.9L168.3,189.5L168.4,189.2L168.5,189.5ZM47.4,189.1L47.3,188.7L47.7,188.5L48.4,188.8L48,189.1ZM44.9,187.2L45.6,187.8L45.1,188ZM42.9,186.7L42.5,186.7L42.5,186.3L42.8,186.1L43.2,186.4ZM127.8,92.9L129.9,93.3L132,93.6L134,93.9L136.2,94.3L139.1,94.9L141,95.5L142.8,96.1L146,95.6L149.2,95.1L154.2,94.1L157.5,93.4L159.4,95.1L162.3,94.9L165.1,94.6L166.9,95.3L168.8,96L169.7,97.7L172.1,97.8L174.6,98L178.8,97.7L181.4,97.7L184,97.7L186.5,97.8L188.9,98L193.2,96.8L193.4,96.7L191.8,96.5L192.1,95.4L194.3,94.8L196.1,95.3L196.6,95.1L198.8,92.6L202.1,91L202.5,92.6L202.4,94.3L202.3,96L202.9,96.8L204.9,98.5L208.1,96.8L210.7,95.1L214.5,95.1L213.6,97.7L210.9,100.2L208,100.6L205.2,100.8L202.7,102.5L200.1,104.3L197.1,104.6L194.5,106.4L191.8,107.3L187.8,110L185.8,111.9L184.6,114.1L185.2,116.5L185.3,117.4L188.6,117.4L191.9,119.3L194.1,120.6L198,120.8L195.9,125L196.8,126.9L197.7,128.2L199.5,127.5L200.7,125L202.9,122.1L206.1,120.2L208.3,117.4L207.1,114.3L210.4,110.9L211.7,107.5L215.8,107.7L219.1,109.1L221.4,110L219.8,113.1L221.8,115L225.3,113.7L227.8,111.3L228.7,111.5L230.2,115.6L230.5,118.4L231.2,120.2L233.4,122.1L233.8,123.1L235.3,125L235.1,126.9L232,128.1L227.4,130.4L222.9,130.2L218.2,130.4L214.3,132.7L209.9,136.2L213.9,133.7L219,132.3L219.9,133.1L216.7,134.6L217.6,136.6L217.9,138.2L220,139L222.3,139.2L223.9,136.6L224.8,138.6L222.8,140.1L218.5,141.3L213.8,143.5L214.4,141.5L217.4,139.5L213.2,140.5L212.8,141.5L209.3,142.5L206.4,144.1L205.6,146.5L206.3,147.1L204.5,147.4L201.9,148L200.6,148.6L202.3,148.7L201.4,148.9L200,148.9L199.1,149.2L198.4,151.4L196.3,151.8L196.2,153.4L194.3,155.4L193.7,156.4L193.6,158.4L193.5,160L190.7,161.4L188.6,162.8L186.6,164L182.7,166.4L181.3,169.4L181.4,171.8L182,173.4L182.2,176.8L181.6,179.2L180.3,180.2L178.8,178.4L178.1,175.8L178.3,172.4L176.6,170.4L174,171L170.8,169.8L168.3,169.8L167.1,172L164.3,172L159.8,171L157.5,172L153.5,174.4L152,178.4L150.5,182.4L150,185.8L150.5,189.4L152.2,192.1L154.6,194.1L159,193.3L161.5,191.4L162.6,188.4L166.8,187.2L168.8,187.6L167.1,191.4L165.6,193.5L165,197.5L163.9,198.9L166.2,198.9L168.9,198.7L171.5,198.9L173.6,200.5L172.7,204.5L172,208.5L173.1,210.5L174.8,212.5L176.5,212.9L178.3,212.3L180.1,211.5L182.7,213.1L183.2,213.9L183.9,214.5L186.4,209.5L187.7,208.5L190.9,207.9L193.4,205.7L194,207.3L193,208.9L194.4,208.9L196.2,207.5L196.3,206.1L198.8,208.5L203.2,209.3L206.7,209.5L210.3,209.1L210.4,209.4L210.4,209.1L212.2,208.9L212,210.3L210.8,210.3L211.9,212.5L213.6,213.5L217,216.9L218.7,218.5L222.3,218.7L226.7,220.5L228.4,221.7L231,226.9L231,230.5L233.6,231.9L234.5,231.9L240.8,235.5L246.1,236.3L251.4,237.9L257.1,240.9L257.9,246.5L256.9,249.5L254.4,252.5L251.9,256.5L251.2,260.5L251.4,265.5L249.6,271.2L248.5,274.6L246.9,276.6L244.8,276.6L239.6,278.6L236,281.6L236.3,285.8L235.1,288.6L233.9,292.6L231.8,295L229.8,298.6L227.7,300.6L225.6,300.4L221.6,298.6L222,299.8L224.2,301.6L225.4,303.6L224.7,306.6L223.1,308L217.8,308.6L218.1,311.6L214,312.6L216.9,315.5L215.1,316.5L215.5,320.5L213,322.4L216.5,324.8L216.7,326.4L215.1,328.9L214.4,330.6L214.2,332.2L216.2,334.9L216.2,335.3L222.8,339.3L221.2,340L220.7,341.5L216.2,340.2L212.3,338.3L208.3,336L205.5,333.1L202.6,328.3L201.1,324.4L201.6,321.5L201.6,314.5L199.2,310.6L197.8,304.6L198.5,304.2L199,296.6L197.9,290.6L197.9,285.6L197.8,281.6L197.8,277.6L197.4,270.6L196.9,267.3L193.6,264.5L188,261.1L185.5,258.1L183.8,254.5L181,249.5L178.5,244.5L176.3,242.5L175.7,239.9L177.9,236.9L176.2,234.9L176.6,232.5L177.8,229.5L179.6,227.9L179.9,226.9L182.3,225.1L182.7,222.5L182.4,219.5L182.7,217.5L182.4,216.5L181.2,214.5L179.2,212.5L177.4,214.1L177.6,215.7L175.5,215.1L172.9,213.9L171.7,213.3L169.6,210.5L168.3,208.7L165.6,204.7L162.2,203.5L158.8,202.5L155.7,199.1L153.2,198.1L149.6,198.7L144.6,196.5L141.4,194.5L138.2,192.5L135.9,189.6L136.7,187.4L135.4,184L133.3,180.4L131.4,177.4L129.6,174.4L127.8,171.4L127.9,168.4L125.5,167L124.6,170.4L126.1,174.4L127.7,178.4L128.8,181.4L130,184L129,184.6L126.3,181L126.3,178.4L123.9,176.4L122.7,174.4L122.7,169.8L122.2,165.4L120.8,162.4L117.6,161.4L117.1,157.2L117.3,154.8L116.9,149.6L120,144.5L124,138.2L125.6,133.9L128,134.3L127.7,136L129.5,133.7L129.3,132.3L128,129.8L125.6,127.9L126.3,125L125.6,122.5L125.9,119.3L126.2,116.5L125.1,114.6L122.6,114.3L121.5,112.4L118.6,112.1L115.7,111.9L113.1,110.4L107.3,112.4L103.1,113.3L109.7,109.7L105.4,110.9L101.3,112.8L96.1,115.6L88.7,118.4L81.9,120.6L77.4,121.6L77.1,121.9L74.2,122.5L74.7,121.9L77,121.4L81.4,119.7L85.8,118.4L91.7,115.6L94.8,114.1L91.5,114.4L88.1,113.7L90.3,111.9L88.5,110.9L88.7,109.1L92.8,106.4L96.1,106L99.4,105.5L101.6,103.7L98.9,103.7L95.5,103.7L94.8,101.8L101.3,100.4L104.7,100.6L106.1,99.4L105.3,98L103.3,97.1L110.7,95.1L117,93.4L123.3,92.1L125.6,92.5ZM125.3,129.2L127.3,130.8L128,133.1L127.5,133.9L124.7,132.7L123.2,129.4ZM50.2,127.5L52.4,126.9L51.8,127.5L49.8,127.9ZM57.3,126.1L56.7,126.7L53.9,127.3L54.3,126.9ZM67.8,124L67.5,124.6L65,125.6L65.1,125.2ZM120.1,125.9L119.5,125.5L120.6,123.8L122,122.9L122.3,124ZM71.5,123.1L70.7,123.8L68,124.6L68.2,124.2ZM72.2,117.2L72,117.1L72.1,117L72.3,116.9L72.5,117ZM100.1,115.2L99.4,116.5L95.2,118L95.2,117ZM83.4,111.9L83.6,111.5L84.5,111.3L85.5,111.6L84.3,112ZM206.9,107.5L205,107.3L204.9,106.7L206.3,106.4L208.4,106.8ZM84.9,106L85,105.6L86.4,105.3L88.2,105.6L86.6,106.1ZM210.6,103.7L208.8,105.5L204.5,105.9L202.4,102.9L204.8,101.5L207.7,101.1ZM80.6,101.5L77.2,102.9L82.3,99.4L87.6,96L89.6,97.1L90.2,98.5L91.9,99.1L93.7,99.7L93.7,100.9L87.5,103.2L84.9,104.1L83.8,102ZM178.6,96.5L175.9,96.6L173.1,96.8L171.8,95.5L170.6,94.3L170.7,91.8L172.6,90.8L169.5,91.8L165.2,92.3L164.2,91L168.5,88.1L174.1,87L176.2,87.2L178.4,87.4L177.3,89.3L179,88.9L181.8,89.1L184.6,89.4L187.3,89.8L189.9,90.2L190.4,92.2L190.9,94.3L188.9,95.1L183.5,96.8L181.1,96.6ZM94.1,92.7L92.7,92.6L93,92.1L94.5,91.9L95.9,92.2ZM201.4,88.6L196.5,91L192.8,91L194.4,89.4L198.2,88.1ZM201,90.2L204.6,87.8L206.9,88.2L209.3,88.6L205.2,89.7ZM207.8,86.1L206.1,86.9L204.6,86.7L205,85.9L206.3,85.5L205.9,85.4L209.1,84.6L212.3,83.9L214.3,84.1L216.4,84.4L218.5,84.6L220.6,84.9L222.7,85.1L224.8,85.4L223.6,86.8L221.1,86.9L218.7,86.9L216.2,87L213.9,86.9L211.6,86.8L209.3,86.7ZM185,84.2L187.9,84.1L190.8,84L193.6,83.9L193.1,86.2L190.5,86.3L187.9,86.5L185.6,86.1L183.3,85.8L181,85.4ZM198,85.8L198.7,84.4L201.7,83.7L204.5,84.6L200.9,86.2ZM176.9,84.5L177.6,83.3L180.9,82.7L184.4,83.4L180.3,84.8ZM191.1,82.8L189.4,82.6L189.7,82L191.5,81.6L193.3,82ZM208.3,81.7L208.9,80.9L210.3,80.5L211.1,81L209.2,81.9ZM201.5,81.5L201.9,80.5L204.7,80L207.7,80.6L204.4,81.8ZM221.4,77.2L223.2,78.4L222.4,79.7L226.8,78.1L225.1,77.7L223.5,77.2L221.9,76.8L224.4,76.5L227,76.2L229.5,75.8L231.9,75.6L234.2,75.5L236.5,75.3L238.8,75.1L241.1,74.9L243.2,75L245.2,75L247.2,75.1L249.2,75.2L251.3,75.2L254.3,76L249.2,77.5L245.9,78.1L242.5,78.8L237.8,80.2L233.1,81.6L228.6,83.9L225.8,84.3L223.3,84.2L220.7,84.2L218.2,84.1L215.6,84L221.7,81.6L221,80.2L221.5,80L219.3,79.4L217.2,78.8L216.7,77.5L219,77.3ZM256.3,350.2L256.4,350.6L255,350.6L254.8,350.2ZM266,338.5L266.5,339.4L263.8,338.7L262.9,337.9ZM230.3,334.7L227.1,334.1L226.8,333.1L229.7,332.8L231.7,333.3ZM200.5,316.7L199.9,315.2L199.9,314.3L200.9,315.3L201.2,317.1ZM206.4,208.6L206.2,208.4L206.6,208.3L207.3,208.4L207,208.7ZM197.8,206.2L197.7,206L198,205.9L198.4,206L198.2,206.2ZM212.2,200.7L212.9,200.9L212.6,201.7L212.3,201.5ZM277.9,200.5L277.8,200.1L278.1,199.9L278.5,200.1L278.3,200.7ZM279.3,198.4L279.3,198.2L279.4,198L279.7,198.2L279.5,198.5ZM211.4,197.7L212.4,197.7L212.2,198.7L211.3,198.5ZM276.8,197.3L276.7,196.9L277,196.8L277.4,197L277.2,197.4ZM182.9,193.9L186.3,194.5L184.2,194.9ZM202.3,193.7L205,193.9L204.3,194.7L202.2,194.5ZM200.2,193.3L196.5,194.1L194.3,195.1L189.5,193.7L193.3,190.6L197.7,190.8ZM192.8,187.8L192.5,188.6L191.5,188.4L191.5,188ZM180.7,187L177.4,185.8L173.8,186.8L172.1,186.8L175.8,184.4L181.1,184.2L185.9,187.2L189.2,189L190.4,190L184.3,190.8L185.7,189.2ZM185.4,180.2L185.5,182L184.5,181.8L184.5,180.4ZM187.3,177.2L186.7,178.4L186.3,177.8L186,176.8ZM293.1,174.7L292.6,174.6L292.5,174.3L292.8,174.1L293.3,174.3ZM290.8,174L290.7,173.7L291.1,173.5L291.7,173.7L291.4,174.1ZM295.4,174L295.3,173.4L295.6,173L296,173.4L295.8,174.2ZM296.5,172.7L296.2,172.6L296.1,172.3L296.3,172.1L296.6,172.3ZM290.6,165.2L290.5,164.9L290.8,164.8L291.4,165L291.1,165.2ZM277.1,155L276.9,154.7L277.3,154.6L278.1,154.8L277.7,155ZM273.2,153.7L272.6,153.6L272.5,153.3L272.9,153.2L273.6,153.3ZM274.6,153.2L274.6,152.9L274.8,152.8L275.2,153L275,153.2ZM218.8,138.1L218.5,137.6L219.7,137.3L221.7,137.6L220.5,138.3ZM236.3,137.2L231.6,137L226.9,135.4L227.1,134.6L230.1,131.7L232.5,128.8L235.2,127.7L233.9,130.8L236.2,131.7L236.4,133.7L237.2,135.4ZM220.7,132.1L220.2,131.5L221.9,131.2L224.5,131.6L223,132.2ZM196.6,125.3L196.5,124.8L197.3,124.6L198.5,124.9L197.7,125.4ZM203,119.7L202.3,119.4L202.5,118.6L203.3,118.2L204,118.7ZM290.4,100.4L293,100.6L295.7,100.8L300.3,100.8L301.4,102.9L299.3,104.1L294,105.7L288.9,105L287.4,102ZM213.8,104.1L215.1,102L218.1,101.5L221,101.1L224.4,97.7L221.6,96L219,94.3L216.4,94.3L213.9,94.3L211,93.9L208.2,93.4L207.7,91L211.4,88.2L213.9,88.2L216.4,88.1L218.8,88.2L221.1,88.2L222,88.6L223.2,88.4L226.4,88.8L224.6,89.5L226,89.8L227.7,90.8L229.5,91.8L231.2,93L233,94.3L233.2,96L236,98L238.3,99.9L233.4,102.9L230.3,101.1L231.6,103.7L231.4,105.5L226.6,105.5L228,108.2L224.9,107.5L221.8,106.8L219.9,105.3L218.1,103.7ZM299.8,78.8L298.8,83.1L295.7,86.2L296.6,87.8L292.4,90.2L291.7,93.4L287.6,95.1L284.1,96.2L280.6,97.3L277.5,98.9L274.4,100.6L271.6,101.1L268.8,101.6L265.7,102.9L261.3,108.2L258.7,111.9L255.8,112.2L252.3,110L250.5,107.3L249.6,102.9L249.1,99.4L250.9,96.8L254.2,95.1L251.2,93.4L251.2,91L250.6,87.8L249.1,84.6L246.7,84.6L244.4,84.6L242,84.6L239.7,84.6L237.4,83.1L236.5,81.6L240.6,80.2L244.7,78.8L247.5,78.1L250.3,77.5L253,76.8L255.3,76.7L257.6,76.5L259.8,76.3L262.1,76.2L264.4,76L266.6,75.8L269,75.6L271.4,75.4L273.8,75.2L276.2,75L278.6,74.7L280.9,74.5L283.3,74.3L285.3,74.5L287.3,74.6L289.3,74.7L291.4,74.9L293.4,75L295.8,75.6L298.3,76.2L300.4,76.4L302.5,76.5L304.6,76.7L306.7,76.8L304.4,77.5L302.1,78.1ZM163.3,374L165.5,373.9L167.7,373.7L169.9,373.6L172.1,373.4L174.3,373.2L177,373.4L179.6,373.6L182.2,373.7L184.8,373.9L187.4,374L189.2,373.6L191.1,373.1L193,372.6L194.9,372.1L196.9,371.6L199.3,371.6L201.8,371.6L204.3,371.6L206.7,371.6L209.2,371.6L211.8,371.8L214.3,372L216.9,372.1L219.5,372.3L222.1,372.4L224.2,371.2L226.4,370L228.3,368.4L230.4,366.7L232,365L231.8,362.5L233,359.9L234.3,357.3L237.6,355.7L241.5,355.1L240.8,356.7L238.8,358.1L237,359.9L237.9,361.6L236.6,364.2L241.9,366.7L244.7,371.6L243.9,374L243.2,376.4L241.3,377L239.5,377.6L237.7,378.2L235.9,378.8L234.2,379.4L232.5,380.4L230.9,381.3L229.3,382.2L232.2,382.9L235.1,383.5L238,384.2L240.8,384.8L243.5,385.4L245.8,385.5L248,385.6L250.2,385.7L252.4,385.8L254.6,385.9L256.7,386L258.6,385.7L260.4,385.4L262.3,385.1L264.2,384.8L266.1,384.5L268,384.2L269.9,383.7L271.7,383.2L273.6,382.7L275.5,382.2L277.6,380.8L279.7,379.4L281.7,378.6L283.7,377.9L285.8,377.1L287.9,376.4L290.2,375.1L292.7,373.8L295.2,372.4L297.5,371.8L299.9,371.2L302.3,370.6L304.7,370L307.5,369.2L310.4,368.4L313.3,367.6L316.4,366.7L319.6,365.9L322.2,366.1L324.7,366.2L327.3,366.4L329.8,366.6L332.3,366.7L334.9,366.7L337.4,366.7L340,366.7L342.5,366.7L345.1,366.7L347.7,366.4L350.3,366.1L353,365.7L355.6,365.4L358.3,365L361.5,365L364.7,365L368.1,364.6L371.5,364.2L374.9,363.5L378.5,362.8L382.1,361.8L385.9,360.8L389.4,360.3L392.9,359.9L395.7,361L398.4,362.1L401.6,362.3L404.8,362.5L407.6,363.3L410.3,364.2L411.9,365.9L407.2,369.2L410.2,368.4L413.3,367.6L415.7,365.9L421.3,363.3L424.9,362.5L428.6,361.6L432.3,360.8L435.6,360.8L438.9,360.8L441.7,360.6L444.5,360.4L447.3,360.2L450.1,360.1L452.9,359.9L455.5,359.9L458.2,359.9L460.9,359.9L463.5,359.9L466.2,359.9L468.7,360.1L471.2,360.2L473.7,360.4L476.2,360.6L478.6,360.8L481.5,360.6L484.3,360.4L487.1,360.2L490,360.1L492.8,359.9L495.3,360.1L497.8,360.2L500.2,360.4L502.7,360.6L505.2,360.8L507.2,361.3L509.2,361.8L511.2,362.3L513.2,362.8L515.1,363.3L516.9,364L518.5,364.7L520.2,365.4L521.8,366.1L523.4,366.7L525.4,367.6L527.3,368.4L529.8,368.8L532.3,369.2L521.8,373.2L515.1,375.6L508.2,377.9L495.8,382.2L495.9,383.1L496,384.1L496.1,384.9L496.2,385.8L496.3,386.6L497.8,386.8L499.2,387L500.7,387.2L502.2,387.4L503.6,387.6L496,390.2L489.4,392L487.5,392L485.7,392L483.8,392L481.9,392L480,392L478.1,392L476.2,392L474.3,392L472.4,392L470.6,392L468.7,392L466.8,392L464.9,392L463,392L461.1,392L459.2,392L457.3,392L455.5,392L453.6,392L451.7,392L449.8,392L447.9,392L446,392L444.1,392L442.3,392L440.4,392L438.5,392L436.6,392L434.7,392L432.8,392L430.9,392L429,392L427.2,392L425.3,392L423.4,392L421.5,392L419.6,392L417.7,392L415.8,392L413.9,392L412.1,392L410.2,392L408.3,392L406.4,392L404.5,392L402.6,392L400.7,392L398.9,392L397,392L395.1,392L393.2,392L391.3,392L389.4,392L387.5,392L385.6,392L383.8,392L381.9,392L380,392L378.1,392L376.2,392L374.3,392L372.4,392L370.5,392L368.7,392L366.8,392L364.9,392L363,392L361.1,392L359.2,392L357.3,392L355.5,392L353.6,392L351.7,392L349.8,392L347.9,392L346,392L344.1,392L342.2,392L340.4,392L338.5,392L336.6,392L334.7,392L332.8,392L330.9,392L329,392L327.1,392L325.3,392L323.4,392L321.5,392L319.6,392L317.7,392L315.8,392L313.9,392L312.1,392L310.2,392L308.3,392L306.4,392L304.5,392L302.6,392L300.7,392L298.8,392L297,392L295.1,392L293.2,392L291.3,392L289.4,392L287.5,392L285.6,392L283.7,392L281.9,392L280,392L278.1,392L276.2,392L274.3,392L272.4,392L270.5,392L268.7,392L266.8,392L264.9,392L263,392L261.1,392L259.2,392L257.3,392L255.4,392L253.6,392L251.7,392L249.8,392L247.9,392L246,392L244.1,392L242.2,392L240.3,392L238.5,392L236.6,392L234.7,392L232.8,392L230.9,392L229,392L227.1,392L225.3,392L223.4,392L221.5,392L219.6,392L217.7,392L215.8,392L213.9,392L212,392L210.2,392L208.3,392L206.4,392L204.5,392L202.6,392L200.7,392L198.8,392L196.9,392L195.1,392L193.2,392L191.3,392L189.4,392L187.5,392L185.6,392L183.7,392L181.9,392L180,392L178.1,392L176.2,392L174.3,392L172.4,392L170.5,392L168.6,392L166.8,392L164.9,392L163,392L161.1,392L159.2,392L157.3,392L155.4,392L153.5,392L151.7,392L149.8,392L143.2,390.2L135.6,387.6L137.9,387.7L140.2,387.8L142.5,387.9L144.8,388L147.2,388.1L149,388.1L150.8,388L152.6,387.9L154.4,387.8L156.2,387.7L158,387.6L158.5,387L158.9,386.3L159.4,385.6L159.8,384.8L153,381.5L149.4,380.8L145.7,380.1L142,379.4L138.2,378.6L140.1,378.5L142.1,378.3L144,378.1L146,377.9L147.2,377.3L148.5,376.7L149.8,376.1L151.1,375.4L152.5,374.8L154.7,374.7L156.8,374.5L159,374.3L161.2,374.2ZM416.6,272.4L416.5,273.4L415.7,273.2L415.6,272.6ZM420.2,270.6L420.2,271.6L419.5,271.6L419.4,270.8ZM396.7,270.6L396.5,265.5L398.5,262.5L402.1,260.5L404,257.5L406.4,254.5L407.8,261.5L406.2,265.5L404.6,270.6L403.1,274.6L401.7,278.6L398,281.6L395.5,280.6L395,275.6ZM398.8,256.3L398.8,256L398.9,255.9L399.1,256.1L399,256.4ZM395.7,254.3L395.6,253.7L395.8,253.4L396.2,253.8L396,254.4ZM389.2,243.4L389,243.2L388.9,242.4L389.1,242L389.4,242.5ZM389.7,241.3L389.7,240.7L389.8,240.4L390.1,240.8L389.9,241.4ZM331.2,230.3L331.1,230L331.2,229.8L331.5,230L331.4,230.4ZM337.1,158.4L337.7,161.4L336.4,162.8L338.1,164L341.8,164.6L345.3,165.6L350.2,169.4L352.8,169.8L353.4,166.4L355.8,164.6L360.2,166.4L361.9,167.2L365.4,167.8L368.8,168.6L370.4,167.8L372.9,167.4L374.4,168L377.2,167.8L378,167.4L378.6,164.8L379.2,162.6L379.3,159.4L379.7,157.2L378.5,157.2L377,156.8L374.2,158.4L370.5,156.6L368.7,158L366.4,156.8L365,156.4L363.7,153.6L363,152.3L363,152.3L362.4,152.2L362.2,151.9L362.6,151.7L362.7,151.8L362.4,150.2L361.9,149.2L361.7,148.8L359.3,148.6L358.8,150.2L357.6,150L356.9,149.2L356.5,150.4L357.3,151.8L357.9,153L358.1,153.4L357.9,153L358.4,152.6L359.6,153L359.1,153.8L358.2,153.6L358.7,154.6L359.2,155L358,155.6L358,157.4L357,157.6L355.6,156.8L354.8,155L355.4,154L354.1,153.2L353.6,152.4L352.7,151.4L351.2,149.4L351.1,147.8L350.8,146.7L349.4,145.7L348.8,145.3L345.9,143.5L343.9,142.3L342.6,139.9L341.2,140.7L341.1,139.5L341.4,139.2L339.1,139.7L339.5,140.7L339.7,142.5L341.2,143.3L342.5,145.5L345.8,146.7L347.1,148.2L348.9,149.2L349.8,150.2L349.7,150.8L347.6,149.4L346.8,151L347.7,152.4L346.8,153.6L345.5,154.6L345.5,154L345.9,153L345.8,151.4L345.3,150.4L343.7,149.2L342.7,148.8L341.5,148L339.3,146.9L338.7,146.3L336.5,144.7L336.1,143.5L335.3,142.3L333.8,141.7L333,142.1L331.3,143.1L329.2,144.3L328.1,143.9L326.8,143.7L325.9,143.5L324.6,144.3L324.4,145.3L324.9,145.9L323.2,147.6L321.5,148.2L320.9,149L319.1,151.4L319.9,153L318.8,153.8L317.9,155.2L315.9,157L312.3,157L310.8,158.2L310.3,158.4L309.1,157.4L308,156L306.3,156.4L304.7,156.4L304,153L305.5,148L304.7,144.5L306.8,143.1L310.5,143.3L313.5,143.5L317.2,143.5L317.7,139.5L317.7,138.2L316.1,136.6L315.7,135.6L312.9,135L312.1,133.9L314.2,133.1L317.1,133.5L317.1,131.3L317.6,131.9L319.8,131.7L321.9,130.4L322.4,129L324.2,128.2L325.7,126.9L326.8,125L330.1,124L332.3,123.5L332.5,121.6L331.7,120.2L331.5,117.4L334.9,116.1L334.7,118.4L334.1,120.8L334.5,122.1L336,123.1L338.2,122.3L339.7,122.1L340.9,123.1L344.1,122.1L347.4,122.3L349.3,121.7L350.6,120.2L350.2,117.4L352.1,116.1L353.8,117.4L354.8,116.5L354.5,115L353.2,114.1L353.1,113.1L354.9,112.8L359.4,112.8L362.1,111.9L359.7,110.8L354.9,111.5L352.2,112.2L350.6,110.9L349.3,109.1L349.2,106.4L353.7,102.9L352.3,101.5L349,101.5L349.1,102L347.3,105.2L344.5,107.3L343.9,110L343.8,110.6L345.9,112.8L343.6,114.6L343.6,117.4L343,118.9L340.7,120.2L338.8,120.2L338,118.7L336.7,116.1L335.6,113.7L334.8,112.8L333.2,114.1L331.1,115.4L329.7,115.6L327.6,113.7L326.8,111.1L326.6,108.6L327.9,107.3L331.2,105.5L333.8,103.7L335.7,102L336.8,100.2L338.5,98.9L337.2,97.3L339.6,96.1L343.3,94.8L346.3,93.9L349.3,92.9L352,92.4L354.8,92.6L358.9,93.6L356.6,94.6L359.2,94.8L361.9,95.3L365.9,95.6L369.5,96.9L373.2,98.2L374.1,99.9L372.8,100.8L370.2,100.9L366,100.2L362.4,99.2L365.8,102L366.7,103.7L369.3,104.6L371.2,104.3L370.1,102.9L373.7,103.6L373.7,101.5L375.3,100.2L378.2,101.1L377.9,99.4L376.3,96.6L379.3,97L380.9,99.4L382.2,99.4L383.5,97.7L385.8,97.1L388.1,96.5L389.8,97.3L393.4,96.6L396.9,96L396.9,94.6L399.6,95L402.4,95.4L406.5,96.8L408.4,96.8L405,94.3L402.9,91L404.3,89.4L405.5,89.4L409.7,91L411.3,94.3L414.2,96.8L415.7,100.2L416.6,98.5L415.6,96L412.1,92.6L412.2,90.2L416.2,90.5L419,91L423.4,93.4L423.4,91.8L418.6,88.9L420.5,88.2L422.4,87.6L424.2,87L426.4,86.2L428.6,85.4L430.5,85L432.4,84.6L434.3,84.2L435.8,83.5L437.2,82.8L438.6,82.1L443.4,83.1L447,83.6L450.7,84.2L457,87.8L454.5,87.9L451.9,88.1L456.1,88.6L458.6,88.6L461.3,88.8L464,89L466.9,89.4L468.7,88.9L470.5,88.4L474.4,88.6L479.6,90.2L482,92.6L485.1,92.6L486,91.8L489.7,91.8L492.2,91.8L492.5,90.2L494.5,89.8L497.5,90.2L500.4,90.5L503.8,91.1L507.2,91.8L512.2,92.6L515.5,93.2L518.8,93.7L522.2,94.3L525.9,95.1L528.4,95L530.8,94.9L533.6,94.3L538.7,96L537.4,94.3L540.9,94.4L544.3,94.6L548,95.3L551.6,96L556.9,99.4L562,102.9L559.4,103.4L565.7,106.4L567.9,107.5L565.5,108L563.1,108.6L561.3,110.4L560.3,111.9L555.4,111.3L552.2,112.2L554,114.6L553.6,115.9L558.4,118.9L559.4,121.2L559.9,124.6L559,125.9L559,128.8L554.3,125L549.8,121.2L546.6,117.4L546.4,114.6L546.1,111.9L546.8,110L546.2,107.3L544.6,108.2L542.9,109.1L542.2,108.6L538,109.1L538.7,112.8L534.4,112.8L531,113L527.7,113.1L523.4,113.1L522.4,116.5L521.4,119.3L520.7,121.7L524.8,123.1L525.9,123.5L528.6,123.1L531.9,124.6L533.5,126.5L534.5,128.8L537.3,132.7L537.7,133.7L537.6,137.6L536.3,141.5L534.4,144.9L531.7,144.3L530.3,145.5L530,147.4L530.6,148.8L528.4,151L528.7,152L531.1,153.4L534,156.4L535.1,158.4L535.3,160.2L533,161.2L531.2,161.2L530.1,158.4L528.9,155.4L525.8,154.4L524.7,151.4L522.8,150.6L521.1,151.4L519.3,152.8L518.1,149.4L516.5,148.8L515.1,150.6L513,152.4L515.1,154.4L516.2,155L517.9,156L519.1,154.8L522.2,155.6L520.5,157.4L519.8,158.4L519,160.4L519.2,161L522.2,163.4L523.8,165.4L525.9,167L526.2,168.4L524.5,169.8L527.3,170.6L527.5,173.4L526.4,174.4L525.6,178.4L523.5,181.4L521.6,183.8L517.6,185.8L516.5,186.2L513.2,187.4L511.6,188L511.4,189.8L510.3,187.4L508.9,187.4L507.1,187.2L505.3,188.8L504,191.4L504.2,193.1L505.8,195.5L508,197.5L509.4,198.3L511,201.5L511.9,204.5L512.1,206.1L511.7,207.9L508.3,209.7L507.6,211.5L504.7,213.3L504.9,210.5L503.9,209.7L502.1,209.3L501.1,207.5L500.1,206.1L497.4,205.1L496.3,203.5L495.5,204.1L495.7,206.5L494.8,209.5L495.3,211.9L496.6,213.5L497.5,216.1L499.5,216.9L500.6,218.1L502.6,220.5L502.7,222.9L503.3,225.5L504.3,227.7L503.4,227.9L500.7,226.1L499.1,224.5L497.6,221.5L497.1,219.5L496.5,217.5L495.5,215.5L493.3,214.5L493.1,211.5L493.4,208.5L493,205.5L491.8,202.5L490.3,197.5L488.6,197.5L486.7,198.9L484.9,198.5L484.8,195.5L481.5,190.4L478.8,185.8L476.6,186.4L474.1,187L472.4,187L470.7,187.4L470.6,189.2L469,190.8L465.2,195.1L463.6,196.7L461.6,198.9L460.4,200.5L460.9,204.5L460.2,207.5L460.4,209.9L459.1,211.9L457.7,212.7L456.6,214.3L455.5,213.5L454.1,210.5L453.2,207.9L451.2,204.7L449,199.5L446.6,192.5L446.1,189.4L446.1,188L445.4,186.4L445.1,188.4L443.1,189L441.2,188L439.3,185.8L441.4,184.8L439.1,184.4L437.7,183L436.3,182.4L435.2,180.8L434.2,179.6L429.9,179.8L427,180L423.9,179.8L421.3,179.6L418.3,178.8L417.4,176.4L416.2,176.2L413.3,177.2L410.6,176.4L407.8,174.6L406.3,172.4L404.6,170L402.4,169.8L401.4,171.4L402.8,174.4L404.5,176L405.9,177.4L407.2,180.4L407.3,178.2L408.5,179.4L408.5,181.4L410.3,182L413.5,181.4L414.9,179.8L416.4,177.8L417.1,180.4L417.7,181.8L421,183.2L423.3,185.4L421.9,189.4L420.4,192.5L418.3,194.5L414.1,196.5L411.1,198.5L407.4,200.5L405.8,201.5L402.2,203.5L398.8,204.9L396.2,205.1L395.6,203.9L394.9,200.9L394.4,197.5L394,196.5L391.5,192.5L387.7,187.4L386.3,184.4L385.3,182.2L383.3,179.4L382.3,177.4L380.4,175L379.2,174.2L379.3,171.4L378.7,174.4L378.4,175L376.5,173.4L374.9,170.4L377,174.4L377.6,176L380,181.4L381.4,184.4L383.9,188.4L384.4,191.2L386.9,194.5L388.9,199.3L391.6,201.5L394.4,204.5L395.8,205.5L395.7,207.5L397.2,209.5L399,209.7L403.3,208.3L406.8,207.7L410,206.9L409.9,209.7L408.8,213.5L406.3,218.5L404.6,221.5L399.9,226.5L396.7,230.5L394,232.5L392.3,235.1L389.9,238.5L388.6,242.5L389.1,244.1L389.4,248.5L391,251.5L390.9,256.5L391.2,260.5L389.6,263.5L384.2,266.5L380.4,270.2L381.2,274.6L381,278.6L375.9,282.6L376,285.6L372.4,290.4L370.4,293.2L366.8,296.6L362.7,298.6L358.2,298.8L353.1,300.2L350.5,298.6L350,295.6L349,291.6L347.8,287.8L345.7,283.8L344.7,276.6L343.1,272.6L340.6,266.5L340.3,263.5L341,260.5L343.2,255.5L342.9,248.1L341.4,242.7L340.8,240.5L340.5,240.1L337.3,235.5L335.2,231.9L336.3,229.7L336.8,227.5L337,224.5L336.8,222.5L335.2,221.3L334.3,221.3L330.2,221.9L328.4,218.9L325.6,217.7L322.3,218.1L319.6,219.3L316.1,220.9L312.5,220.1L306.3,221.7L300.5,217.9L297.5,215.5L296.1,213.5L295.4,211.5L293.2,208.5L291.4,206.5L290.1,203.9L288.9,201.1L290.7,198.5L291.6,194.5L291.2,191.4L290.1,188.4L291.9,183L294.6,178.4L297.3,174.6L299.9,173.2L302.6,171.4L303.3,169.6L303,167.4L304.1,165.4L306.8,163.2L308.2,162.4L309.6,159.4L309.8,158.8L310.8,158.6L316.3,160L318.6,158.8L324.6,156.8L327.9,156.6L331.2,156.4L335.8,155.8L337.8,156.4ZM394.3,140.5L396,144.5L399,147.4L400.3,149.8L401.6,149.6L400.1,152.4L400.6,155.4L404.2,156.8L408.3,156.8L408.9,155.4L407.9,152.4L406.2,150.4L405.4,148.4L407.1,147.4L404.5,146.5L403.2,144.5L401,141.9L399.8,141.5L400.8,140.1L403.7,139.9L403,137.6L400.4,136.6L396.7,137.6ZM363.9,145.5L364.9,146.7L366.7,148L370.7,147.8L372.9,146.5L376.1,146.3L378.5,147.8L381.4,148.4L384.1,148.4L387,147.2L386.7,145.5L385.5,144.5L383.2,143.3L379.8,141.1L377.7,140.3L375.8,140.5L373.8,141.7L373,141.3L371.1,139.7L372.6,138.4L370,138L369.1,137.2L367.9,137.6L366.7,140.1L365.4,142.1L364.4,144.1ZM375.5,139.5L377.6,139.7L379.3,138.6L379.4,137.4L381,136.2L378.5,136.6L375.1,138ZM334.8,223.9L334.7,223.3L334.9,222.9L335.4,223.3L335.2,224.1ZM413.6,205.9L413.2,205.2L414.1,204.9L415.7,205.3L415,206.1ZM373.6,160.4L377.1,159.2L376.4,160.4L374.8,161.2ZM363.5,160L360.5,160.4L358.8,159.8L358.8,159.4ZM365.9,158.4L365.7,157.8L366,157.5L366.6,157.9L366.4,158.5ZM345.3,154L344.8,157L340.3,155.2L340.2,154.4ZM321.7,152.6L321.6,152.3L321.8,152.1L322.2,152.3L322,152.7ZM324.8,151.7L323.9,151.6L323.7,151L324.3,150.7L325.3,151.1ZM333.3,149.4L332.9,148.4L335.4,148.4L335.3,152L333.6,152.4ZM333.7,147.1L333.5,145.5L334.7,144.5L335,146.5L334.5,147.6ZM304.7,122.7L307,121.9L308.5,120.6L310.4,120.8L311.3,122.1L310.3,124.4L310.5,126.5L309.8,126.7L307.5,127.3L305.1,127.9L304,127.3L304.9,125.9L306.1,124.8L304.6,124.2ZM314.8,123.1L314.4,121.4L312.2,121.6L312.5,119.7L311.5,120.4L310.8,118.4L311.3,116.5L312.4,114.4L315,114.4L313.5,116.5L314.5,116.1L317,116.1L316.7,117L315.9,118.4L315.2,119.3L316.7,119.7L317.4,121.2L318.9,122.1L319.6,123.8L319.9,125.2L322,125.6L321.7,128.6L317.8,129.4L314.2,130.2L310.8,130.8L313.2,128.4L315.3,127.9L313.5,127.7L311.7,127.1L313.4,126.1L312.7,125.4L312.8,124.4L315.1,124.2ZM334.6,120.9L334.4,120.4L334.7,120.1L335.5,120.5L335.2,121.1ZM337.6,121L336.6,120.8L336.2,119.9L336.8,119.5L338,120ZM346.1,117.1L345.8,116.1L346.1,115.6L346.9,116.2L346.8,117.4ZM309.2,116.6L309.1,115.6L309.4,115L309.9,115.6L309.6,116.9ZM352.6,115.3L351.4,115.1L351,114.6L351.7,114.3L353.1,114.7ZM315,113.9L314.9,113.6L315.2,113.5L315.7,113.6L315.5,113.9ZM317.6,111.8L317.5,111L317.7,110.6L318,111.1L317.9,112ZM310.1,108.7L309.5,108.5L309.3,108L309.7,107.8L310.4,108.1ZM382,96.3L381.3,95.5L382,95.1L383.9,95.6L383.5,96.5ZM394.8,94.7L394.1,94L394.7,93.6L396.4,94.1L396.2,94.9ZM309.1,92.8L308.4,92.8L308.3,92.5L308.7,92.4L309.5,92.6ZM387.9,88.6L391.1,91L391.6,93.1L389,93L386.5,92.9L384,91.8L383.8,90.2L385.4,88.6L385.9,85.4L387.9,84.8L389.8,84.2L391.9,83.8L393.9,83.5L396,83.1L399.1,83.4L397,84L394.8,84.6L392.5,85.4L390,86.2ZM342.2,87.2L342.1,87.1L342.3,87L342.8,87.1L342.6,87.3ZM341.8,78.9L339.5,79.1L342,80.1L344.5,81.2L342.2,80.9L338.8,83.7L335.7,82.4L332,80.9L331.8,79.2L334.2,78.9L336.6,78.7L339.1,78.4L341.4,78.1L344,78.2L346.6,78.4L349.2,78.5L346,78.7L348.3,78.9L346.5,79.6L342.8,79.4ZM384.7,77.3L388.5,77.6L387.3,78.1L384.2,78L382.3,78.7L379.2,78.6L376.1,78.4L373.9,77.7L377.5,77.3L380.4,77.5L383.4,77.7L383,77.6ZM426.2,328.3L428.4,328.5L427.8,329.7L426.1,329.5ZM580.9,276.2L580.8,277.8L583.5,280.6L583.6,281.6L582.2,285.6L582,288L579.1,292.6L576.9,295.6L573.6,298.4L569.6,302.6L567.6,305.6L563.9,306.4L559.9,308.8L558.8,306.6L557.6,307.2L555.3,308.4L552.6,307.4L551.4,306.6L551.3,304.6L551.8,302.6L551.1,300.6L549.6,302L549.5,301L551.4,297.6L552,295.8L549.7,298L547.1,300.2L546.7,300.2L546.1,298.6L545.6,296.6L545.4,295L542.7,294.6L541.4,293.6L537.9,294L532.4,295.2L528.5,296.6L524.4,298.4L520.9,298.6L516.8,300.6L512.4,299.4L512.9,297.8L515.2,294.6L515,291.6L515.4,288.2L515,285.6L514.8,282.6L515.9,279.6L516.9,275.6L517.7,274.2L520.4,272.6L523.1,272L526,271.2L530.4,269.8L533.1,266.5L533.6,264.5L535.8,265.1L536.2,262.9L538.9,260.9L541,258.5L542.8,258.3L544.3,260.1L546,260.5L547.3,260.1L548.2,257.1L549.9,255.3L552,254.9L553.5,253.1L554.8,254.1L557.3,254.9L560.4,254.5L560.7,255.1L558.7,257.5L557.5,260.1L559.2,262.1L561.2,263.7L563.2,265.5L565.8,265.5L566.2,265.1L567.8,261.5L568.6,257.5L569.3,255.1L570.1,252.5L570.9,251.9L572.2,255.5L572.2,259.1L574.6,260.5L574.8,264.3L574.8,268.3L575.9,269.2L578.6,271.2L579,273ZM549.7,253.9L549.4,253.3L550.2,253L551.5,253.4L550.8,254ZM531.9,250.5L530.4,250.3L530,249.7L531,249.3L532.8,249.7ZM539.3,250.9L537.5,251.1L540.4,248.5L544,247.3L543,248.5ZM536.9,246.9L536.5,248.1L529.8,248.1L524.5,248.3L524.6,247.1L529.9,247.1L533.4,247ZM522.6,247.6L522.4,247.2L523,246.9L523.9,247.2L523.4,247.7ZM551.6,246.4L551.6,245.3L552,244.7L552.6,245.4L552.2,246.7ZM512.3,245.9L507.9,245.3L505.7,244.1L508,242.5L511.5,243.5L516,243.5L518.9,244.5L522,246.1L521.7,247.9L517.5,247.1ZM543.1,237.7L542.8,237.1L543.6,236.7L544.9,237.1L544.3,237.9ZM551.3,236.9L549,237.5L546.3,237.3L546.4,236.5ZM511,236.8L510.3,236.7L510.2,236.1L510.6,235.8L511.4,236.2ZM506.8,235.6L506.6,234.5L507.2,233.9L508.3,234.6L507.8,235.9ZM538.2,232.1L535.8,234.1L534.9,235.5L536.6,237.5L537.4,239.5L536.4,241.1L535.1,240.1L534,236.5L533.1,236.1L532.8,239.5L532.5,241.7L531.1,241.5L531.3,237.5L530.3,235.9L531.1,232.9L532,228.9L533.7,227.9L537.6,228.5L541.1,227.3L540.3,229.5L535.9,229.5L533.2,229.9L532.5,232.1L535,232.3ZM507.4,236.5L507,242.1L504.7,242.3L502,239.5L499.4,235.9L497.4,232.1L495.1,229.5L494.2,226.9L491.4,224.1L488.7,220.9L488.3,219.3L492.2,220.1L494.4,223.1L497.3,225.5L499.5,226.5L502.2,229.1L503.6,231.5L504.8,234.1ZM545.8,229.5L545.5,226.5L547.3,227.5L547.4,229.9L546.5,232.1ZM530.6,220.1L528.5,221.5L527.9,223.5L528.7,225.9L530.5,228.5L528.4,228.9L527.9,232.1L526.1,233.5L525.5,236.5L525,238.5L522.6,238.5L521.5,237.1L518,237.3L514.8,236.3L514.6,233.5L512.8,231.1L512.8,227.5L513.8,226.5L516.3,227.3L516.8,225.1L519.8,224.1L521.4,221.3L524,219.5L526,216.5L527.8,217.7ZM485.5,216.7L485.1,216.5L484.9,215.8L485.1,215.5L485.6,215.9ZM537.8,213.3L541.1,210.9L543.2,214.5L542.9,217.9L541.5,219.3L539,217.5L537.7,215.3L535.3,216.5ZM464.3,216.5L462.9,218.3L461.3,218.5L460.7,215.5L460.6,212.9L460.8,210.9L463.2,213.5ZM484.4,213.7L484.1,213.6L484,213.1L484.1,212.9L484.5,213.2ZM526.3,212.9L529.9,207.9L530.4,209.5L526.7,213.5ZM534.8,209.5L534.5,206.9L536.8,208.5L537.3,211.9L535.9,211.5ZM482.7,209.4L482.6,208.9L482.8,208.7L483.2,209L483,209.5ZM541.2,208.5L540.1,210.1L538.9,207.9L539.7,205.5ZM482.8,207.1L482.5,205.1L482.7,204.1L483.4,205.3L483.3,207.7ZM532.3,203.3L531.4,201.5L530.2,200.5L529.5,198.1L530.3,196.5L529.9,193.5L533,193.7L533.8,197.5L532.7,199.5L533.2,202.1L535.8,202.5L537.8,204.5L537,205.1L535,203.1ZM511.7,193.9L509.3,193.3L509.1,192.1L511.1,190.2L513,191ZM528.2,181.2L529.1,180L530.1,180.8L529.4,186.4L527.6,184.4ZM539.4,177.9L539.1,177.2L539.3,176.8L540,177.3L539.9,178ZM541.4,174.1L540.9,174L540.7,173.7L540.9,173.5L541.4,173.7ZM541.6,164.4L542,167.6L541.1,168.4L539.4,166.4L538.1,164.4L538.1,163.4L539.6,162.8ZM532,163.8L531.6,163.5L532,163.3L533,163.5L532.7,163.9ZM543.8,164.8L542.1,163.6L541.9,162.4L545,161.8L545.4,163.8ZM423.7,78.8L425.1,78.4L425.6,78.4L424.7,77.5L427.8,77.9L431,78.3L434.1,78.8L438.2,80.9L436.5,81.1L436.4,81.3L436,81.2L433.5,81.6L430.3,80.9L427.1,80.2L426.6,79.6L425.5,79.5ZM582.5,322.4L586,320.1L588.9,318.5L593.7,316.5L597.1,314.1L599.9,312L601,311.6L602.6,313L600.9,314.5L596.6,317.5L592.9,319.1L589.7,322L586.3,323.6L584.4,323.6ZM557.6,312.8L560.7,312.2L559.3,314.5L556.3,317.1L553.5,317.7L554.1,314.9L554.8,312.6L555.2,312ZM560.9,311L561.2,310.3L561.7,310L561.8,310.4L561.2,311.2ZM554.8,311L554.5,310.8L554.8,310.1L555.2,309.8L555.4,310.2ZM603.6,313.8L603.1,313.2L605.1,311.2L604.4,309.4L607,307.6L608.7,305.2L609,301.6L608.9,299.4L610.5,301.2L610.2,303.6L610.4,305.6L612.7,306.2L614.5,306L611.9,308.6L609.5,309.6L607.7,311.6ZM547.2,302.4L547,302.1L547.9,301.9L549.3,302.1L548.5,302.5ZM605.2,270.6L609.2,275.2L608.3,275.4L604.9,271.6ZM631.9,265.3L631.5,266.9L629.3,266.9L629.7,265.3ZM632.4,264L632.2,263.6L633.1,263.3L634.6,263.6L633.8,264.1ZM611.9,260.8L612,260.7L612,260.5L612.2,260.5L612.4,260.3L612.6,260.5L613,260.5L613.4,263.7L612.5,263.7L612.2,261.8L611.9,261.7ZM559.2,259L559.1,258.3L559.6,257.9L560.3,258.4L559.8,259.1ZM604.6,251.9L604.5,251.6L605,251.4L605.9,251.6L605.4,252ZM602.6,250.1L601.4,250L601.2,249.6L601.9,249.3L603.3,249.6ZM603.5,249.2L603.5,248.1L603.9,247.5L604.4,248.2L604,249.5ZM600,247L599.7,246.6L600.6,246.3L602.2,246.6L601.4,247.1ZM597.6,245.1L596.5,245L596.2,244.6L596.9,244.3L598.3,244.6ZM557,243.9L556.9,242.4L557.4,241.5L558.3,242.5L557.8,244.3ZM593.5,243.8L593.3,242.4L594,241.7L595.1,242.6L594.4,244.1ZM573.8,237.3L576.4,239.1L578,241.5L580.6,242.5L581,244.5L582,247.5L584.3,250.5L585.6,251.3L583.3,251.1L579.9,250.5L577.5,247.5L575,245.9L573.1,247.5L572.1,248.9L568.6,248.9L566.1,246.7L563.4,247.1L565.1,244.5L563.8,241.5L560.4,239.7L556.9,238.3L555.1,238.5L554.9,236.5L553.5,236.1L556.2,235.3L553.5,234.5L551.8,233.1L551.8,232.1L554.5,231.3L557.1,232.1L557.4,235.1L558.7,237.1L561.5,234.9L564.2,233.7L569.4,235.7ZM588.7,240.9L585,243.1L582.4,242.3L582.4,241.5L586,241.5L589.1,238.9ZM587.2,238.1L586.5,237.5L588.2,237.2L591.1,237.6L589.7,238.2ZM561,232.9L560,232.8L559.8,232.3L560.4,232.1L561.6,232.4ZM547.9,163.4L546,161.4L543.2,161.6L541.1,162.4L539.4,162.4L539.6,161L541.4,159.4L545.5,159.2L546.3,156.8L546.6,155.4L548.9,154.4L548.7,151L547.4,148.8L548.9,147.8L552.2,151.4L552.2,154.4L553.5,156.8L554.2,159L553.2,160.4L551.7,161L548.9,161.2L548.9,161.8ZM546.5,147.4L545.1,144.5L544.2,139.7L547.7,141.9L551.8,142.5L553.1,143.9L551.6,146.5L546.9,145.5L547.9,147.1ZM553.3,142.5L552.3,142.4L551.8,141.9L552.1,141.7L553.4,142ZM553.9,140.9L553.1,140.3L553.7,139.9L555.4,140.4L555.3,141.1ZM555.7,138.4L554.9,137.7L555.3,137.4L556.9,137.8L556.9,138.6ZM557.4,133.5L556.8,133.4L556.4,132.9L556.5,132.7L557.3,133ZM534.4,126.9L531,122.5L534.7,125L538.5,128.8L543.5,132.7L541.1,132.7L545.5,137.6L543.8,138.6L541,134.6L538.1,130.8ZM558.7,130.5L558,130L558.2,129.7L559.3,130L559.5,130.7ZM592.4,128.2L593,127.5L593.6,128.1L592.8,128.6ZM581.2,124.8L581.8,125.4L579.9,125.7L579.5,125.4ZM565.3,121.4L564.6,121L564.9,120.8L566.4,121.1L566.4,121.6ZM544.9,92.7L543.9,92.3L544,92L545.7,92.3L546,92.9ZM491.5,88.6L490.4,88.3L491.4,88.1L494.1,88.3L493.7,88.7ZM482.6,84.9L483.6,85L484.2,84.6L486.5,84.6L488.9,84.6L491.2,84.6L494.9,85.4L498.6,86.2L496,86.3L493.4,86.4L490.8,86.5L486.8,85.9L486.7,86.2L483.1,86L481.2,85.3ZM343.4,204.5L345.1,203.3L345.6,204.5L344.2,205.5ZM192.6,144.9L190.4,146.1L185.8,147.6L184.7,147.1L185.4,146.5L188.3,145.3L191.7,144.7ZM183.8,140.5L181.4,143.5L179.5,147.1L177.7,146.5L179.7,141.5L182.8,139L185.2,139ZM196,143.9L191.5,143.9L192.5,143.1L194.9,142.7L197.5,142.1L197.5,143.3ZM188.4,144.1L187,144.5L186.2,142.5L187.4,140.1L186,139L186.2,138.6L190.1,138.6L192.5,140.5L192.1,141.5L189.7,141.5ZM186.7,136.6L186.3,137.6L182.6,137.6L179.7,137L177.2,137.4L174.9,137.2L179.1,135L182,133.7L185.5,134.6ZM170.9,129.8L171.6,123.5L173.1,123.5L172.3,125.9L172,129.8ZM169.1,118.4L169.7,117L172.5,115.6L173,115.9ZM164.3,113.1L167.8,113.1L163.7,113.9L159.7,114.4ZM163.3,109.1L158.3,110L155.5,110L157.5,108.6L161.8,107.7L167,106.4L168.6,107ZM161.5,102L156.6,102.9L154.8,102L153,101.1L155.9,100.2L160.1,99.4L163.7,99.7ZM554,287L555.3,287.2L554.5,289.2L553.4,289.2ZM380.3,257.5L379.9,253.5L379.6,249.5L380.6,252.5L380.8,256.5L381.4,259.1ZM371.8,242.5L371.1,239.5L371.5,237.5L372.2,240.5L373.5,244.5L374.4,247.9L373.3,247.1ZM376.3,235.5L375.8,233.5L375.8,231.5L377.2,229.9L379.9,230.1L380.2,232.5L379,235.5ZM383,221.5L383.9,221.9L384.4,225.3L383.7,225.3ZM412.8,142.5L412.5,140.5L414.1,137.6L416.5,138L416.8,141.5L414.2,143.5ZM441,138L438.2,138.2L437,140.1L436.2,139.9L437.5,137.2L440.7,137.2L443.9,137.4L444.1,138ZM481.3,120.2L482.1,125L479.9,127.5L477.4,127.9L478.9,125.9L480.4,123.6L480,119.9ZM362.8,111.9L361.7,110L362.8,108.8L365.9,110L365.5,111.5ZM367.7,109.1L367.9,107L369.7,108.6L368.7,110Z" fill="none" stroke="#000" stroke-width="0.9" stroke-linejoin="round"/></g>
<path d="M489.4,392L491.7,391.4L494.1,390.7L496.7,390L499.4,389.1L502.2,388.1L505.1,387.1L508.2,386L511.3,384.8L514.6,383.5L517.9,382.2L521.2,380.8L524.6,379.4L527.9,377.9L531.2,376.4L534.4,374.8L537.5,373.2L540.5,371.6L543.4,370L546.2,368.4L548.9,366.7L551.6,365L554.3,363.3L556.9,361.6L559.5,359.9L562,358.1L564.6,356.4L567.1,354.6L569.6,352.8L572,351L574.4,349.1L576.8,347.3L579.2,345.4L581.5,343.6L583.8,341.7L586,339.8L588.3,337.9L590.4,336L592.5,334.1L594.6,332.2L596.5,330.2L598.5,328.3L600.3,326.4L602.1,324.4L603.9,322.4L605.6,320.5L607.3,318.5L608.9,316.5L610.6,314.5L612.2,312.6L613.7,310.6L615.1,308.6L616.5,306.6L617.9,304.6L619.2,302.6L620.4,300.6L621.6,298.6L622.8,296.6L623.9,294.6L624.9,292.6L625.9,290.6L626.9,288.6L627.8,286.6L628.6,284.6L629.4,282.6L630.1,280.6L630.7,278.6L631.4,276.6L631.9,274.6L632.5,272.6L633,270.6L633.6,268.5L634.1,266.5L634.6,264.5L635.1,262.5L635.5,260.5L635.9,258.5L636.3,256.5L636.6,254.5L637,252.5L637.2,250.5L637.5,248.5L637.7,246.5L637.9,244.5L638.1,242.5L638.3,240.5L638.4,238.5L638.5,236.5L638.6,234.5L638.7,232.5L638.7,230.5L638.7,228.5L638.6,226.5L638.5,224.5L638.4,222.5L638.3,220.5L638.1,218.5L637.9,216.5L637.7,214.5L637.5,212.5L637.2,210.5L637,208.5L636.6,206.5L636.3,204.5L635.9,202.5L635.5,200.5L635.1,198.5L634.6,196.5L634.1,194.5L633.6,192.5L633,190.4L632.5,188.4L631.9,186.4L631.4,184.4L630.7,182.4L630.1,180.4L629.4,178.4L628.6,176.4L627.8,174.4L626.9,172.4L625.9,170.4L624.9,168.4L623.9,166.4L622.8,164.4L621.6,162.4L620.4,160.4L619.2,158.4L617.9,156.4L616.5,154.4L615.1,152.4L613.7,150.4L612.2,148.4L610.6,146.5L608.9,144.5L607.3,142.5L605.6,140.5L603.9,138.6L602.1,136.6L600.3,134.6L598.5,132.7L596.5,130.8L594.6,128.8L592.5,126.9L590.4,125L588.3,123.1L586,121.2L583.8,119.3L581.5,117.4L579.2,115.6L576.8,113.7L574.4,111.9L572,110L569.6,108.2L567.1,106.4L564.6,104.6L562,102.9L559.5,101.1L556.9,99.4L554.3,97.7L551.6,96L548.9,94.3L546.2,92.6L543.4,91L540.5,89.4L537.5,87.8L534.4,86.2L531.2,84.6L527.9,83.1L524.6,81.6L521.2,80.2L517.9,78.8L514.6,77.5L511.3,76.2L508.2,75L505.1,73.9L502.2,72.9L499.4,71.9L496.7,71L494.1,70.3L491.7,69.6L489.4,69L149.8,69L147.5,69.6L145.1,70.3L142.5,71L139.8,71.9L137,72.9L134.1,73.9L131,75L127.9,76.2L124.6,77.5L121.3,78.8L118,80.2L114.6,81.6L111.3,83.1L108,84.6L104.8,86.2L101.7,87.8L98.7,89.4L95.8,91L93,92.6L90.3,94.3L87.6,96L84.9,97.7L82.3,99.4L79.7,101.1L77.2,102.9L74.6,104.6L72.1,106.4L69.6,108.2L67.2,110L64.8,111.9L62.4,113.7L60,115.6L57.7,117.4L55.4,119.3L53.2,121.2L50.9,123.1L48.8,125L46.7,126.9L44.6,128.8L42.7,130.8L40.7,132.7L38.9,134.6L37.1,136.6L35.3,138.6L33.6,140.5L31.9,142.5L30.3,144.5L28.6,146.5L27,148.4L25.5,150.4L24.1,152.4L22.7,154.4L21.3,156.4L20,158.4L18.8,160.4L17.6,162.4L16.4,164.4L15.3,166.4L14.3,168.4L13.3,170.4L12.3,172.4L11.4,174.4L10.6,176.4L9.8,178.4L9.1,180.4L8.5,182.4L7.8,184.4L7.3,186.4L6.7,188.4L6.2,190.4L5.6,192.5L5.1,194.5L4.6,196.5L4.1,198.5L3.7,200.5L3.3,202.5L2.9,204.5L2.6,206.5L2.2,208.5L2,210.5L1.7,212.5L1.5,214.5L1.3,216.5L1.1,218.5L0.9,220.5L0.8,222.5L0.7,224.5L0.6,226.5L0.5,228.5L0.5,230.5L0.5,232.5L0.6,234.5L0.7,236.5L0.8,238.5L0.9,240.5L1.1,242.5L1.3,244.5L1.5,246.5L1.7,248.5L2,250.5L2.2,252.5L2.6,254.5L2.9,256.5L3.3,258.5L3.7,260.5L4.1,262.5L4.6,264.5L5.1,266.5L5.6,268.5L6.2,270.6L6.7,272.6L7.3,274.6L7.8,276.6L8.5,278.6L9.1,280.6L9.8,282.6L10.6,284.6L11.4,286.6L12.3,288.6L13.3,290.6L14.3,292.6L15.3,294.6L16.4,296.6L17.6,298.6L18.8,300.6L20,302.6L21.3,304.6L22.7,306.6L24.1,308.6L25.5,310.6L27,312.6L28.6,314.5L30.3,316.5L31.9,318.5L33.6,320.5L35.3,322.4L37.1,324.4L38.9,326.4L40.7,328.3L42.7,330.2L44.6,332.2L46.7,334.1L48.8,336L50.9,337.9L53.2,339.8L55.4,341.7L57.7,343.6L60,345.4L62.4,347.3L64.8,349.1L67.2,351L69.6,352.8L72.1,354.6L74.6,356.4L77.2,358.1L79.7,359.9L82.3,361.6L84.9,363.3L87.6,365L90.3,366.7L93,368.4L95.8,370L98.7,371.6L101.7,373.2L104.8,374.8L108,376.4L111.3,377.9L114.6,379.4L118,380.8L121.3,382.2L124.6,383.5L127.9,384.8L131,386L134.1,387.1L137,388.1L139.8,389.1L142.5,390L145.1,390.7L147.5,391.4L149.8,392Z" fill="none" stroke="#000" stroke-width="0.8"/>
<text x="196.4" y="19.6" font-size="25.5" textLength="247.4" lengthAdjust="spacingAndGlyphs" fill="#000">F2000ERF (yrs 1-30)</text>
<path d="M64.5,64.6L64.5,49L73.6,49M64.5,56.5L70.8,56.5M86.4,51.6L85.6,50.5L84.5,49.7L83,49.2L81.5,49L79.9,49.2L78.5,49.8L77.4,50.7L76.7,51.8L76.4,52.9L76.7,54.1L77.4,55.2L78.6,56.1L80,56.6L81.6,56.8L83.3,57L84.8,57.5L86.1,58.3L87,59.3L87.3,60.4L87.2,61.6L86.6,62.6L85.5,63.6L84.1,64.2L82.4,64.6L80.7,64.6L79.1,64.2L77.7,63.6L76.6,62.6M88.7,64.6L94.9,49L101.1,64.6M90.8,59.3L99,59.3M308.3,51.6L307.5,50.5L306.3,49.7L304.9,49.2L303.3,49L301.7,49.2L300.3,49.8L299.2,50.7L298.5,51.8L298.3,52.9L298.5,54.1L299.3,55.2L300.4,56.1L301.8,56.6L303.4,56.8L305.1,57L306.7,57.5L307.9,58.3L308.8,59.3L309.2,60.4L309,61.6L308.4,62.6L307.3,63.6L305.9,64.2L304.3,64.6L302.6,64.6L300.9,64.2L299.5,63.6L298.4,62.6M325.2,56.8L325,58.5L324.5,60.2L323.7,61.7L322.7,62.9L321.4,63.8L320,64.4L318.5,64.6L317,64.4L315.6,63.8L314.3,62.9L313.2,61.7L312.4,60.2L312,58.5L311.8,56.8L312,55.1L312.4,53.4L313.2,51.9L314.3,50.7L315.6,49.8L317,49.2L318.5,49L320,49.2L321.4,49.8L322.7,50.7L323.7,51.9L324.5,53.4L325,55.1L325.2,56.8M327.9,64.6L327.9,49L340.4,64.6L340.4,49M498.3,44L501.7,59.6L505,44L508.3,59.6L511.7,44M514.8,63.8L528.9,41.3M533.1,59.6L533.1,49.1M533.1,52.1L533.1,52.6L533.3,51.5L533.8,50.6L534.5,49.8L535.5,49.3L536.5,49.1L537.6,49.3L538.5,49.8L539.3,50.6L539.8,51.5L540,52.6L540,59.6M540,52.1L540,52.6L540.1,51.5L540.6,50.6L541.4,49.8L542.3,49.3L543.4,49.1L544.5,49.3L545.4,49.8L546.2,50.6L546.7,51.5L546.8,52.6L546.8,59.6M549.8,52.6L555.3,44L560.7,52.6M564,47.1L564.4,46.2L565,45.4L565.8,44.8L566.7,44.3L567.8,44.1L568.9,44L569.9,44.2L570.9,44.6L571.8,45.2L572.4,45.9L572.9,46.8L573.2,47.7L573.2,48.7L572.9,49.7L563.5,59.6L574,59.6M113.4,466.8L113.8,465.9L114.3,465.2L115.1,464.5L116,464.1L117,463.8L118,463.8L119,464L120,464.4L120.8,464.9L121.5,465.6L121.9,466.5L122.1,467.4L122.1,468.3L121.9,469.2L112.9,478.7L122.9,478.7M127.8,477.7L127.8,478.7M134.8,466.8L137.8,463.8L137.8,478.7M218.8,466L218.1,465.1L217.2,464.4L216.2,464L215.1,463.8L214.1,464L213.1,464.4L212.2,465.1L211.5,466L211.1,467.1L210.5,470.5L210.5,473.9L210.5,473.9L210.7,475.2L211.1,476.3L211.8,477.3L212.7,478.1L213.7,478.5L214.8,478.7L216,478.5L217,478.1L217.9,477.3L218.6,476.3L219,475.2L219.2,473.9L219,472.7L218.6,471.5L217.9,470.6L217,469.8L216,469.3L214.8,469.2L213.7,469.3L212.7,469.8L211.8,470.6L211.1,471.5L210.7,472.7L210.5,473.9M232.4,471.2L232.3,472.9L232,474.5L231.5,475.9L230.7,477.1L229.9,478L229,478.5L228,478.7L227,478.5L226,478L225.2,477.1L224.5,475.9L223.9,474.5L223.6,472.9L223.5,471.2L223.6,469.6L223.9,468L224.5,466.6L225.2,465.4L226,464.5L227,464L228,463.8L229,464L229.9,464.5L230.7,465.4L231.5,466.6L232,468L232.3,469.6L232.4,471.2M269.1,466.8L272.1,463.8L272.1,478.7M289.4,471.2L289.3,472.9L288.9,474.5L288.4,475.9L287.7,477.1L286.8,478L285.9,478.5L284.9,478.7L283.9,478.5L283,478L282.1,477.1L281.4,475.9L280.9,474.5L280.5,472.9L280.4,471.2L280.5,469.6L280.9,468L281.4,466.6L282.1,465.4L283,464.5L283.9,464L284.9,463.8L285.9,464L286.8,464.5L287.7,465.4L288.4,466.6L288.9,468L289.3,469.6L289.4,471.2M302.5,471.2L302.4,472.9L302,474.5L301.5,475.9L300.8,477.1L300,478L299,478.5L298,478.7L297,478.5L296.1,478L295.2,477.1L294.5,475.9L294,474.5L293.7,472.9L293.5,471.2L293.7,469.6L294,468L294.5,466.6L295.2,465.4L296.1,464.5L297,464L298,463.8L299,464L300,464.5L300.8,465.4L301.5,466.6L302,468L302.4,469.6L302.5,471.2M333.1,466.8L336.1,463.8L336.1,478.7M351.3,478.7L351.3,463.8L343.5,474.2L354.6,474.2M366.5,471.2L366.4,472.9L366,474.5L365.5,475.9L364.8,477.1L364,478L363,478.5L362,478.7L361,478.5L360.1,478L359.2,477.1L358.5,475.9L358,474.5L357.7,472.9L357.5,471.2L357.7,469.6L358,468L358.5,466.6L359.2,465.4L360.1,464.5L361,464L362,463.8L363,464L364,464.5L364.8,465.4L365.5,466.6L366,468L366.4,469.6L366.5,471.2M397.1,466.8L400.1,463.8L400.1,478.7M412.9,471L411.8,470.8L410.7,470.3L409.9,469.5L409.4,468.5L409.2,467.4L409.4,466.3L409.9,465.3L410.7,464.5L411.8,464L412.9,463.8L414.1,464L415.1,464.5L415.9,465.3L416.4,466.3L416.6,467.4L416.4,468.5L415.9,469.5L415.1,470.3L414.1,470.8L412.9,471M412.9,471L414.3,471.1L415.5,471.7L416.5,472.5L417.2,473.6L417.4,474.8L417.2,476L416.5,477.1L415.5,478L414.3,478.5L412.9,478.7L411.5,478.5L410.3,478L409.3,477.1L408.7,476L408.4,474.8L408.7,473.6L409.3,472.5L410.3,471.7L411.5,471.1L412.9,471M430.5,471.2L430.4,472.9L430,474.5L429.5,475.9L428.8,477.1L428,478L427,478.5L426,478.7L425,478.5L424.1,478L423.2,477.1L422.5,475.9L422,474.5L421.7,472.9L421.5,471.2L421.7,469.6L422,468L422.5,466.6L423.2,465.4L424.1,464.5L425,464L426,463.8L427,464L428,464.5L428.8,465.4L429.5,466.6L430,468L430.4,469.6L430.5,471.2M492.2,466.3L492.8,465.2L493.7,464.4L494.9,464L496.1,463.8L497.3,464L498.4,464.6L499.3,465.4L499.8,466.4L500,467.6L499.8,468.7L499.2,469.7L498.3,470.5L497.2,471.1L496,471L497.4,471.1L498.7,471.7L499.7,472.5L500.4,473.6L500.6,474.8L500.4,476L499.8,477L498.8,477.9L497.5,478.5L496.1,478.7L494.7,478.5L493.4,478L492.3,477.2L491.7,476.2M506.7,466.8L509.7,463.8L509.7,478.7M527,471.2L526.9,472.9L526.5,474.5L526,475.9L525.3,477.1L524.5,478L523.5,478.5L522.5,478.7L521.5,478.5L520.6,478L519.7,477.1L519,475.9L518.5,474.5L518.2,472.9L518,471.2L518.2,469.6L518.5,468L519,466.6L519.7,465.4L520.6,464.5L521.5,464L522.5,463.8L523.5,464L524.5,464.5L525.3,465.4L526,466.6L526.5,468L526.9,469.6L527,471.2" fill="none" stroke="#000" stroke-width="1" stroke-linecap="round" stroke-linejoin="round" opacity="0.8"/>
<rect x="125" y="429" width="32" height="26" fill="#3f12f4"/>
<rect x="157" y="429" width="32" height="26" fill="#1f3fee"/>
<rect x="189" y="429" width="32" height="26" fill="#3277ee"/>
<rect x="221" y="429" width="32" height="26" fill="#10a0fa"/>
<rect x="253" y="429" width="32" height="26" fill="#42bff4"/>
<rect x="285" y="429" width="32" height="26" fill="#a9daf3"/>
<rect x="317" y="429" width="32" height="26" fill="#fff596"/>
<rect x="349" y="429" width="32" height="26" fill="#ffd228"/>
<rect x="381" y="429" width="32" height="26" fill="#ff9600"/>
<rect x="413" y="429" width="32" height="26" fill="#ff5000"/>
<rect x="445" y="429" width="32" height="26" fill="#f00000"/>
<rect x="477" y="429" width="32" height="26" fill="#d22828"/>
<path d="M125.3,429V455M157.3,429V455M189.3,429V455M221.3,429V455M253.3,429V455M285.3,429V455M317.3,429V455M349.3,429V455M381.3,429V455M413.3,429V455M445.3,429V455M477.3,429V455M509.3,429V455M125,429H510M125,455H510" stroke="#000" stroke-width="0.7" fill="none"/>
</svg></body></html>
